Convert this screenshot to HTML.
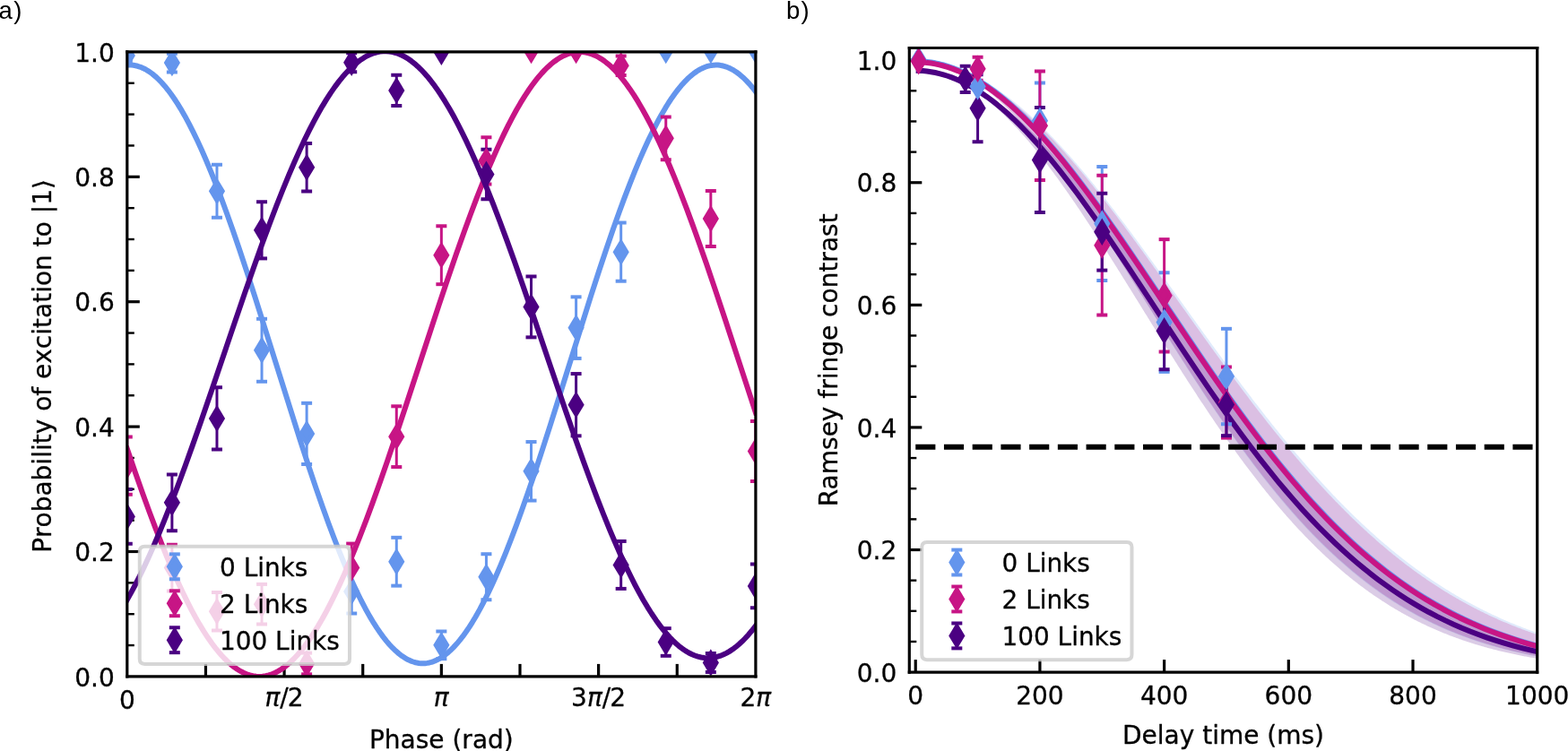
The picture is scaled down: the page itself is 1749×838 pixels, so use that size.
<!DOCTYPE html>
<html><head><meta charset="utf-8">
<style>html,body{margin:0;padding:0;background:#fff;} body{width:1749px;height:838px;overflow:hidden;position:relative;}
svg{display:block;} svg text{stroke:#000;stroke-width:0.3px;}
.lab{position:absolute;font-family:"Liberation Sans",Arial,sans-serif;font-size:27.5px;line-height:1;color:#000;}
</style></head><body>
<svg width="1749" height="838" viewBox="0 0 1749 838" version="1.1">
  <defs>
  <style type="text/css">*{stroke-linejoin: round; stroke-linecap: butt}</style>
 </defs>
 <g id="figure_1">
  <g id="patch_1">
   <path d="M 0 838 L 1749 838 L 1749 0 L 0 0 z
" style="fill: #ffffff"/>
  </g>
  <g id="axes_1">
   <g id="patch_2">
    <path d="M 141.8 754.9 L 842.9 754.9 L 842.9 57.9 L 141.8 57.9 z
" style="fill: #ffffff"/>
   </g>
   <g id="matplotlib.axis_1">
    <g id="xtick_1">
     <g id="text_1">
      <text style="font-size: 28px; font-family: 'DejaVu Sans', sans-serif; text-anchor: middle" x="141.8" y="790.975625" transform="rotate(-0 141.8 790.975625)">0</text>
     </g>
    </g>
    <g id="xtick_2">
     <g id="line2d_1">
            <g>
       <path d="M 0 0 L 0 -14 " transform="translate(229.4375 754.9)" style="stroke: #000000; stroke-width: 3.2"/>
      </g>
     </g>
    </g>
    <g id="xtick_3">
     <g id="line2d_2">
      <g>
       <path d="M 0 0 L 0 -14 " transform="translate(317.075 754.9)" style="stroke: #000000; stroke-width: 3.2"/>
      </g>
     </g>
     <g id="text_2">
      <!-- $\pi/2$ -->
      <g transform="translate(295.515 788.2756)">
       <text style="white-space: pre"><tspan x="0" y="-0.21875" style="font-style: oblique; font-size: 28px; font-family: 'DejaVu Sans', sans-serif; font-kerning: none">π</tspan><tspan x="16.8574" y="-0.21875" style="font-size: 28px; font-family: 'DejaVu Sans', sans-serif; font-kerning: none">/</tspan><tspan x="25.291" y="-0.21875" style="font-size: 28px; font-family: 'DejaVu Sans', sans-serif; font-kerning: none">2</tspan></text>
      </g>
     </g>
    </g>
    <g id="xtick_4">
     <g id="line2d_3">
      <g>
       <path d="M 0 0 L 0 -14 " transform="translate(404.7125 754.9)" style="stroke: #000000; stroke-width: 3.2"/>
      </g>
     </g>
    </g>
    <g id="xtick_5">
     <g id="line2d_4">
      <g>
       <path d="M 0 0 L 0 -14 " transform="translate(492.35 754.9)" style="stroke: #000000; stroke-width: 3.2"/>
      </g>
     </g>
     <g id="text_3">
      <!-- $\pi$ -->
      <g transform="translate(483.81 788.2756)">
       <text style="white-space: pre"><tspan x="0" y="-0.6875" style="font-style: oblique; font-size: 28px; font-family: 'DejaVu Sans', sans-serif; font-kerning: none">π</tspan></text>
      </g>
     </g>
    </g>
    <g id="xtick_6">
     <g id="line2d_5">
      <g>
       <path d="M 0 0 L 0 -14 " transform="translate(579.9875 754.9)" style="stroke: #000000; stroke-width: 3.2"/>
      </g>
     </g>
    </g>
    <g id="xtick_7">
     <g id="line2d_6">
      <g>
       <path d="M 0 0 L 0 -14 " transform="translate(667.625 754.9)" style="stroke: #000000; stroke-width: 3.2"/>
      </g>
     </g>
     <g id="text_4">
      <!-- $3\pi/2$ -->
      <g transform="translate(637.105 788.2756)">
       <text style="white-space: pre"><tspan x="0" y="-0.21875" style="font-size: 28px; font-family: 'DejaVu Sans', sans-serif; font-kerning: none">3</tspan><tspan x="17.8145" y="-0.21875" style="font-style: oblique; font-size: 28px; font-family: 'DejaVu Sans', sans-serif; font-kerning: none">π</tspan><tspan x="34.6719" y="-0.21875" style="font-size: 28px; font-family: 'DejaVu Sans', sans-serif; font-kerning: none">/</tspan><tspan x="43.1055" y="-0.21875" style="font-size: 28px; font-family: 'DejaVu Sans', sans-serif; font-kerning: none">2</tspan></text>
      </g>
     </g>
    </g>
    <g id="xtick_8">
     <g id="line2d_7">
      <g>
       <path d="M 0 0 L 0 -14 " transform="translate(755.2625 754.9)" style="stroke: #000000; stroke-width: 3.2"/>
      </g>
     </g>
    </g>
    <g id="xtick_9">
     <g id="text_5">
      <!-- $2\pi$ -->
      <g transform="translate(825.54 788.2756)">
       <text style="white-space: pre"><tspan x="0" y="-0.21875" style="font-size: 28px; font-family: 'DejaVu Sans', sans-serif; font-kerning: none">2</tspan><tspan x="17.8145" y="-0.21875" style="font-style: oblique; font-size: 28px; font-family: 'DejaVu Sans', sans-serif; font-kerning: none">π</tspan></text>
      </g>
     </g>
    </g>
    <g id="text_6">
     <text style="font-size: 28px; font-family: 'DejaVu Sans', sans-serif; text-anchor: middle" x="492.35" y="834.874375" transform="rotate(-0 492.35 834.874375)">Phase (rad)</text>
    </g>
   </g>
   <g id="matplotlib.axis_2">
    <g id="ytick_1">
     <g id="text_7">
      <text style="font-size: 28px; font-family: 'DejaVu Sans', sans-serif; text-anchor: end" x="127.8" y="765.537812" transform="rotate(-0 127.8 765.537812)">0.0</text>
     </g>
    </g>
    <g id="ytick_2">
     <g id="line2d_8">
            <g>
       <path d="M 0 0 L 14 0 " transform="translate(141.8 615.5)" style="stroke: #000000; stroke-width: 3.2"/>
      </g>
     </g>
     <g id="text_8">
      <text style="font-size: 28px; font-family: 'DejaVu Sans', sans-serif; text-anchor: end" x="127.8" y="626.137812" transform="rotate(-0 127.8 626.137812)">0.2</text>
     </g>
    </g>
    <g id="ytick_3">
     <g id="line2d_9">
      <g>
       <path d="M 0 0 L 14 0 " transform="translate(141.8 476.1)" style="stroke: #000000; stroke-width: 3.2"/>
      </g>
     </g>
     <g id="text_9">
      <text style="font-size: 28px; font-family: 'DejaVu Sans', sans-serif; text-anchor: end" x="127.8" y="486.737813" transform="rotate(-0 127.8 486.737813)">0.4</text>
     </g>
    </g>
    <g id="ytick_4">
     <g id="line2d_10">
      <g>
       <path d="M 0 0 L 14 0 " transform="translate(141.8 336.7)" style="stroke: #000000; stroke-width: 3.2"/>
      </g>
     </g>
     <g id="text_10">
      <text style="font-size: 28px; font-family: 'DejaVu Sans', sans-serif; text-anchor: end" x="127.8" y="347.337813" transform="rotate(-0 127.8 347.337813)">0.6</text>
     </g>
    </g>
    <g id="ytick_5">
     <g id="line2d_11">
      <g>
       <path d="M 0 0 L 14 0 " transform="translate(141.8 197.3)" style="stroke: #000000; stroke-width: 3.2"/>
      </g>
     </g>
     <g id="text_11">
      <text style="font-size: 28px; font-family: 'DejaVu Sans', sans-serif; text-anchor: end" x="127.8" y="207.937812" transform="rotate(-0 127.8 207.937812)">0.8</text>
     </g>
    </g>
    <g id="ytick_6">
     <g id="text_12">
      <text style="font-size: 28px; font-family: 'DejaVu Sans', sans-serif; text-anchor: end" x="127.8" y="68.537812" transform="rotate(-0 127.8 68.537812)">1.0</text>
     </g>
    </g>
    <g id="ytick_7">
     <g id="line2d_12">
            <g>
       <path d="M 0 0 L 8 0 " transform="translate(141.8 720.05)" style="stroke: #000000; stroke-width: 2.4"/>
      </g>
     </g>
    </g>
    <g id="ytick_8">
     <g id="line2d_13">
      <g>
       <path d="M 0 0 L 8 0 " transform="translate(141.8 685.2)" style="stroke: #000000; stroke-width: 2.4"/>
      </g>
     </g>
    </g>
    <g id="ytick_9">
     <g id="line2d_14">
      <g>
       <path d="M 0 0 L 8 0 " transform="translate(141.8 650.35)" style="stroke: #000000; stroke-width: 2.4"/>
      </g>
     </g>
    </g>
    <g id="ytick_10">
     <g id="line2d_15">
      <g>
       <path d="M 0 0 L 8 0 " transform="translate(141.8 580.65)" style="stroke: #000000; stroke-width: 2.4"/>
      </g>
     </g>
    </g>
    <g id="ytick_11">
     <g id="line2d_16">
      <g>
       <path d="M 0 0 L 8 0 " transform="translate(141.8 545.8)" style="stroke: #000000; stroke-width: 2.4"/>
      </g>
     </g>
    </g>
    <g id="ytick_12">
     <g id="line2d_17">
      <g>
       <path d="M 0 0 L 8 0 " transform="translate(141.8 510.95)" style="stroke: #000000; stroke-width: 2.4"/>
      </g>
     </g>
    </g>
    <g id="ytick_13">
     <g id="line2d_18">
      <g>
       <path d="M 0 0 L 8 0 " transform="translate(141.8 441.25)" style="stroke: #000000; stroke-width: 2.4"/>
      </g>
     </g>
    </g>
    <g id="ytick_14">
     <g id="line2d_19">
      <g>
       <path d="M 0 0 L 8 0 " transform="translate(141.8 406.4)" style="stroke: #000000; stroke-width: 2.4"/>
      </g>
     </g>
    </g>
    <g id="ytick_15">
     <g id="line2d_20">
      <g>
       <path d="M 0 0 L 8 0 " transform="translate(141.8 371.55)" style="stroke: #000000; stroke-width: 2.4"/>
      </g>
     </g>
    </g>
    <g id="ytick_16">
     <g id="line2d_21">
      <g>
       <path d="M 0 0 L 8 0 " transform="translate(141.8 301.85)" style="stroke: #000000; stroke-width: 2.4"/>
      </g>
     </g>
    </g>
    <g id="ytick_17">
     <g id="line2d_22">
      <g>
       <path d="M 0 0 L 8 0 " transform="translate(141.8 267)" style="stroke: #000000; stroke-width: 2.4"/>
      </g>
     </g>
    </g>
    <g id="ytick_18">
     <g id="line2d_23">
      <g>
       <path d="M 0 0 L 8 0 " transform="translate(141.8 232.15)" style="stroke: #000000; stroke-width: 2.4"/>
      </g>
     </g>
    </g>
    <g id="ytick_19">
     <g id="line2d_24">
      <g>
       <path d="M 0 0 L 8 0 " transform="translate(141.8 162.45)" style="stroke: #000000; stroke-width: 2.4"/>
      </g>
     </g>
    </g>
    <g id="ytick_20">
     <g id="line2d_25">
      <g>
       <path d="M 0 0 L 8 0 " transform="translate(141.8 127.6)" style="stroke: #000000; stroke-width: 2.4"/>
      </g>
     </g>
    </g>
    <g id="ytick_21">
     <g id="line2d_26">
      <g>
       <path d="M 0 0 L 8 0 " transform="translate(141.8 92.75)" style="stroke: #000000; stroke-width: 2.4"/>
      </g>
     </g>
    </g>
    <g id="ylab1" transform="translate(-3 2)">
     <!-- Probability of excitation to $|1\rangle$ -->
     <g transform="translate(60.55125 614.86) rotate(-90)">
      <text style="white-space: pre"><tspan x="0" y="-0.609375" style="font-size: 28px; font-family: 'DejaVu Sans', sans-serif; font-kerning: none">Probability of excitation to |1⟩</tspan></text>
     </g>
    </g>
   </g>
   <g id="LineCollection_1">
    <path d="M 141.8 69.052 L 141.8 55.112 " clip-path="url(#pd5bb736782)" style="fill: none; stroke: #6495ed; stroke-width: 3"/>
    <path d="M 191.878571 80.4131 L 191.878571 59.7819 " clip-path="url(#pd5bb736782)" style="fill: none; stroke: #6495ed; stroke-width: 3"/>
    <path d="M 241.957143 242.8141 L 241.957143 183.8479 " clip-path="url(#pd5bb736782)" style="fill: none; stroke: #6495ed; stroke-width: 3"/>
    <path d="M 292.035714 425.7766 L 292.035714 355.7978 " clip-path="url(#pd5bb736782)" style="fill: none; stroke: #6495ed; stroke-width: 3"/>
    <path d="M 342.114286 517.9897 L 342.114286 449.8231 " clip-path="url(#pd5bb736782)" style="fill: none; stroke: #6495ed; stroke-width: 3"/>
    <path d="M 392.192857 684.503 L 392.192857 635.713 " clip-path="url(#pd5bb736782)" style="fill: none; stroke: #6495ed; stroke-width: 3"/>
    <path d="M 442.271429 653.6259 L 442.271429 599.8175 " clip-path="url(#pd5bb736782)" style="fill: none; stroke: #6495ed; stroke-width: 3"/>
    <path d="M 492.35 735.1749 L 492.35 704.5069 " clip-path="url(#pd5bb736782)" style="fill: none; stroke: #6495ed; stroke-width: 3"/>
    <path d="M 542.428571 669.2387 L 542.428571 618.2183 " clip-path="url(#pd5bb736782)" style="fill: none; stroke: #6495ed; stroke-width: 3"/>
    <path d="M 592.507143 558.5551 L 592.507143 493.0371 " clip-path="url(#pd5bb736782)" style="fill: none; stroke: #6495ed; stroke-width: 3"/>
    <path d="M 642.585714 399.9179 L 642.585714 331.3331 " clip-path="url(#pd5bb736782)" style="fill: none; stroke: #6495ed; stroke-width: 3"/>
    <path d="M 692.664286 313.699 L 692.664286 248.5992 " clip-path="url(#pd5bb736782)" style="fill: none; stroke: #6495ed; stroke-width: 3"/>
    <path d="M 742.742857 56.1575 L 742.742857 56.1575 " clip-path="url(#pd5bb736782)" style="fill: none; stroke: #6495ed; stroke-width: 3"/>
    <path d="M 792.821429 56.1575 L 792.821429 56.1575 " clip-path="url(#pd5bb736782)" style="fill: none; stroke: #6495ed; stroke-width: 3"/>
    <path d="M 842.9 56.1575 L 842.9 56.1575 " clip-path="url(#pd5bb736782)" style="fill: none; stroke: #6495ed; stroke-width: 3"/>
   </g>
   <g id="line2d_27">
        <g clip-path="url(#pd5bb736782)">
     <path d="M 6 0 L -6 -0 " transform="translate(141.8 69.052)" style="fill: #6495ed; stroke: #6495ed; stroke-width: 4"/>
     <path d="M 6 0 L -6 -0 " transform="translate(191.878571 80.4131)" style="fill: #6495ed; stroke: #6495ed; stroke-width: 4"/>
     <path d="M 6 0 L -6 -0 " transform="translate(241.957143 242.8141)" style="fill: #6495ed; stroke: #6495ed; stroke-width: 4"/>
     <path d="M 6 0 L -6 -0 " transform="translate(292.035714 425.7766)" style="fill: #6495ed; stroke: #6495ed; stroke-width: 4"/>
     <path d="M 6 0 L -6 -0 " transform="translate(342.114286 517.9897)" style="fill: #6495ed; stroke: #6495ed; stroke-width: 4"/>
     <path d="M 6 0 L -6 -0 " transform="translate(392.192857 684.503)" style="fill: #6495ed; stroke: #6495ed; stroke-width: 4"/>
     <path d="M 6 0 L -6 -0 " transform="translate(442.271429 653.6259)" style="fill: #6495ed; stroke: #6495ed; stroke-width: 4"/>
     <path d="M 6 0 L -6 -0 " transform="translate(492.35 735.1749)" style="fill: #6495ed; stroke: #6495ed; stroke-width: 4"/>
     <path d="M 6 0 L -6 -0 " transform="translate(542.428571 669.2387)" style="fill: #6495ed; stroke: #6495ed; stroke-width: 4"/>
     <path d="M 6 0 L -6 -0 " transform="translate(592.507143 558.5551)" style="fill: #6495ed; stroke: #6495ed; stroke-width: 4"/>
     <path d="M 6 0 L -6 -0 " transform="translate(642.585714 399.9179)" style="fill: #6495ed; stroke: #6495ed; stroke-width: 4"/>
     <path d="M 6 0 L -6 -0 " transform="translate(692.664286 313.699)" style="fill: #6495ed; stroke: #6495ed; stroke-width: 4"/>
     <path d="M 6 0 L -6 -0 " transform="translate(742.742857 56.1575)" style="fill: #6495ed; stroke: #6495ed; stroke-width: 4"/>
     <path d="M 6 0 L -6 -0 " transform="translate(792.821429 56.1575)" style="fill: #6495ed; stroke: #6495ed; stroke-width: 4"/>
     <path d="M 6 0 L -6 -0 " transform="translate(842.9 56.1575)" style="fill: #6495ed; stroke: #6495ed; stroke-width: 4"/>
    </g>
   </g>
   <g id="line2d_28">
    <g clip-path="url(#pd5bb736782)">
     <path d="M 6 0 L -6 -0 " transform="translate(141.8 55.112)" style="fill: #6495ed; stroke: #6495ed; stroke-width: 4"/>
     <path d="M 6 0 L -6 -0 " transform="translate(191.878571 59.7819)" style="fill: #6495ed; stroke: #6495ed; stroke-width: 4"/>
     <path d="M 6 0 L -6 -0 " transform="translate(241.957143 183.8479)" style="fill: #6495ed; stroke: #6495ed; stroke-width: 4"/>
     <path d="M 6 0 L -6 -0 " transform="translate(292.035714 355.7978)" style="fill: #6495ed; stroke: #6495ed; stroke-width: 4"/>
     <path d="M 6 0 L -6 -0 " transform="translate(342.114286 449.8231)" style="fill: #6495ed; stroke: #6495ed; stroke-width: 4"/>
     <path d="M 6 0 L -6 -0 " transform="translate(392.192857 635.713)" style="fill: #6495ed; stroke: #6495ed; stroke-width: 4"/>
     <path d="M 6 0 L -6 -0 " transform="translate(442.271429 599.8175)" style="fill: #6495ed; stroke: #6495ed; stroke-width: 4"/>
     <path d="M 6 0 L -6 -0 " transform="translate(492.35 704.5069)" style="fill: #6495ed; stroke: #6495ed; stroke-width: 4"/>
     <path d="M 6 0 L -6 -0 " transform="translate(542.428571 618.2183)" style="fill: #6495ed; stroke: #6495ed; stroke-width: 4"/>
     <path d="M 6 0 L -6 -0 " transform="translate(592.507143 493.0371)" style="fill: #6495ed; stroke: #6495ed; stroke-width: 4"/>
     <path d="M 6 0 L -6 -0 " transform="translate(642.585714 331.3331)" style="fill: #6495ed; stroke: #6495ed; stroke-width: 4"/>
     <path d="M 6 0 L -6 -0 " transform="translate(692.664286 248.5992)" style="fill: #6495ed; stroke: #6495ed; stroke-width: 4"/>
     <path d="M 6 0 L -6 -0 " transform="translate(742.742857 56.1575)" style="fill: #6495ed; stroke: #6495ed; stroke-width: 4"/>
     <path d="M 6 0 L -6 -0 " transform="translate(792.821429 56.1575)" style="fill: #6495ed; stroke: #6495ed; stroke-width: 4"/>
     <path d="M 6 0 L -6 -0 " transform="translate(842.9 56.1575)" style="fill: #6495ed; stroke: #6495ed; stroke-width: 4"/>
    </g>
   </g>
   <g id="line2d_29">
    <path d="M 141.8 72.649365 L 144.140902 72.539001 L 146.481803 72.597393 L 148.822705 72.824513 L 151.163606 73.220244 L 153.504508 73.784387 L 155.845409 74.516657 L 158.186311 75.416684 L 160.527212 76.484012 L 162.868114 77.718103 L 166.379466 79.88053 L 169.890818 82.41429 L 173.40217 85.316501 L 176.913523 88.583862 L 180.424875 92.212658 L 183.936227 96.198762 L 187.447579 100.537641 L 190.958932 105.22436 L 194.470284 110.253589 L 197.981636 115.61961 L 201.492988 121.316318 L 206.174791 129.415083 L 210.856594 138.073807 L 215.538397 147.274983 L 220.2202 157.000012 L 224.902003 167.229232 L 229.583806 177.941965 L 235.43606 191.979737 L 241.288314 206.694752 L 247.140568 222.040531 L 252.992821 237.968607 L 260.015526 257.779973 L 267.03823 278.267217 L 275.231386 302.898785 L 284.594992 331.824448 L 296.299499 368.801255 L 334.924374 491.621196 L 344.28798 520.268148 L 352.481135 544.587017 L 359.50384 564.756621 L 366.526544 584.20607 L 372.378798 599.799904 L 378.231052 614.782888 L 384.083306 629.1077 L 388.765109 640.063186 L 393.446912 650.546294 L 398.128715 660.535832 L 402.810518 670.011603 L 407.492321 678.954452 L 412.174124 687.3463 L 416.855927 695.170182 L 420.367279 700.655806 L 423.878631 705.806789 L 427.389983 710.617274 L 430.901336 715.081789 L 434.412688 719.195257 L 437.92404 722.953001 L 441.435392 726.350747 L 444.946745 729.38463 L 448.458097 732.0512 L 451.969449 734.347426 L 455.480801 736.270695 L 457.821703 737.344579 L 460.162604 738.251181 L 462.503506 738.990042 L 464.844407 739.560789 L 467.185309 739.963134 L 469.52621 740.196874 L 471.867112 740.261889 L 474.208013 740.158148 L 476.548915 739.885702 L 478.889816 739.44469 L 481.230718 738.835334 L 483.571619 738.057943 L 485.912521 737.112909 L 488.253422 736.00071 L 491.764775 734.020229 L 495.276127 731.667165 L 498.787479 728.944192 L 502.298831 725.854407 L 505.810184 722.401324 L 509.321536 718.588871 L 512.832888 714.421383 L 516.34424 709.903599 L 519.855593 705.040657 L 523.366945 699.838087 L 526.878297 694.301807 L 530.389649 688.438112 L 535.071452 680.122118 L 539.753255 671.252763 L 544.435058 661.847976 L 549.116861 651.92677 L 553.798664 641.509203 L 558.480467 630.616335 L 564.332721 616.365493 L 570.184975 601.451479 L 576.037229 585.921398 L 581.889482 569.824303 L 588.912187 549.831032 L 595.934891 529.185482 L 604.128047 504.400001 L 613.491653 475.340175 L 625.19616 438.259809 L 659.139232 330.146386 L 668.502838 301.26245 L 676.695993 276.678257 L 683.718698 256.23946 L 690.741402 236.483546 L 696.593656 220.606852 L 702.44591 205.316982 L 708.298164 190.662229 L 714.150417 176.688879 L 718.83222 166.030544 L 723.514023 155.858145 L 728.195826 146.192245 L 732.877629 137.052387 L 737.559432 128.457047 L 742.241235 120.423602 L 745.752588 114.777076 L 749.26394 109.462195 L 752.775292 104.485006 L 756.286644 99.851168 L 759.797997 95.56595 L 763.309349 91.634228 L 766.820701 88.060471 L 770.332053 84.848743 L 773.843406 82.002699 L 777.354758 79.525573 L 780.86611 77.420184 L 784.377462 75.688925 L 786.718364 74.743592 L 789.059265 73.965902 L 791.400167 73.356246 L 793.741068 72.914934 L 796.08197 72.642188 L 798.422871 72.538146 L 800.763773 72.602861 L 803.104674 72.836299 L 805.445576 73.238344 L 807.786477 73.808792 L 810.127379 74.547354 L 812.46828 75.453657 L 814.809182 76.527243 L 818.320534 78.450067 L 821.831886 80.745851 L 825.343239 83.411984 L 828.854591 86.445433 L 832.365943 89.842748 L 835.877295 93.600067 L 839.388648 97.713115 L 842.9 102.177216 L 842.9 102.177216 " clip-path="url(#pd5bb736782)" style="fill: none; stroke: #6495ed; stroke-width: 6; stroke-linecap: square"/>
   </g>
   <g id="LineCollection_2">
    <path d="M 141.8 551.6548 L 141.8 487.5308 " clip-path="url(#pd5bb736782)" style="fill: none; stroke: #c71585; stroke-width: 3"/>
    <path d="M 191.878571 659.411 L 191.878571 607.833 " clip-path="url(#pd5bb736782)" style="fill: none; stroke: #c71585; stroke-width: 3"/>
    <path d="M 241.957143 703.6008 L 241.957143 660.9444 " clip-path="url(#pd5bb736782)" style="fill: none; stroke: #c71585; stroke-width: 3"/>
    <path d="M 292.035714 696.4914 L 292.035714 651.8834 " clip-path="url(#pd5bb736782)" style="fill: none; stroke: #c71585; stroke-width: 3"/>
    <path d="M 342.114286 752.3211 L 342.114286 728.6231 " clip-path="url(#pd5bb736782)" style="fill: none; stroke: #c71585; stroke-width: 3"/>
    <path d="M 392.192857 660.3868 L 392.192857 606.5784 " clip-path="url(#pd5bb736782)" style="fill: none; stroke: #c71585; stroke-width: 3"/>
    <path d="M 442.271429 521.0565 L 442.271429 453.3081 " clip-path="url(#pd5bb736782)" style="fill: none; stroke: #c71585; stroke-width: 3"/>
    <path d="M 492.35 317.184 L 492.35 252.2236 " clip-path="url(#pd5bb736782)" style="fill: none; stroke: #c71585; stroke-width: 3"/>
    <path d="M 542.428571 205.5943 L 542.428571 153.1799 " clip-path="url(#pd5bb736782)" style="fill: none; stroke: #c71585; stroke-width: 3"/>
    <path d="M 592.507143 56.1575 L 592.507143 56.1575 " clip-path="url(#pd5bb736782)" style="fill: none; stroke: #c71585; stroke-width: 3"/>
    <path d="M 642.585714 56.1575 L 642.585714 56.1575 " clip-path="url(#pd5bb736782)" style="fill: none; stroke: #c71585; stroke-width: 3"/>
    <path d="M 692.664286 84.0375 L 692.664286 62.4305 " clip-path="url(#pd5bb736782)" style="fill: none; stroke: #c71585; stroke-width: 3"/>
    <path d="M 742.742857 178.1325 L 742.742857 130.4577 " clip-path="url(#pd5bb736782)" style="fill: none; stroke: #c71585; stroke-width: 3"/>
    <path d="M 792.821429 275.0852 L 792.821429 213.0522 " clip-path="url(#pd5bb736782)" style="fill: none; stroke: #c71585; stroke-width: 3"/>
    <path d="M 842.9 537.0178 L 842.9 470.1058 " clip-path="url(#pd5bb736782)" style="fill: none; stroke: #c71585; stroke-width: 3"/>
   </g>
   <g id="line2d_30">
        <g clip-path="url(#pd5bb736782)">
     <path d="M 6 0 L -6 -0 " transform="translate(141.8 551.6548)" style="fill: #c71585; stroke: #c71585; stroke-width: 4"/>
     <path d="M 6 0 L -6 -0 " transform="translate(191.878571 659.411)" style="fill: #c71585; stroke: #c71585; stroke-width: 4"/>
     <path d="M 6 0 L -6 -0 " transform="translate(241.957143 703.6008)" style="fill: #c71585; stroke: #c71585; stroke-width: 4"/>
     <path d="M 6 0 L -6 -0 " transform="translate(292.035714 696.4914)" style="fill: #c71585; stroke: #c71585; stroke-width: 4"/>
     <path d="M 6 0 L -6 -0 " transform="translate(342.114286 752.3211)" style="fill: #c71585; stroke: #c71585; stroke-width: 4"/>
     <path d="M 6 0 L -6 -0 " transform="translate(392.192857 660.3868)" style="fill: #c71585; stroke: #c71585; stroke-width: 4"/>
     <path d="M 6 0 L -6 -0 " transform="translate(442.271429 521.0565)" style="fill: #c71585; stroke: #c71585; stroke-width: 4"/>
     <path d="M 6 0 L -6 -0 " transform="translate(492.35 317.184)" style="fill: #c71585; stroke: #c71585; stroke-width: 4"/>
     <path d="M 6 0 L -6 -0 " transform="translate(542.428571 205.5943)" style="fill: #c71585; stroke: #c71585; stroke-width: 4"/>
     <path d="M 6 0 L -6 -0 " transform="translate(592.507143 56.1575)" style="fill: #c71585; stroke: #c71585; stroke-width: 4"/>
     <path d="M 6 0 L -6 -0 " transform="translate(642.585714 56.1575)" style="fill: #c71585; stroke: #c71585; stroke-width: 4"/>
     <path d="M 6 0 L -6 -0 " transform="translate(692.664286 84.0375)" style="fill: #c71585; stroke: #c71585; stroke-width: 4"/>
     <path d="M 6 0 L -6 -0 " transform="translate(742.742857 178.1325)" style="fill: #c71585; stroke: #c71585; stroke-width: 4"/>
     <path d="M 6 0 L -6 -0 " transform="translate(792.821429 275.0852)" style="fill: #c71585; stroke: #c71585; stroke-width: 4"/>
     <path d="M 6 0 L -6 -0 " transform="translate(842.9 537.0178)" style="fill: #c71585; stroke: #c71585; stroke-width: 4"/>
    </g>
   </g>
   <g id="line2d_31">
    <g clip-path="url(#pd5bb736782)">
     <path d="M 6 0 L -6 -0 " transform="translate(141.8 487.5308)" style="fill: #c71585; stroke: #c71585; stroke-width: 4"/>
     <path d="M 6 0 L -6 -0 " transform="translate(191.878571 607.833)" style="fill: #c71585; stroke: #c71585; stroke-width: 4"/>
     <path d="M 6 0 L -6 -0 " transform="translate(241.957143 660.9444)" style="fill: #c71585; stroke: #c71585; stroke-width: 4"/>
     <path d="M 6 0 L -6 -0 " transform="translate(292.035714 651.8834)" style="fill: #c71585; stroke: #c71585; stroke-width: 4"/>
     <path d="M 6 0 L -6 -0 " transform="translate(342.114286 728.6231)" style="fill: #c71585; stroke: #c71585; stroke-width: 4"/>
     <path d="M 6 0 L -6 -0 " transform="translate(392.192857 606.5784)" style="fill: #c71585; stroke: #c71585; stroke-width: 4"/>
     <path d="M 6 0 L -6 -0 " transform="translate(442.271429 453.3081)" style="fill: #c71585; stroke: #c71585; stroke-width: 4"/>
     <path d="M 6 0 L -6 -0 " transform="translate(492.35 252.2236)" style="fill: #c71585; stroke: #c71585; stroke-width: 4"/>
     <path d="M 6 0 L -6 -0 " transform="translate(542.428571 153.1799)" style="fill: #c71585; stroke: #c71585; stroke-width: 4"/>
     <path d="M 6 0 L -6 -0 " transform="translate(592.507143 56.1575)" style="fill: #c71585; stroke: #c71585; stroke-width: 4"/>
     <path d="M 6 0 L -6 -0 " transform="translate(642.585714 56.1575)" style="fill: #c71585; stroke: #c71585; stroke-width: 4"/>
     <path d="M 6 0 L -6 -0 " transform="translate(692.664286 62.4305)" style="fill: #c71585; stroke: #c71585; stroke-width: 4"/>
     <path d="M 6 0 L -6 -0 " transform="translate(742.742857 130.4577)" style="fill: #c71585; stroke: #c71585; stroke-width: 4"/>
     <path d="M 6 0 L -6 -0 " transform="translate(792.821429 213.0522)" style="fill: #c71585; stroke: #c71585; stroke-width: 4"/>
     <path d="M 6 0 L -6 -0 " transform="translate(842.9 470.1058)" style="fill: #c71585; stroke: #c71585; stroke-width: 4"/>
    </g>
   </g>
   <g id="line2d_32">
    <path d="M 141.8 500.740398 L 151.163606 528.01136 L 159.356761 551.203777 L 166.379466 570.489555 L 173.40217 589.149853 L 180.424875 607.113542 L 186.277129 621.501663 L 192.129382 635.320333 L 197.981636 648.53297 L 203.83389 661.104595 L 208.515693 670.677942 L 213.197496 679.803485 L 217.879299 688.465762 L 222.561102 696.650095 L 227.242905 704.342616 L 231.924708 711.53029 L 236.606511 718.200939 L 240.117863 722.857795 L 243.629215 727.213008 L 247.140568 731.262428 L 250.65192 735.002195 L 254.163272 738.428745 L 257.674624 741.53881 L 261.185977 744.329427 L 264.697329 746.797935 L 268.208681 748.941982 L 271.720033 750.759524 L 275.231386 752.248828 L 278.742738 753.408476 L 282.25409 754.237361 L 285.765442 754.734693 L 289.276795 754.899999 L 292.788147 754.733121 L 296.299499 754.234218 L 299.810851 753.403765 L 303.322204 752.242554 L 306.833556 750.751693 L 310.344908 748.932601 L 313.85626 746.787013 L 317.367613 744.316975 L 320.878965 741.524839 L 324.390317 738.413269 L 327.901669 734.985229 L 331.413022 731.243988 L 334.924374 727.193111 L 338.435726 722.83646 L 341.947078 718.178187 L 345.458431 713.222732 L 350.140234 706.161381 L 354.822037 698.592102 L 359.50384 690.527721 L 364.185643 681.981901 L 368.867446 672.969124 L 373.549249 663.504661 L 378.231052 653.604549 L 384.083306 640.642401 L 389.935559 627.060131 L 395.787813 612.893695 L 401.640067 598.180597 L 408.662771 579.858223 L 415.685476 560.874658 L 423.878631 537.988158 L 432.071786 514.419016 L 441.435392 486.803952 L 453.1399 451.541391 L 473.037563 390.701157 L 489.423873 340.875332 L 499.95793 309.497533 L 509.321536 282.295371 L 517.514691 259.177029 L 524.537396 239.964749 L 531.5601 221.38689 L 538.582805 203.514268 L 544.435058 189.208377 L 550.287312 175.477469 L 556.139566 162.357895 L 561.99182 149.884387 L 566.673623 140.392998 L 571.355426 131.352344 L 576.037229 122.777741 L 580.719032 114.68372 L 585.400835 107.083995 L 590.082638 99.991444 L 593.59399 95.012125 L 597.105342 90.329617 L 600.616694 85.94838 L 604.128047 81.872593 L 607.639399 78.10614 L 611.150751 74.652611 L 614.662104 71.515297 L 618.173456 68.69719 L 621.684808 66.200975 L 625.19616 64.029032 L 628.707513 62.18343 L 632.218865 60.66593 L 635.730217 59.477978 L 639.241569 58.620706 L 642.752922 58.094931 L 646.264274 57.901154 L 649.775626 58.03956 L 653.286978 58.510017 L 656.798331 59.312077 L 660.309683 60.444975 L 663.821035 61.907632 L 667.332387 63.698652 L 670.84374 65.81633 L 674.355092 68.258645 L 677.866444 71.023271 L 681.377796 74.107573 L 684.889149 77.50861 L 688.400501 81.22314 L 691.911853 85.247623 L 695.423205 89.578223 L 698.934558 94.210812 L 702.44591 99.140974 L 707.127713 106.169253 L 711.809516 113.706255 L 716.491319 121.73921 L 721.173122 130.254507 L 725.854925 139.237715 L 730.536728 148.673615 L 735.218531 158.546217 L 741.070785 171.475529 L 746.923038 185.02677 L 752.775292 199.164064 L 758.627546 213.849986 L 765.65025 232.142442 L 772.672955 251.099137 L 779.695659 270.647811 L 787.888815 294.103268 L 797.252421 321.61561 L 808.956928 356.791564 L 826.513689 410.42187 L 842.9 460.416156 L 842.9 460.416156 " clip-path="url(#pd5bb736782)" style="fill: none; stroke: #c71585; stroke-width: 6; stroke-linecap: square"/>
   </g>
   <g id="LineCollection_3">
    <path d="M 141.8 606.8572 L 141.8 545.9394 " clip-path="url(#pd5bb736782)" style="fill: none; stroke: #4b0082; stroke-width: 3"/>
    <path d="M 191.878571 592.1505 L 191.878571 529.4205 " clip-path="url(#pd5bb736782)" style="fill: none; stroke: #4b0082; stroke-width: 3"/>
    <path d="M 241.957143 501.4708 L 241.957143 432.3284 " clip-path="url(#pd5bb736782)" style="fill: none; stroke: #4b0082; stroke-width: 3"/>
    <path d="M 292.035714 288.3979 L 292.035714 225.2497 " clip-path="url(#pd5bb736782)" style="fill: none; stroke: #4b0082; stroke-width: 3"/>
    <path d="M 342.114286 213.5401 L 342.114286 160.0105 " clip-path="url(#pd5bb736782)" style="fill: none; stroke: #4b0082; stroke-width: 3"/>
    <path d="M 392.192857 80.204 L 392.192857 59.294 " clip-path="url(#pd5bb736782)" style="fill: none; stroke: #4b0082; stroke-width: 3"/>
    <path d="M 442.271429 118.0511 L 442.271429 83.7587 " clip-path="url(#pd5bb736782)" style="fill: none; stroke: #4b0082; stroke-width: 3"/>
    <path d="M 492.35 57.9 L 492.35 57.9 " clip-path="url(#pd5bb736782)" style="fill: none; stroke: #4b0082; stroke-width: 3"/>
    <path d="M 542.428571 222.3223 L 542.428571 166.8411 " clip-path="url(#pd5bb736782)" style="fill: none; stroke: #4b0082; stroke-width: 3"/>
    <path d="M 592.507143 376.3593 L 592.507143 308.4715 " clip-path="url(#pd5bb736782)" style="fill: none; stroke: #4b0082; stroke-width: 3"/>
    <path d="M 642.585714 486.3459 L 642.585714 417.0641 " clip-path="url(#pd5bb736782)" style="fill: none; stroke: #4b0082; stroke-width: 3"/>
    <path d="M 692.664286 656.9018 L 692.664286 603.9298 " clip-path="url(#pd5bb736782)" style="fill: none; stroke: #4b0082; stroke-width: 3"/>
    <path d="M 742.742857 731.8293 L 742.742857 701.1613 " clip-path="url(#pd5bb736782)" style="fill: none; stroke: #4b0082; stroke-width: 3"/>
    <path d="M 792.821429 750.0907 L 792.821429 729.0413 " clip-path="url(#pd5bb736782)" style="fill: none; stroke: #4b0082; stroke-width: 3"/>
    <path d="M 842.9 678.3694 L 842.9 629.5794 " clip-path="url(#pd5bb736782)" style="fill: none; stroke: #4b0082; stroke-width: 3"/>
   </g>
   <g id="line2d_33">
        <g clip-path="url(#pd5bb736782)">
     <path d="M 6 0 L -6 -0 " transform="translate(141.8 606.8572)" style="fill: #4b0082; stroke: #4b0082; stroke-width: 4"/>
     <path d="M 6 0 L -6 -0 " transform="translate(191.878571 592.1505)" style="fill: #4b0082; stroke: #4b0082; stroke-width: 4"/>
     <path d="M 6 0 L -6 -0 " transform="translate(241.957143 501.4708)" style="fill: #4b0082; stroke: #4b0082; stroke-width: 4"/>
     <path d="M 6 0 L -6 -0 " transform="translate(292.035714 288.3979)" style="fill: #4b0082; stroke: #4b0082; stroke-width: 4"/>
     <path d="M 6 0 L -6 -0 " transform="translate(342.114286 213.5401)" style="fill: #4b0082; stroke: #4b0082; stroke-width: 4"/>
     <path d="M 6 0 L -6 -0 " transform="translate(392.192857 80.204)" style="fill: #4b0082; stroke: #4b0082; stroke-width: 4"/>
     <path d="M 6 0 L -6 -0 " transform="translate(442.271429 118.0511)" style="fill: #4b0082; stroke: #4b0082; stroke-width: 4"/>
     <path d="M 6 0 L -6 -0 " transform="translate(492.35 57.9)" style="fill: #4b0082; stroke: #4b0082; stroke-width: 4"/>
     <path d="M 6 0 L -6 -0 " transform="translate(542.428571 222.3223)" style="fill: #4b0082; stroke: #4b0082; stroke-width: 4"/>
     <path d="M 6 0 L -6 -0 " transform="translate(592.507143 376.3593)" style="fill: #4b0082; stroke: #4b0082; stroke-width: 4"/>
     <path d="M 6 0 L -6 -0 " transform="translate(642.585714 486.3459)" style="fill: #4b0082; stroke: #4b0082; stroke-width: 4"/>
     <path d="M 6 0 L -6 -0 " transform="translate(692.664286 656.9018)" style="fill: #4b0082; stroke: #4b0082; stroke-width: 4"/>
     <path d="M 6 0 L -6 -0 " transform="translate(742.742857 731.8293)" style="fill: #4b0082; stroke: #4b0082; stroke-width: 4"/>
     <path d="M 6 0 L -6 -0 " transform="translate(792.821429 750.0907)" style="fill: #4b0082; stroke: #4b0082; stroke-width: 4"/>
     <path d="M 6 0 L -6 -0 " transform="translate(842.9 678.3694)" style="fill: #4b0082; stroke: #4b0082; stroke-width: 4"/>
    </g>
   </g>
   <g id="line2d_34">
    <g clip-path="url(#pd5bb736782)">
     <path d="M 6 0 L -6 -0 " transform="translate(141.8 545.9394)" style="fill: #4b0082; stroke: #4b0082; stroke-width: 4"/>
     <path d="M 6 0 L -6 -0 " transform="translate(191.878571 529.4205)" style="fill: #4b0082; stroke: #4b0082; stroke-width: 4"/>
     <path d="M 6 0 L -6 -0 " transform="translate(241.957143 432.3284)" style="fill: #4b0082; stroke: #4b0082; stroke-width: 4"/>
     <path d="M 6 0 L -6 -0 " transform="translate(292.035714 225.2497)" style="fill: #4b0082; stroke: #4b0082; stroke-width: 4"/>
     <path d="M 6 0 L -6 -0 " transform="translate(342.114286 160.0105)" style="fill: #4b0082; stroke: #4b0082; stroke-width: 4"/>
     <path d="M 6 0 L -6 -0 " transform="translate(392.192857 59.294)" style="fill: #4b0082; stroke: #4b0082; stroke-width: 4"/>
     <path d="M 6 0 L -6 -0 " transform="translate(442.271429 83.7587)" style="fill: #4b0082; stroke: #4b0082; stroke-width: 4"/>
     <path d="M 6 0 L -6 -0 " transform="translate(492.35 57.9)" style="fill: #4b0082; stroke: #4b0082; stroke-width: 4"/>
     <path d="M 6 0 L -6 -0 " transform="translate(542.428571 166.8411)" style="fill: #4b0082; stroke: #4b0082; stroke-width: 4"/>
     <path d="M 6 0 L -6 -0 " transform="translate(592.507143 308.4715)" style="fill: #4b0082; stroke: #4b0082; stroke-width: 4"/>
     <path d="M 6 0 L -6 -0 " transform="translate(642.585714 417.0641)" style="fill: #4b0082; stroke: #4b0082; stroke-width: 4"/>
     <path d="M 6 0 L -6 -0 " transform="translate(692.664286 603.9298)" style="fill: #4b0082; stroke: #4b0082; stroke-width: 4"/>
     <path d="M 6 0 L -6 -0 " transform="translate(742.742857 701.1613)" style="fill: #4b0082; stroke: #4b0082; stroke-width: 4"/>
     <path d="M 6 0 L -6 -0 " transform="translate(792.821429 729.0413)" style="fill: #4b0082; stroke: #4b0082; stroke-width: 4"/>
     <path d="M 6 0 L -6 -0 " transform="translate(842.9 629.5794)" style="fill: #4b0082; stroke: #4b0082; stroke-width: 4"/>
    </g>
   </g>
   <g id="line2d_35">
    <path d="M 141.8 669.218302 L 146.481803 660.841178 L 151.163606 652.021679 L 155.845409 642.774523 L 160.527212 633.11514 L 166.379466 620.485836 L 172.23172 607.270587 L 178.083973 593.503846 L 183.936227 579.221504 L 190.958932 561.454618 L 197.981636 543.065646 L 206.174791 520.91781 L 214.367947 498.130439 L 223.731553 471.454091 L 235.43606 437.419436 L 257.674624 371.853658 L 272.890484 327.360495 L 283.424541 297.216228 L 292.788147 271.11185 L 300.981302 248.946771 L 308.004007 230.540817 L 315.026711 212.754984 L 322.049416 195.656035 L 327.901669 181.978007 L 333.753923 168.857266 L 339.606177 156.32802 L 345.458431 144.422934 L 350.140234 135.369175 L 354.822037 126.749883 L 359.50384 118.57944 L 364.185643 110.871482 L 368.867446 103.638869 L 373.549249 96.89367 L 378.231052 90.647142 L 381.742404 86.295801 L 385.253756 82.234926 L 388.765109 78.46833 L 392.276461 74.999549 L 395.787813 71.831839 L 399.299165 68.968173 L 402.810518 66.411239 L 406.32187 64.163438 L 409.833222 62.226879 L 413.344574 60.603381 L 416.855927 59.294466 L 420.367279 58.301365 L 423.878631 57.625009 L 427.389983 57.266032 L 430.901336 57.224773 L 434.412688 57.501269 L 437.92404 58.095261 L 441.435392 59.006192 L 444.946745 60.233207 L 448.458097 61.775153 L 451.969449 63.630583 L 455.480801 65.797756 L 458.992154 68.274638 L 462.503506 71.058902 L 466.014858 74.147937 L 469.52621 77.538841 L 473.037563 81.228433 L 476.548915 85.213248 L 480.060267 89.489547 L 483.571619 94.053315 L 487.082972 98.900268 L 491.764775 105.795481 L 496.446578 113.17451 L 501.128381 121.025042 L 505.810184 129.333977 L 510.491987 138.087449 L 515.17379 147.270853 L 519.855593 156.868863 L 525.707846 169.424955 L 531.5601 182.571061 L 537.412354 196.272909 L 543.264608 210.494777 L 550.287312 228.195149 L 557.310017 246.524446 L 565.503172 268.611605 L 573.696327 291.348221 L 583.059933 317.979045 L 594.764441 351.975949 L 614.662104 410.625125 L 631.048414 458.666143 L 641.582471 488.932205 L 650.946077 515.182615 L 659.139232 537.503848 L 666.161937 556.064099 L 673.184641 574.022499 L 680.207346 591.311636 L 686.059599 605.161103 L 691.911853 618.464578 L 697.764107 631.187377 L 703.616361 643.296331 L 708.298164 652.520256 L 712.979967 661.315691 L 717.66177 669.66796 L 722.343573 677.563126 L 727.025376 684.988014 L 731.707179 691.930234 L 736.388982 698.378203 L 739.900334 702.883323 L 743.411686 707.100128 L 746.923038 711.02466 L 750.434391 714.653235 L 753.945743 717.982446 L 757.457095 721.009169 L 760.968447 723.730563 L 764.4798 726.144072 L 767.991152 728.247432 L 771.502504 730.038668 L 775.013856 731.516099 L 778.525209 732.678338 L 782.036561 733.524293 L 785.547913 734.053171 L 789.059265 734.264476 L 792.570618 734.158008 L 796.08197 733.733868 L 799.593322 732.992455 L 803.104674 731.934463 L 806.616027 730.560886 L 810.127379 728.873014 L 813.638731 726.872431 L 817.150083 724.561014 L 820.661436 721.940934 L 824.172788 719.01465 L 827.68414 715.784908 L 831.195492 712.254741 L 834.706845 708.427462 L 838.218197 704.306664 L 841.729549 699.896215 L 842.9 698.362406 L 842.9 698.362406 " clip-path="url(#pd5bb736782)" style="fill: none; stroke: #4b0082; stroke-width: 6; stroke-linecap: square"/>
   </g>
   <g id="line2d_36">
        <g clip-path="url(#pd5bb736782)">
     <path d="M -0 11.313708 L 6.788225 0 L 0 -11.313708 L -6.788225 -0 z
" transform="translate(141.8 62.082)" style="fill: #6495ed; stroke: #6495ed; stroke-width: 4; stroke-linejoin: miter"/>
     <path d="M -0 11.313708 L 6.788225 0 L 0 -11.313708 L -6.788225 -0 z
" transform="translate(191.878571 70.0975)" style="fill: #6495ed; stroke: #6495ed; stroke-width: 4; stroke-linejoin: miter"/>
     <path d="M -0 11.313708 L 6.788225 0 L 0 -11.313708 L -6.788225 -0 z
" transform="translate(241.957143 213.331)" style="fill: #6495ed; stroke: #6495ed; stroke-width: 4; stroke-linejoin: miter"/>
     <path d="M -0 11.313708 L 6.788225 0 L 0 -11.313708 L -6.788225 -0 z
" transform="translate(292.035714 390.7872)" style="fill: #6495ed; stroke: #6495ed; stroke-width: 4; stroke-linejoin: miter"/>
     <path d="M -0 11.313708 L 6.788225 0 L 0 -11.313708 L -6.788225 -0 z
" transform="translate(342.114286 483.9064)" style="fill: #6495ed; stroke: #6495ed; stroke-width: 4; stroke-linejoin: miter"/>
     <path d="M -0 11.313708 L 6.788225 0 L 0 -11.313708 L -6.788225 -0 z
" transform="translate(392.192857 660.108)" style="fill: #6495ed; stroke: #6495ed; stroke-width: 4; stroke-linejoin: miter"/>
     <path d="M -0 11.313708 L 6.788225 0 L 0 -11.313708 L -6.788225 -0 z
" transform="translate(442.271429 626.7217)" style="fill: #6495ed; stroke: #6495ed; stroke-width: 4; stroke-linejoin: miter"/>
     <path d="M -0 11.313708 L 6.788225 0 L 0 -11.313708 L -6.788225 -0 z
" transform="translate(492.35 719.8409)" style="fill: #6495ed; stroke: #6495ed; stroke-width: 4; stroke-linejoin: miter"/>
     <path d="M -0 11.313708 L 6.788225 0 L 0 -11.313708 L -6.788225 -0 z
" transform="translate(542.428571 643.7285)" style="fill: #6495ed; stroke: #6495ed; stroke-width: 4; stroke-linejoin: miter"/>
     <path d="M -0 11.313708 L 6.788225 0 L 0 -11.313708 L -6.788225 -0 z
" transform="translate(592.507143 525.7961)" style="fill: #6495ed; stroke: #6495ed; stroke-width: 4; stroke-linejoin: miter"/>
     <path d="M -0 11.313708 L 6.788225 0 L 0 -11.313708 L -6.788225 -0 z
" transform="translate(642.585714 365.6255)" style="fill: #6495ed; stroke: #6495ed; stroke-width: 4; stroke-linejoin: miter"/>
     <path d="M -0 11.313708 L 6.788225 0 L 0 -11.313708 L -6.788225 -0 z
" transform="translate(692.664286 281.1491)" style="fill: #6495ed; stroke: #6495ed; stroke-width: 4; stroke-linejoin: miter"/>
     <path d="M -0 11.313708 L 6.788225 0 L 0 -11.313708 L -6.788225 -0 z
" transform="translate(742.742857 56.1575)" style="fill: #6495ed; stroke: #6495ed; stroke-width: 4; stroke-linejoin: miter"/>
     <path d="M -0 11.313708 L 6.788225 0 L 0 -11.313708 L -6.788225 -0 z
" transform="translate(792.821429 56.1575)" style="fill: #6495ed; stroke: #6495ed; stroke-width: 4; stroke-linejoin: miter"/>
     <path d="M -0 11.313708 L 6.788225 0 L 0 -11.313708 L -6.788225 -0 z
" transform="translate(842.9 56.1575)" style="fill: #6495ed; stroke: #6495ed; stroke-width: 4; stroke-linejoin: miter"/>
    </g>
   </g>
   <g id="line2d_37">
        <g clip-path="url(#pd5bb736782)">
     <path d="M -0 11.313708 L 6.788225 0 L 0 -11.313708 L -6.788225 -0 z
" transform="translate(141.8 519.5928)" style="fill: #c71585; stroke: #c71585; stroke-width: 4; stroke-linejoin: miter"/>
     <path d="M -0 11.313708 L 6.788225 0 L 0 -11.313708 L -6.788225 -0 z
" transform="translate(191.878571 633.622)" style="fill: #c71585; stroke: #c71585; stroke-width: 4; stroke-linejoin: miter"/>
     <path d="M -0 11.313708 L 6.788225 0 L 0 -11.313708 L -6.788225 -0 z
" transform="translate(241.957143 682.2726)" style="fill: #c71585; stroke: #c71585; stroke-width: 4; stroke-linejoin: miter"/>
     <path d="M -0 11.313708 L 6.788225 0 L 0 -11.313708 L -6.788225 -0 z
" transform="translate(292.035714 674.1874)" style="fill: #c71585; stroke: #c71585; stroke-width: 4; stroke-linejoin: miter"/>
     <path d="M -0 11.313708 L 6.788225 0 L 0 -11.313708 L -6.788225 -0 z
" transform="translate(342.114286 740.4721)" style="fill: #c71585; stroke: #c71585; stroke-width: 4; stroke-linejoin: miter"/>
     <path d="M -0 11.313708 L 6.788225 0 L 0 -11.313708 L -6.788225 -0 z
" transform="translate(392.192857 633.4826)" style="fill: #c71585; stroke: #c71585; stroke-width: 4; stroke-linejoin: miter"/>
     <path d="M -0 11.313708 L 6.788225 0 L 0 -11.313708 L -6.788225 -0 z
" transform="translate(442.271429 487.1823)" style="fill: #c71585; stroke: #c71585; stroke-width: 4; stroke-linejoin: miter"/>
     <path d="M -0 11.313708 L 6.788225 0 L 0 -11.313708 L -6.788225 -0 z
" transform="translate(492.35 284.7038)" style="fill: #c71585; stroke: #c71585; stroke-width: 4; stroke-linejoin: miter"/>
     <path d="M -0 11.313708 L 6.788225 0 L 0 -11.313708 L -6.788225 -0 z
" transform="translate(542.428571 179.3871)" style="fill: #c71585; stroke: #c71585; stroke-width: 4; stroke-linejoin: miter"/>
     <path d="M -0 11.313708 L 6.788225 0 L 0 -11.313708 L -6.788225 -0 z
" transform="translate(592.507143 56.1575)" style="fill: #c71585; stroke: #c71585; stroke-width: 4; stroke-linejoin: miter"/>
     <path d="M -0 11.313708 L 6.788225 0 L 0 -11.313708 L -6.788225 -0 z
" transform="translate(642.585714 56.1575)" style="fill: #c71585; stroke: #c71585; stroke-width: 4; stroke-linejoin: miter"/>
     <path d="M -0 11.313708 L 6.788225 0 L 0 -11.313708 L -6.788225 -0 z
" transform="translate(692.664286 73.234)" style="fill: #c71585; stroke: #c71585; stroke-width: 4; stroke-linejoin: miter"/>
     <path d="M -0 11.313708 L 6.788225 0 L 0 -11.313708 L -6.788225 -0 z
" transform="translate(742.742857 154.2951)" style="fill: #c71585; stroke: #c71585; stroke-width: 4; stroke-linejoin: miter"/>
     <path d="M -0 11.313708 L 6.788225 0 L 0 -11.313708 L -6.788225 -0 z
" transform="translate(792.821429 244.0687)" style="fill: #c71585; stroke: #c71585; stroke-width: 4; stroke-linejoin: miter"/>
     <path d="M -0 11.313708 L 6.788225 0 L 0 -11.313708 L -6.788225 -0 z
" transform="translate(842.9 503.5618)" style="fill: #c71585; stroke: #c71585; stroke-width: 4; stroke-linejoin: miter"/>
    </g>
   </g>
   <g id="line2d_38">
        <g clip-path="url(#pd5bb736782)">
     <path d="M -0 11.313708 L 6.788225 0 L 0 -11.313708 L -6.788225 -0 z
" transform="translate(141.8 576.3983)" style="fill: #4b0082; stroke: #4b0082; stroke-width: 4; stroke-linejoin: miter"/>
     <path d="M -0 11.313708 L 6.788225 0 L 0 -11.313708 L -6.788225 -0 z
" transform="translate(191.878571 560.7855)" style="fill: #4b0082; stroke: #4b0082; stroke-width: 4; stroke-linejoin: miter"/>
     <path d="M -0 11.313708 L 6.788225 0 L 0 -11.313708 L -6.788225 -0 z
" transform="translate(241.957143 466.8996)" style="fill: #4b0082; stroke: #4b0082; stroke-width: 4; stroke-linejoin: miter"/>
     <path d="M -0 11.313708 L 6.788225 0 L 0 -11.313708 L -6.788225 -0 z
" transform="translate(292.035714 256.8238)" style="fill: #4b0082; stroke: #4b0082; stroke-width: 4; stroke-linejoin: miter"/>
     <path d="M -0 11.313708 L 6.788225 0 L 0 -11.313708 L -6.788225 -0 z
" transform="translate(342.114286 186.7753)" style="fill: #4b0082; stroke: #4b0082; stroke-width: 4; stroke-linejoin: miter"/>
     <path d="M -0 11.313708 L 6.788225 0 L 0 -11.313708 L -6.788225 -0 z
" transform="translate(392.192857 69.749)" style="fill: #4b0082; stroke: #4b0082; stroke-width: 4; stroke-linejoin: miter"/>
     <path d="M -0 11.313708 L 6.788225 0 L 0 -11.313708 L -6.788225 -0 z
" transform="translate(442.271429 100.9049)" style="fill: #4b0082; stroke: #4b0082; stroke-width: 4; stroke-linejoin: miter"/>
     <path d="M -0 11.313708 L 6.788225 0 L 0 -11.313708 L -6.788225 -0 z
" transform="translate(492.35 57.9)" style="fill: #4b0082; stroke: #4b0082; stroke-width: 4; stroke-linejoin: miter"/>
     <path d="M -0 11.313708 L 6.788225 0 L 0 -11.313708 L -6.788225 -0 z
" transform="translate(542.428571 194.5817)" style="fill: #4b0082; stroke: #4b0082; stroke-width: 4; stroke-linejoin: miter"/>
     <path d="M -0 11.313708 L 6.788225 0 L 0 -11.313708 L -6.788225 -0 z
" transform="translate(592.507143 342.4154)" style="fill: #4b0082; stroke: #4b0082; stroke-width: 4; stroke-linejoin: miter"/>
     <path d="M -0 11.313708 L 6.788225 0 L 0 -11.313708 L -6.788225 -0 z
" transform="translate(642.585714 451.705)" style="fill: #4b0082; stroke: #4b0082; stroke-width: 4; stroke-linejoin: miter"/>
     <path d="M -0 11.313708 L 6.788225 0 L 0 -11.313708 L -6.788225 -0 z
" transform="translate(692.664286 630.4158)" style="fill: #4b0082; stroke: #4b0082; stroke-width: 4; stroke-linejoin: miter"/>
     <path d="M -0 11.313708 L 6.788225 0 L 0 -11.313708 L -6.788225 -0 z
" transform="translate(742.742857 716.4953)" style="fill: #4b0082; stroke: #4b0082; stroke-width: 4; stroke-linejoin: miter"/>
     <path d="M -0 11.313708 L 6.788225 0 L 0 -11.313708 L -6.788225 -0 z
" transform="translate(792.821429 739.566)" style="fill: #4b0082; stroke: #4b0082; stroke-width: 4; stroke-linejoin: miter"/>
     <path d="M -0 11.313708 L 6.788225 0 L 0 -11.313708 L -6.788225 -0 z
" transform="translate(842.9 653.9744)" style="fill: #4b0082; stroke: #4b0082; stroke-width: 4; stroke-linejoin: miter"/>
    </g>
   </g>
   <g id="patch_3">
    <path d="M 141.8 754.9 L 141.8 57.9 " style="fill: none; stroke: #000000; stroke-width: 3.2; stroke-linejoin: miter; stroke-linecap: square"/>
   </g>
   <g id="patch_4">
    <path d="M 842.9 754.9 L 842.9 57.9 " style="fill: none; stroke: #000000; stroke-width: 3.2; stroke-linejoin: miter; stroke-linecap: square"/>
   </g>
   <g id="patch_5">
    <path d="M 141.8 754.9 L 842.9 754.9 " style="fill: none; stroke: #000000; stroke-width: 3.2; stroke-linejoin: miter; stroke-linecap: square"/>
   </g>
   <g id="patch_6">
    <path d="M 141.8 57.9 L 842.9 57.9 " style="fill: none; stroke: #000000; stroke-width: 3.2; stroke-linejoin: miter; stroke-linecap: square"/>
   </g>
   <g id="legend_1">
    <g id="patch_7">
     <path d="M 161.33 740.95 L 384.399219 740.95 Q 389.979219 740.95 389.979219 735.37 L 389.979219 615.304094 Q 389.979219 609.724094 384.399219 609.724094 L 161.33 609.724094 Q 155.75 609.724094 155.75 615.304094 L 155.75 735.37 Q 155.75 740.95 161.33 740.95 z
" style="fill: #ffffff; fill-opacity: 0.8; stroke-opacity: 0.8; stroke: #cccccc; stroke-width: 4; stroke-linejoin: miter"/>
    </g>
    <g id="LineCollection_4">
     <path d="M 194.81 646.268734 L 194.81 618.368734 " style="fill: none; stroke: #6495ed; stroke-width: 3"/>
    </g>
    <g id="line2d_39">
     <g>
      <path d="M 6 0 L -6 -0 " transform="translate(194.81 646.268734)" style="fill: #6495ed; stroke: #6495ed; stroke-width: 4"/>
     </g>
    </g>
    <g id="line2d_40">
     <g>
      <path d="M 6 0 L -6 -0 " transform="translate(194.81 618.368734)" style="fill: #6495ed; stroke: #6495ed; stroke-width: 4"/>
     </g>
    </g>
    <g id="line2d_41"/>
    <g id="line2d_42">
     <g>
      <path d="M -0 11.313708 L 6.788225 0 L 0 -11.313708 L -6.788225 -0 z
" transform="translate(194.81 632.318734)" style="fill: #6495ed; stroke: #6495ed; stroke-width: 4; stroke-linejoin: miter"/>
     </g>
    </g>
    <g id="text_13">
     <text style="font-size: 27.9px; font-family: 'DejaVu Sans', sans-serif; text-anchor: start" x="245.03" y="642.7837">0 Links</text>
    </g>
    <g id="LineCollection_5">
     <path d="M 194.81 687.220703 L 194.81 659.320703 " style="fill: none; stroke: #c71585; stroke-width: 3"/>
    </g>
    <g id="line2d_43">
     <g>
      <path d="M 6 0 L -6 -0 " transform="translate(194.81 687.220703)" style="fill: #c71585; stroke: #c71585; stroke-width: 4"/>
     </g>
    </g>
    <g id="line2d_44">
     <g>
      <path d="M 6 0 L -6 -0 " transform="translate(194.81 659.320703)" style="fill: #c71585; stroke: #c71585; stroke-width: 4"/>
     </g>
    </g>
    <g id="line2d_45"/>
    <g id="line2d_46">
     <g>
      <path d="M -0 11.313708 L 6.788225 0 L 0 -11.313708 L -6.788225 -0 z
" transform="translate(194.81 673.270703)" style="fill: #c71585; stroke: #c71585; stroke-width: 4; stroke-linejoin: miter"/>
     </g>
    </g>
    <g id="text_14">
     <text style="font-size: 27.9px; font-family: 'DejaVu Sans', sans-serif; text-anchor: start" x="245.03" y="683.7357">2 Links</text>
    </g>
    <g id="LineCollection_6">
     <path d="M 194.81 728.172672 L 194.81 700.272672 " style="fill: none; stroke: #4b0082; stroke-width: 3"/>
    </g>
    <g id="line2d_47">
     <g>
      <path d="M 6 0 L -6 -0 " transform="translate(194.81 728.172672)" style="fill: #4b0082; stroke: #4b0082; stroke-width: 4"/>
     </g>
    </g>
    <g id="line2d_48">
     <g>
      <path d="M 6 0 L -6 -0 " transform="translate(194.81 700.272672)" style="fill: #4b0082; stroke: #4b0082; stroke-width: 4"/>
     </g>
    </g>
    <g id="line2d_49"/>
    <g id="line2d_50">
     <g>
      <path d="M -0 11.313708 L 6.788225 0 L 0 -11.313708 L -6.788225 -0 z
" transform="translate(194.81 714.222672)" style="fill: #4b0082; stroke: #4b0082; stroke-width: 4; stroke-linejoin: miter"/>
     </g>
    </g>
    <g id="text_15">
     <text style="font-size: 27.9px; font-family: 'DejaVu Sans', sans-serif; text-anchor: start" x="245.03" y="724.6877">100 Links</text>
    </g>
   </g>
  </g>
  <g id="axes_2">
   <g id="patch_8">
    <path d="M 1014.3 750.1 L 1714.7 750.1 L 1714.7 53.5 L 1014.3 53.5 z
" style="fill: #ffffff"/>
   </g>
   <g id="FillBetweenPolyCollection_1">
        <g clip-path="url(#p5ecd4a34b8)">
     <path d="M 1024.70198 -769.770036 L 1024.70198 -769.754442 L 1025.853897 -769.706157 L 1027.005813 -769.644121 L 1028.15773 -769.568338 L 1029.309646 -769.478813 L 1030.461563 -769.37555 L 1031.61348 -769.258555 L 1032.765396 -769.127837 L 1033.917313 -768.983403 L 1035.069229 -768.825261 L 1036.221146 -768.653422 L 1037.373062 -768.467895 L 1038.524979 -768.268692 L 1039.676895 -768.055825 L 1040.828812 -767.829306 L 1041.980729 -767.58915 L 1043.132645 -767.335371 L 1044.284562 -767.067984 L 1045.436478 -766.787006 L 1046.588395 -766.492452 L 1047.740311 -766.184342 L 1048.892228 -765.862694 L 1050.044145 -765.527526 L 1051.196061 -765.17886 L 1052.347978 -764.816716 L 1053.499894 -764.441117 L 1054.651811 -764.052084 L 1055.803727 -763.649641 L 1056.955644 -763.233812 L 1058.10756 -762.804623 L 1059.259477 -762.362099 L 1060.411394 -761.906267 L 1061.56331 -761.437154 L 1062.715227 -760.954788 L 1063.867143 -760.459199 L 1065.01906 -759.950416 L 1066.170976 -759.428469 L 1067.322893 -758.893389 L 1068.47481 -758.34521 L 1069.626726 -757.783963 L 1070.778643 -757.209683 L 1071.930559 -756.622403 L 1073.082476 -756.022158 L 1074.234392 -755.408985 L 1075.386309 -754.782921 L 1076.538225 -754.144001 L 1077.690142 -753.492265 L 1078.842059 -752.827752 L 1079.993975 -752.1505 L 1081.145892 -751.46055 L 1082.297808 -750.757944 L 1083.449725 -750.042722 L 1084.601641 -749.314928 L 1085.753558 -748.574605 L 1086.905474 -747.821796 L 1088.057391 -747.056545 L 1089.209308 -746.278899 L 1090.361224 -745.488904 L 1091.513141 -744.686605 L 1092.665057 -743.872051 L 1093.816974 -743.045289 L 1094.96889 -742.206368 L 1096.120807 -741.355338 L 1097.272724 -740.492248 L 1098.42464 -739.617149 L 1099.576557 -738.730093 L 1100.728473 -737.831132 L 1101.88039 -736.920318 L 1103.032306 -735.997705 L 1104.184223 -735.063347 L 1105.336139 -734.117298 L 1106.488056 -733.159614 L 1107.639973 -732.19035 L 1108.791889 -731.209563 L 1109.943806 -730.217309 L 1111.095722 -729.213648 L 1112.247639 -728.198636 L 1113.399555 -727.172334 L 1114.551472 -726.134799 L 1115.703388 -725.086093 L 1116.855305 -724.026277 L 1118.007222 -722.95541 L 1119.159138 -721.873555 L 1120.311055 -720.780775 L 1121.462971 -719.677132 L 1122.614888 -718.562689 L 1123.766804 -717.437512 L 1124.918721 -716.301663 L 1126.070638 -715.155208 L 1127.222554 -713.998214 L 1128.374471 -712.830745 L 1129.526387 -711.652869 L 1130.678304 -710.464652 L 1131.83022 -709.266162 L 1132.982137 -708.057468 L 1134.134053 -706.838637 L 1135.28597 -705.609739 L 1136.437887 -704.370844 L 1137.589803 -703.122021 L 1138.74172 -701.86334 L 1139.893636 -700.594874 L 1141.045553 -699.316692 L 1142.197469 -698.028868 L 1143.349386 -696.731472 L 1144.501303 -695.424579 L 1145.653219 -694.10826 L 1146.805136 -692.782589 L 1147.957052 -691.44764 L 1149.108969 -690.103488 L 1150.260885 -688.750207 L 1151.412802 -687.387873 L 1152.564718 -686.016559 L 1153.716635 -684.636344 L 1154.868552 -683.247301 L 1156.020468 -681.849509 L 1157.172385 -680.443044 L 1158.324301 -679.027983 L 1159.476218 -677.604404 L 1160.628134 -676.172385 L 1161.780051 -674.732003 L 1162.931967 -673.283338 L 1164.083884 -671.826468 L 1165.235801 -670.361472 L 1166.387717 -668.88843 L 1167.539634 -667.407422 L 1168.69155 -665.918527 L 1169.843467 -664.421826 L 1170.995383 -662.917399 L 1172.1473 -661.405327 L 1173.299217 -659.885691 L 1174.451133 -658.358573 L 1175.60305 -656.824053 L 1176.754966 -655.282214 L 1177.906883 -653.733138 L 1179.058799 -652.176906 L 1180.210716 -650.613602 L 1181.362632 -649.043307 L 1182.514549 -647.466105 L 1183.666466 -645.882078 L 1184.818382 -644.29131 L 1185.970299 -642.693884 L 1187.122215 -641.089883 L 1188.274132 -639.479392 L 1189.426048 -637.862493 L 1190.577965 -636.239271 L 1191.729881 -634.60981 L 1192.881798 -632.974194 L 1194.033715 -631.332507 L 1195.185631 -629.684834 L 1196.337548 -628.031259 L 1197.489464 -626.371867 L 1198.641381 -624.706743 L 1199.793297 -623.035972 L 1200.945214 -621.359637 L 1202.097131 -619.677825 L 1203.249047 -617.990621 L 1204.400964 -616.298108 L 1205.55288 -614.600374 L 1206.704797 -612.897502 L 1207.856713 -611.189578 L 1209.00863 -609.476687 L 1210.160546 -607.758915 L 1211.312463 -606.036346 L 1212.46438 -604.309066 L 1213.616296 -602.577161 L 1214.768213 -600.840715 L 1215.920129 -599.099814 L 1217.072046 -597.354543 L 1218.223962 -595.604987 L 1219.375879 -593.851232 L 1220.527796 -592.093363 L 1221.679712 -590.331464 L 1222.831629 -588.565621 L 1223.983545 -586.795918 L 1225.135462 -585.022442 L 1226.287378 -583.245276 L 1227.439295 -581.464505 L 1228.591211 -579.680214 L 1229.743128 -577.892488 L 1230.895045 -576.101411 L 1232.046961 -574.307067 L 1233.198878 -572.509541 L 1234.350794 -570.708917 L 1235.502711 -568.905279 L 1236.654627 -567.098711 L 1237.806544 -565.289297 L 1238.95846 -563.477119 L 1240.110377 -561.662262 L 1241.262294 -559.84481 L 1242.41421 -558.024844 L 1243.566127 -556.202448 L 1244.718043 -554.377706 L 1245.86996 -552.550699 L 1247.021876 -550.72151 L 1248.173793 -548.890221 L 1249.32571 -547.056915 L 1250.477626 -545.221673 L 1251.629543 -543.384576 L 1252.781459 -541.545707 L 1253.933376 -539.705147 L 1255.085292 -537.862975 L 1256.237209 -536.019274 L 1257.389125 -534.174124 L 1258.541042 -532.327605 L 1259.692959 -530.479796 L 1260.844875 -528.630778 L 1261.996792 -526.780631 L 1263.148708 -524.929433 L 1264.300625 -523.077263 L 1265.452541 -521.224201 L 1266.604458 -519.370324 L 1267.756374 -517.515711 L 1268.908291 -515.660439 L 1270.060208 -513.804587 L 1271.212124 -511.948231 L 1272.364041 -510.091448 L 1273.515957 -508.234314 L 1274.667874 -506.376907 L 1275.81979 -504.519303 L 1276.971707 -502.661576 L 1278.123624 -500.803802 L 1279.27554 -498.946056 L 1280.427457 -497.088414 L 1281.579373 -495.230948 L 1282.73129 -493.373734 L 1283.883206 -491.516844 L 1285.035123 -489.660352 L 1286.187039 -487.804331 L 1287.338956 -485.948854 L 1288.490873 -484.093993 L 1289.642789 -482.239818 L 1290.794706 -480.386403 L 1291.946622 -478.533818 L 1293.098539 -476.682133 L 1294.250455 -474.831419 L 1295.402372 -472.981746 L 1296.554289 -471.133183 L 1297.706205 -469.285799 L 1298.858122 -467.439663 L 1300.010038 -465.594844 L 1301.161955 -463.751408 L 1302.313871 -461.909425 L 1303.465788 -460.068959 L 1304.617704 -458.230079 L 1305.769621 -456.39285 L 1306.921538 -454.557339 L 1308.073454 -452.723609 L 1309.225371 -450.891728 L 1310.377287 -449.061757 L 1311.529204 -447.233763 L 1312.68112 -445.407808 L 1313.833037 -443.583956 L 1314.984953 -441.762269 L 1316.13687 -439.942809 L 1317.288787 -438.125638 L 1318.440703 -436.310818 L 1319.59262 -434.498409 L 1320.744536 -432.688472 L 1321.896453 -430.881067 L 1323.048369 -429.076253 L 1324.200286 -427.274089 L 1325.352203 -425.474633 L 1326.504119 -423.677945 L 1327.656036 -421.88408 L 1328.807952 -420.093098 L 1329.959869 -418.305053 L 1331.111785 -416.520002 L 1332.263702 -414.738001 L 1333.415618 -412.959105 L 1334.567535 -411.183369 L 1335.719452 -409.410847 L 1336.871368 -407.641592 L 1338.023285 -405.875658 L 1339.175201 -404.113098 L 1340.327118 -402.353963 L 1341.479034 -400.598306 L 1342.630951 -398.846178 L 1343.782867 -397.097629 L 1344.934784 -395.352709 L 1346.086701 -393.611469 L 1347.238617 -391.873958 L 1348.390534 -390.140223 L 1349.54245 -388.410315 L 1350.694367 -386.684279 L 1351.846283 -384.962164 L 1352.9982 -383.244017 L 1354.150117 -381.529882 L 1355.302033 -379.819806 L 1356.45395 -378.113835 L 1357.605866 -376.412012 L 1358.757783 -374.714383 L 1359.909699 -373.020989 L 1361.061616 -371.331876 L 1362.213532 -369.647085 L 1363.365449 -367.966658 L 1364.517366 -366.290637 L 1365.669282 -364.619063 L 1366.821199 -362.951976 L 1367.973115 -361.289418 L 1369.125032 -359.631426 L 1370.276948 -357.97804 L 1371.428865 -356.329299 L 1372.580782 -354.68524 L 1373.732698 -353.045902 L 1374.884615 -351.41132 L 1376.036531 -349.781531 L 1377.188448 -348.156572 L 1378.340364 -346.536478 L 1379.492281 -344.921283 L 1380.644197 -343.311022 L 1381.796114 -341.705729 L 1382.948031 -340.105437 L 1384.099947 -338.510178 L 1385.251864 -336.919987 L 1386.40378 -335.334893 L 1387.555697 -333.754929 L 1388.707613 -332.180124 L 1389.85953 -330.610511 L 1391.011446 -329.046117 L 1392.163363 -327.486974 L 1393.31528 -325.933108 L 1394.467196 -324.384549 L 1395.619113 -322.841324 L 1396.771029 -321.303461 L 1397.922946 -319.770987 L 1399.074862 -318.243926 L 1400.226779 -316.722307 L 1401.378696 -315.206152 L 1402.530612 -313.695489 L 1403.682529 -312.190339 L 1404.834445 -310.690728 L 1405.986362 -309.196679 L 1407.138278 -307.708215 L 1408.290195 -306.225357 L 1409.442111 -304.748127 L 1410.594028 -303.276548 L 1411.745945 -301.810639 L 1412.897861 -300.350421 L 1414.049778 -298.895915 L 1415.201694 -297.447138 L 1416.353611 -296.004111 L 1417.505527 -294.566851 L 1418.657444 -293.135378 L 1419.80936 -291.709707 L 1420.961277 -290.289856 L 1422.113194 -288.875842 L 1423.26511 -287.467681 L 1424.417027 -286.065388 L 1425.568943 -284.668979 L 1426.72086 -283.278468 L 1427.872776 -281.893869 L 1429.024693 -280.515197 L 1430.17661 -279.142464 L 1431.328526 -277.775683 L 1432.480443 -276.414868 L 1433.632359 -275.060029 L 1434.784276 -273.711178 L 1435.936192 -272.368326 L 1437.088109 -271.031485 L 1438.240025 -269.700664 L 1439.391942 -268.375873 L 1440.543859 -267.057121 L 1441.695775 -265.744417 L 1442.847692 -264.437769 L 1443.999608 -263.137187 L 1445.151525 -261.842676 L 1446.303441 -260.554245 L 1447.455358 -259.2719 L 1448.607275 -257.995648 L 1449.759191 -256.725494 L 1450.911108 -255.461444 L 1452.063024 -254.203503 L 1453.214941 -252.951676 L 1454.366857 -251.705968 L 1455.518774 -250.466381 L 1456.67069 -249.232919 L 1457.822607 -248.005586 L 1458.974524 -246.784385 L 1460.12644 -245.569317 L 1461.278357 -244.360385 L 1462.430273 -243.15759 L 1463.58219 -241.960933 L 1464.734106 -240.770415 L 1465.886023 -239.586037 L 1467.037939 -238.407798 L 1468.189856 -237.235698 L 1469.341773 -236.069737 L 1470.493689 -234.909913 L 1471.645606 -233.756225 L 1472.797522 -232.608672 L 1473.949439 -231.467251 L 1475.101355 -230.331959 L 1476.253272 -229.202794 L 1477.405189 -228.079752 L 1478.557105 -226.96283 L 1479.709022 -225.852025 L 1480.860938 -224.747332 L 1482.012855 -223.648746 L 1483.164771 -222.556262 L 1484.316688 -221.469876 L 1485.468604 -220.389581 L 1486.620521 -219.315372 L 1487.772438 -218.247244 L 1488.924354 -217.185188 L 1490.076271 -216.129199 L 1491.228187 -215.079269 L 1492.380104 -214.035391 L 1493.53202 -212.997557 L 1494.683937 -211.965759 L 1495.835853 -210.939989 L 1496.98777 -209.920239 L 1498.139687 -208.906498 L 1499.291603 -207.898759 L 1500.44352 -206.897011 L 1501.595436 -205.901245 L 1502.747353 -204.911451 L 1503.899269 -203.927619 L 1505.051186 -202.949737 L 1506.203103 -201.977796 L 1507.355019 -201.011783 L 1508.506936 -200.051688 L 1509.658852 -199.097498 L 1510.810769 -198.149203 L 1511.962685 -197.206789 L 1513.114602 -196.270245 L 1514.266518 -195.339557 L 1515.418435 -194.414713 L 1516.570352 -193.4957 L 1517.722268 -192.582504 L 1518.874185 -191.675112 L 1520.026101 -190.773509 L 1521.178018 -189.877683 L 1522.329934 -188.987617 L 1523.481851 -188.103299 L 1524.633768 -187.224712 L 1525.785684 -186.351843 L 1526.937601 -185.484676 L 1528.089517 -184.623195 L 1529.241434 -183.767386 L 1530.39335 -182.917231 L 1531.545267 -182.072716 L 1532.697183 -181.233824 L 1533.8491 -180.400539 L 1535.001017 -179.572843 L 1536.152933 -178.750721 L 1537.30485 -177.934155 L 1538.456766 -177.123128 L 1539.608683 -176.317623 L 1540.760599 -175.517623 L 1541.912516 -174.723109 L 1543.064432 -173.934064 L 1544.216349 -173.15047 L 1545.368266 -172.372309 L 1546.520182 -171.599561 L 1547.672099 -170.83221 L 1548.824015 -170.070236 L 1549.975932 -169.31362 L 1551.127848 -168.562344 L 1552.279765 -167.816388 L 1553.431682 -167.075733 L 1554.583598 -166.34036 L 1555.735515 -165.610249 L 1556.887431 -164.885381 L 1558.039348 -164.165736 L 1559.191264 -163.451293 L 1560.343181 -162.742033 L 1561.495097 -162.037936 L 1562.647014 -161.338981 L 1563.798931 -160.645147 L 1564.950847 -159.956416 L 1566.102764 -159.272765 L 1567.25468 -158.594174 L 1568.406597 -157.920622 L 1569.558513 -157.252088 L 1570.71043 -156.588552 L 1571.862346 -155.929991 L 1573.014263 -155.276386 L 1574.16618 -154.627713 L 1575.318096 -153.983952 L 1576.470013 -153.345082 L 1577.621929 -152.71108 L 1578.773846 -152.081926 L 1579.925762 -151.457596 L 1581.077679 -150.83807 L 1582.229596 -150.223326 L 1583.381512 -149.613341 L 1584.533429 -149.008093 L 1585.685345 -148.40756 L 1586.837262 -147.81172 L 1587.989178 -147.220551 L 1589.141095 -146.63403 L 1590.293011 -146.052135 L 1591.444928 -145.474843 L 1592.596845 -144.902133 L 1593.748761 -144.33398 L 1594.900678 -143.770363 L 1596.052594 -143.21126 L 1597.204511 -142.656646 L 1598.356427 -142.1065 L 1599.508344 -141.560799 L 1600.660261 -141.01952 L 1601.812177 -140.48264 L 1602.964094 -139.950136 L 1604.11601 -139.421985 L 1605.267927 -138.898164 L 1606.419843 -138.37865 L 1607.57176 -137.863421 L 1608.723676 -137.352453 L 1609.875593 -136.845723 L 1611.02751 -136.343208 L 1612.179426 -135.844885 L 1613.331343 -135.350731 L 1614.483259 -134.860722 L 1615.635176 -134.374836 L 1616.787092 -133.893049 L 1617.939009 -133.415338 L 1619.090925 -132.941681 L 1620.242842 -132.472053 L 1621.394759 -132.006432 L 1622.546675 -131.544795 L 1623.698592 -131.087118 L 1624.850508 -130.633378 L 1626.002425 -130.183552 L 1627.154341 -129.737617 L 1628.306258 -129.29555 L 1629.458175 -128.857328 L 1630.610091 -128.422927 L 1631.762008 -127.992324 L 1632.913924 -127.565497 L 1634.065841 -127.142423 L 1635.217757 -126.723077 L 1636.369674 -126.307438 L 1637.52159 -125.895482 L 1638.673507 -125.487187 L 1639.825424 -125.082528 L 1640.97734 -124.681484 L 1642.129257 -124.284032 L 1643.281173 -123.890148 L 1644.43309 -123.49981 L 1645.585006 -123.112995 L 1646.736923 -122.729681 L 1647.888839 -122.349844 L 1649.040756 -121.973462 L 1650.192673 -121.600512 L 1651.344589 -121.230972 L 1652.496506 -120.864819 L 1653.648422 -120.50203 L 1654.800339 -120.142583 L 1655.952255 -119.786457 L 1657.104172 -119.433627 L 1658.256089 -119.084073 L 1659.408005 -118.737771 L 1660.559922 -118.394699 L 1661.711838 -118.054836 L 1662.863755 -117.718159 L 1664.015671 -117.384647 L 1665.167588 -117.054276 L 1666.319504 -116.727025 L 1667.471421 -116.402873 L 1668.623338 -116.081797 L 1669.775254 -115.763776 L 1670.927171 -115.448788 L 1672.079087 -115.136811 L 1673.231004 -114.827823 L 1674.38292 -114.521804 L 1675.534837 -114.218732 L 1676.686754 -113.918585 L 1677.83867 -113.621342 L 1678.990587 -113.326982 L 1680.142503 -113.035483 L 1681.29442 -112.746825 L 1682.446336 -112.460987 L 1683.598253 -112.177946 L 1684.750169 -111.897684 L 1685.902086 -111.620178 L 1687.054003 -111.345408 L 1688.205919 -111.073354 L 1689.357836 -110.803994 L 1690.509752 -110.537309 L 1691.661669 -110.273277 L 1692.813585 -110.011879 L 1693.965502 -109.753094 L 1695.117418 -109.496901 L 1696.269335 -109.243282 L 1697.421252 -108.992216 L 1698.573168 -108.743682 L 1699.725085 -108.497661 L 1700.877001 -108.254134 L 1702.028918 -108.013079 L 1703.180834 -107.774479 L 1704.332751 -107.538313 L 1705.484668 -107.304562 L 1706.636584 -107.073206 L 1707.788501 -106.844227 L 1708.940417 -106.617604 L 1710.092334 -106.393319 L 1711.24425 -106.171354 L 1712.396167 -105.951688 L 1713.548083 -105.734303 L 1714.7 -105.519181 L 1714.7 -131.882849 L 1714.7 -131.882849 L 1713.548083 -132.284873 L 1712.396167 -132.689894 L 1711.24425 -133.097928 L 1710.092334 -133.508989 L 1708.940417 -133.923092 L 1707.788501 -134.340252 L 1706.636584 -134.760485 L 1705.484668 -135.183805 L 1704.332751 -135.610227 L 1703.180834 -136.039767 L 1702.028918 -136.47244 L 1700.877001 -136.90826 L 1699.725085 -137.347242 L 1698.573168 -137.789402 L 1697.421252 -138.234754 L 1696.269335 -138.683313 L 1695.117418 -139.135095 L 1693.965502 -139.590114 L 1692.813585 -140.048385 L 1691.661669 -140.509923 L 1690.509752 -140.974744 L 1689.357836 -141.442861 L 1688.205919 -141.91429 L 1687.054003 -142.389045 L 1685.902086 -142.867142 L 1684.750169 -143.348594 L 1683.598253 -143.833418 L 1682.446336 -144.321627 L 1681.29442 -144.813237 L 1680.142503 -145.308262 L 1678.990587 -145.806717 L 1677.83867 -146.308615 L 1676.686754 -146.813973 L 1675.534837 -147.322805 L 1674.38292 -147.835124 L 1673.231004 -148.350946 L 1672.079087 -148.870285 L 1670.927171 -149.393155 L 1669.775254 -149.919572 L 1668.623338 -150.449548 L 1667.471421 -150.9831 L 1666.319504 -151.52024 L 1665.167588 -152.060983 L 1664.015671 -152.605343 L 1662.863755 -153.153335 L 1661.711838 -153.704972 L 1660.559922 -154.260269 L 1659.408005 -154.81924 L 1658.256089 -155.381898 L 1657.104172 -155.948257 L 1655.952255 -156.518332 L 1654.800339 -157.092136 L 1653.648422 -157.669683 L 1652.496506 -158.250986 L 1651.344589 -158.83606 L 1650.192673 -159.424918 L 1649.040756 -160.017573 L 1647.888839 -160.614038 L 1646.736923 -161.214328 L 1645.585006 -161.818456 L 1644.43309 -162.426434 L 1643.281173 -163.038276 L 1642.129257 -163.653995 L 1640.97734 -164.273605 L 1639.825424 -164.897117 L 1638.673507 -165.524546 L 1637.52159 -166.155904 L 1636.369674 -166.791203 L 1635.217757 -167.430457 L 1634.065841 -168.073679 L 1632.913924 -168.720879 L 1631.762008 -169.372072 L 1630.610091 -170.027269 L 1629.458175 -170.686483 L 1628.306258 -171.349726 L 1627.154341 -172.017011 L 1626.002425 -172.688348 L 1624.850508 -173.36375 L 1623.698592 -174.04323 L 1622.546675 -174.726798 L 1621.394759 -175.414467 L 1620.242842 -176.106248 L 1619.090925 -176.802152 L 1617.939009 -177.502191 L 1616.787092 -178.206377 L 1615.635176 -178.914719 L 1614.483259 -179.627231 L 1613.331343 -180.343922 L 1612.179426 -181.064803 L 1611.02751 -181.789886 L 1609.875593 -182.51918 L 1608.723676 -183.252697 L 1607.57176 -183.990447 L 1606.419843 -184.73244 L 1605.267927 -185.478686 L 1604.11601 -186.229196 L 1602.964094 -186.98398 L 1601.812177 -187.743047 L 1600.660261 -188.506407 L 1599.508344 -189.27407 L 1598.356427 -190.046046 L 1597.204511 -190.822343 L 1596.052594 -191.602971 L 1594.900678 -192.38794 L 1593.748761 -193.177258 L 1592.596845 -193.970934 L 1591.444928 -194.768976 L 1590.293011 -195.571395 L 1589.141095 -196.378197 L 1587.989178 -197.189391 L 1586.837262 -198.004986 L 1585.685345 -198.82499 L 1584.533429 -199.64941 L 1583.381512 -200.478254 L 1582.229596 -201.31153 L 1581.077679 -202.149246 L 1579.925762 -202.991409 L 1578.773846 -203.838025 L 1577.621929 -204.689103 L 1576.470013 -205.544649 L 1575.318096 -206.404669 L 1574.16618 -207.269171 L 1573.014263 -208.138161 L 1571.862346 -209.011644 L 1570.71043 -209.889628 L 1569.558513 -210.772118 L 1568.406597 -211.65912 L 1567.25468 -212.550639 L 1566.102764 -213.446682 L 1564.950847 -214.347253 L 1563.798931 -215.252357 L 1562.647014 -216.162 L 1561.495097 -217.076187 L 1560.343181 -217.994921 L 1559.191264 -218.918207 L 1558.039348 -219.84605 L 1556.887431 -220.778454 L 1555.735515 -221.715423 L 1554.583598 -222.65696 L 1553.431682 -223.603069 L 1552.279765 -224.553753 L 1551.127848 -225.509016 L 1549.975932 -226.46886 L 1548.824015 -227.433289 L 1547.672099 -228.402304 L 1546.520182 -229.375909 L 1545.368266 -230.354106 L 1544.216349 -231.336896 L 1543.064432 -232.324282 L 1541.912516 -233.316266 L 1540.760599 -234.312847 L 1539.608683 -235.314029 L 1538.456766 -236.319812 L 1537.30485 -237.330197 L 1536.152933 -238.345184 L 1535.001017 -239.364774 L 1533.8491 -240.388968 L 1532.697183 -241.417764 L 1531.545267 -242.451164 L 1530.39335 -243.489167 L 1529.241434 -244.531771 L 1528.089517 -245.578977 L 1526.937601 -246.630783 L 1525.785684 -247.687189 L 1524.633768 -248.748192 L 1523.481851 -249.81379 L 1522.329934 -250.883983 L 1521.178018 -251.958767 L 1520.026101 -253.038142 L 1518.874185 -254.122103 L 1517.722268 -255.210648 L 1516.570352 -256.303774 L 1515.418435 -257.401479 L 1514.266518 -258.503758 L 1513.114602 -259.610607 L 1511.962685 -260.722023 L 1510.810769 -261.838002 L 1509.658852 -262.958539 L 1508.506936 -264.08363 L 1507.355019 -265.213269 L 1506.203103 -266.347452 L 1505.051186 -267.486173 L 1503.899269 -268.629427 L 1502.747353 -269.777208 L 1501.595436 -270.929509 L 1500.44352 -272.086324 L 1499.291603 -273.247647 L 1498.139687 -274.413472 L 1496.98777 -275.58379 L 1495.835853 -276.758594 L 1494.683937 -277.937878 L 1493.53202 -279.121633 L 1492.380104 -280.30985 L 1491.228187 -281.502523 L 1490.076271 -282.699642 L 1488.924354 -283.901198 L 1487.772438 -285.107182 L 1486.620521 -286.317585 L 1485.468604 -287.532398 L 1484.316688 -288.75161 L 1483.164771 -289.975211 L 1482.012855 -291.203191 L 1480.860938 -292.435539 L 1479.709022 -293.672245 L 1478.557105 -294.913297 L 1477.405189 -296.158683 L 1476.253272 -297.408393 L 1475.101355 -298.662414 L 1473.949439 -299.920733 L 1472.797522 -301.183338 L 1471.645606 -302.450217 L 1470.493689 -303.721357 L 1469.341773 -304.996743 L 1468.189856 -306.276363 L 1467.037939 -307.560203 L 1465.886023 -308.848247 L 1464.734106 -310.140483 L 1463.58219 -311.436896 L 1462.430273 -312.737469 L 1461.278357 -314.042189 L 1460.12644 -315.351039 L 1458.974524 -316.664004 L 1457.822607 -317.981068 L 1456.67069 -319.302214 L 1455.518774 -320.627426 L 1454.366857 -321.956687 L 1453.214941 -323.289979 L 1452.063024 -324.627285 L 1450.911108 -325.968587 L 1449.759191 -327.313868 L 1448.607275 -328.663108 L 1447.455358 -330.01629 L 1446.303441 -331.373395 L 1445.151525 -332.734402 L 1443.999608 -334.099293 L 1442.847692 -335.468048 L 1441.695775 -336.840648 L 1440.543859 -338.21707 L 1439.391942 -339.597296 L 1438.240025 -340.981304 L 1437.088109 -342.369073 L 1435.936192 -343.760581 L 1434.784276 -345.155806 L 1433.632359 -346.554728 L 1432.480443 -347.957322 L 1431.328526 -349.363568 L 1430.17661 -350.773441 L 1429.024693 -352.186918 L 1427.872776 -353.603977 L 1426.72086 -355.024592 L 1425.568943 -356.448741 L 1424.417027 -357.876399 L 1423.26511 -359.307541 L 1422.113194 -360.742142 L 1420.961277 -362.180177 L 1419.80936 -363.62162 L 1418.657444 -365.066446 L 1417.505527 -366.514629 L 1416.353611 -367.966141 L 1415.201694 -369.420957 L 1414.049778 -370.87905 L 1412.897861 -372.340392 L 1411.745945 -373.804955 L 1410.594028 -375.272713 L 1409.442111 -376.743636 L 1408.290195 -378.217696 L 1407.138278 -379.694866 L 1405.986362 -381.175114 L 1404.834445 -382.658413 L 1403.682529 -384.144733 L 1402.530612 -385.634044 L 1401.378696 -387.126316 L 1400.226779 -388.621518 L 1399.074862 -390.11962 L 1397.922946 -391.62059 L 1396.771029 -393.124398 L 1395.619113 -394.631012 L 1394.467196 -396.1404 L 1393.31528 -397.65253 L 1392.163363 -399.167369 L 1391.011446 -400.684885 L 1389.85953 -402.205045 L 1388.707613 -403.727815 L 1387.555697 -405.253163 L 1386.40378 -406.781053 L 1385.251864 -408.311453 L 1384.099947 -409.844328 L 1382.948031 -411.379643 L 1381.796114 -412.917363 L 1380.644197 -414.457453 L 1379.492281 -415.999877 L 1378.340364 -417.544601 L 1377.188448 -419.091587 L 1376.036531 -420.6408 L 1374.884615 -422.192202 L 1373.732698 -423.745758 L 1372.580782 -425.301429 L 1371.428865 -426.859179 L 1370.276948 -428.418971 L 1369.125032 -429.980765 L 1367.973115 -431.544524 L 1366.821199 -433.110209 L 1365.669282 -434.677783 L 1364.517366 -436.247205 L 1363.365449 -437.818436 L 1362.213532 -439.391438 L 1361.061616 -440.96617 L 1359.909699 -442.542593 L 1358.757783 -444.120665 L 1357.605866 -445.700347 L 1356.45395 -447.281598 L 1355.302033 -448.864377 L 1354.150117 -450.448643 L 1352.9982 -452.034353 L 1351.846283 -453.621467 L 1350.694367 -455.209942 L 1349.54245 -456.799736 L 1348.390534 -458.390807 L 1347.238617 -459.983111 L 1346.086701 -461.576607 L 1344.934784 -463.17125 L 1343.782867 -464.766997 L 1342.630951 -466.363805 L 1341.479034 -467.961629 L 1340.327118 -469.560426 L 1339.175201 -471.16015 L 1338.023285 -472.760759 L 1336.871368 -474.362205 L 1335.719452 -475.964446 L 1334.567535 -477.567434 L 1333.415618 -479.171126 L 1332.263702 -480.775474 L 1331.111785 -482.380434 L 1329.959869 -483.985958 L 1328.807952 -485.592001 L 1327.656036 -487.198516 L 1326.504119 -488.805457 L 1325.352203 -490.412775 L 1324.200286 -492.020425 L 1323.048369 -493.628357 L 1321.896453 -495.236526 L 1320.744536 -496.844883 L 1319.59262 -498.453381 L 1318.440703 -500.06197 L 1317.288787 -501.670602 L 1316.13687 -503.27923 L 1314.984953 -504.887804 L 1313.833037 -506.496274 L 1312.68112 -508.104593 L 1311.529204 -509.712711 L 1310.377287 -511.320578 L 1309.225371 -512.928144 L 1308.073454 -514.53536 L 1306.921538 -516.142175 L 1305.769621 -517.74854 L 1304.617704 -519.354404 L 1303.465788 -520.959716 L 1302.313871 -522.564426 L 1301.161955 -524.168483 L 1300.010038 -525.771835 L 1298.858122 -527.374432 L 1297.706205 -528.976223 L 1296.554289 -530.577155 L 1295.402372 -532.177178 L 1294.250455 -533.776239 L 1293.098539 -535.374286 L 1291.946622 -536.971268 L 1290.794706 -538.567132 L 1289.642789 -540.161826 L 1288.490873 -541.755298 L 1287.338956 -543.347494 L 1286.187039 -544.938362 L 1285.035123 -546.527849 L 1283.883206 -548.115903 L 1282.73129 -549.70247 L 1281.579373 -551.287497 L 1280.427457 -552.87093 L 1279.27554 -554.452717 L 1278.123624 -556.032803 L 1276.971707 -557.611135 L 1275.81979 -559.18766 L 1274.667874 -560.762323 L 1273.515957 -562.33507 L 1272.364041 -563.905848 L 1271.212124 -565.474602 L 1270.060208 -567.041279 L 1268.908291 -568.605823 L 1267.756374 -570.168181 L 1266.604458 -571.728297 L 1265.452541 -573.286119 L 1264.300625 -574.84159 L 1263.148708 -576.394656 L 1261.996792 -577.945263 L 1260.844875 -579.493355 L 1259.692959 -581.038879 L 1258.541042 -582.581778 L 1257.389125 -584.121998 L 1256.237209 -585.659484 L 1255.085292 -587.194182 L 1253.933376 -588.726035 L 1252.781459 -590.254988 L 1251.629543 -591.780987 L 1250.477626 -593.303977 L 1249.32571 -594.823901 L 1248.173793 -596.340706 L 1247.021876 -597.854334 L 1245.86996 -599.364732 L 1244.718043 -600.871844 L 1243.566127 -602.375614 L 1242.41421 -603.875987 L 1241.262294 -605.372909 L 1240.110377 -606.866322 L 1238.95846 -608.356173 L 1237.806544 -609.842405 L 1236.654627 -611.324963 L 1235.502711 -612.803793 L 1234.350794 -614.278838 L 1233.198878 -615.750043 L 1232.046961 -617.217354 L 1230.895045 -618.680714 L 1229.743128 -620.140068 L 1228.591211 -621.595362 L 1227.439295 -623.046539 L 1226.287378 -624.493546 L 1225.135462 -625.936327 L 1223.983545 -627.374826 L 1222.831629 -628.808988 L 1221.679712 -630.23876 L 1220.527796 -631.664085 L 1219.375879 -633.084909 L 1218.223962 -634.501178 L 1217.072046 -635.912835 L 1215.920129 -637.319828 L 1214.768213 -638.7221 L 1213.616296 -640.119598 L 1212.46438 -641.512267 L 1211.312463 -642.900053 L 1210.160546 -644.282902 L 1209.00863 -645.660758 L 1207.856713 -647.033569 L 1206.704797 -648.40128 L 1205.55288 -649.763838 L 1204.400964 -651.121188 L 1203.249047 -652.473276 L 1202.097131 -653.82005 L 1200.945214 -655.161456 L 1199.793297 -656.49744 L 1198.641381 -657.827949 L 1197.489464 -659.152931 L 1196.337548 -660.472331 L 1195.185631 -661.786098 L 1194.033715 -663.094178 L 1192.881798 -664.396519 L 1191.729881 -665.693068 L 1190.577965 -666.983774 L 1189.426048 -668.268583 L 1188.274132 -669.547445 L 1187.122215 -670.820307 L 1185.970299 -672.087117 L 1184.818382 -673.347825 L 1183.666466 -674.602378 L 1182.514549 -675.850725 L 1181.362632 -677.092816 L 1180.210716 -678.3286 L 1179.058799 -679.558025 L 1177.906883 -680.781042 L 1176.754966 -681.997601 L 1175.60305 -683.20765 L 1174.451133 -684.41114 L 1173.299217 -685.608022 L 1172.1473 -686.798246 L 1170.995383 -687.981763 L 1169.843467 -689.158523 L 1168.69155 -690.328478 L 1167.539634 -691.49158 L 1166.387717 -692.647778 L 1165.235801 -693.797026 L 1164.083884 -694.939276 L 1162.931967 -696.074478 L 1161.780051 -697.202587 L 1160.628134 -698.323555 L 1159.476218 -699.437334 L 1158.324301 -700.543878 L 1157.172385 -701.64314 L 1156.020468 -702.735074 L 1154.868552 -703.819634 L 1153.716635 -704.896773 L 1152.564718 -705.966447 L 1151.412802 -707.028609 L 1150.260885 -708.083216 L 1149.108969 -709.130221 L 1147.957052 -710.169582 L 1146.805136 -711.201252 L 1145.653219 -712.225189 L 1144.501303 -713.241348 L 1143.349386 -714.249686 L 1142.197469 -715.25016 L 1141.045553 -716.242728 L 1139.893636 -717.227346 L 1138.74172 -718.203972 L 1137.589803 -719.172565 L 1136.437887 -720.133082 L 1135.28597 -721.085483 L 1134.134053 -722.029726 L 1132.982137 -722.96577 L 1131.83022 -723.893576 L 1130.678304 -724.813102 L 1129.526387 -725.72431 L 1128.374471 -726.627159 L 1127.222554 -727.521611 L 1126.070638 -728.407626 L 1124.918721 -729.285166 L 1123.766804 -730.154193 L 1122.614888 -731.01467 L 1121.462971 -731.866558 L 1120.311055 -732.70982 L 1119.159138 -733.54442 L 1118.007222 -734.370321 L 1116.855305 -735.187487 L 1115.703388 -735.995882 L 1114.551472 -736.795471 L 1113.399555 -737.586219 L 1112.247639 -738.368091 L 1111.095722 -739.141052 L 1109.943806 -739.905069 L 1108.791889 -740.660108 L 1107.639973 -741.406136 L 1106.488056 -742.14312 L 1105.336139 -742.871027 L 1104.184223 -743.589826 L 1103.032306 -744.299484 L 1101.88039 -744.99997 L 1100.728473 -745.691253 L 1099.576557 -746.373303 L 1098.42464 -747.046089 L 1097.272724 -747.709581 L 1096.120807 -748.363751 L 1094.96889 -749.008569 L 1093.816974 -749.644006 L 1092.665057 -750.270034 L 1091.513141 -750.886625 L 1090.361224 -751.493752 L 1089.209308 -752.091388 L 1088.057391 -752.679506 L 1086.905474 -753.258081 L 1085.753558 -753.827085 L 1084.601641 -754.386493 L 1083.449725 -754.936282 L 1082.297808 -755.476425 L 1081.145892 -756.0069 L 1079.993975 -756.527682 L 1078.842059 -757.038747 L 1077.690142 -757.540074 L 1076.538225 -758.031639 L 1075.386309 -758.513421 L 1074.234392 -758.985398 L 1073.082476 -759.447548 L 1071.930559 -759.899851 L 1070.778643 -760.342287 L 1069.626726 -760.774836 L 1068.47481 -761.197478 L 1067.322893 -761.610194 L 1066.170976 -762.012966 L 1065.01906 -762.405775 L 1063.867143 -762.788604 L 1062.715227 -763.161436 L 1061.56331 -763.524254 L 1060.411394 -763.877041 L 1059.259477 -764.219782 L 1058.10756 -764.552461 L 1056.955644 -764.875063 L 1055.803727 -765.187573 L 1054.651811 -765.489978 L 1053.499894 -765.782263 L 1052.347978 -766.064416 L 1051.196061 -766.336424 L 1050.044145 -766.598274 L 1048.892228 -766.849955 L 1047.740311 -767.091455 L 1046.588395 -767.322763 L 1045.436478 -767.54387 L 1044.284562 -767.754763 L 1043.132645 -767.955436 L 1041.980729 -768.145877 L 1040.828812 -768.326079 L 1039.676895 -768.496033 L 1038.524979 -768.655732 L 1037.373062 -768.805169 L 1036.221146 -768.944336 L 1035.069229 -769.073227 L 1033.917313 -769.191837 L 1032.765396 -769.30016 L 1031.61348 -769.398192 L 1030.461563 -769.485927 L 1029.309646 -769.563362 L 1028.15773 -769.630493 L 1027.005813 -769.687317 L 1025.853897 -769.733832 L 1024.70198 -769.770036 z
" transform="translate(0 838)" style="fill: #6495ed; fill-opacity: 0.2"/>
    </g>
   </g>
   <g id="FillBetweenPolyCollection_2">
        <g clip-path="url(#p5ecd4a34b8)">
     <path d="M 1024.70198 -768.744912 L 1024.70198 -768.730479 L 1025.853897 -768.682542 L 1027.005813 -768.620953 L 1028.15773 -768.545716 L 1029.309646 -768.456835 L 1030.461563 -768.354316 L 1031.61348 -768.238164 L 1032.765396 -768.108387 L 1033.917313 -767.964993 L 1035.069229 -767.807989 L 1036.221146 -767.637387 L 1037.373062 -767.453195 L 1038.524979 -767.255424 L 1039.676895 -767.044088 L 1040.828812 -766.819198 L 1041.980729 -766.580768 L 1043.132645 -766.328813 L 1044.284562 -766.063346 L 1045.436478 -765.784386 L 1046.588395 -765.491947 L 1047.740311 -765.186048 L 1048.892228 -764.866707 L 1050.044145 -764.533943 L 1051.196061 -764.187776 L 1052.347978 -763.828227 L 1053.499894 -763.455317 L 1054.651811 -763.069069 L 1055.803727 -762.669506 L 1056.955644 -762.256651 L 1058.10756 -761.83053 L 1059.259477 -761.391168 L 1060.411394 -760.938591 L 1061.56331 -760.472826 L 1062.715227 -759.993901 L 1063.867143 -759.501845 L 1065.01906 -758.996686 L 1066.170976 -758.478456 L 1067.322893 -757.947184 L 1068.47481 -757.402903 L 1069.626726 -756.845645 L 1070.778643 -756.275443 L 1071.930559 -755.692331 L 1073.082476 -755.096343 L 1074.234392 -754.487516 L 1075.386309 -753.865884 L 1076.538225 -753.231486 L 1077.690142 -752.584358 L 1078.842059 -751.924539 L 1079.993975 -751.252068 L 1081.145892 -750.566985 L 1082.297808 -749.869331 L 1083.449725 -749.159145 L 1084.601641 -748.436471 L 1085.753558 -747.701352 L 1086.905474 -746.953829 L 1088.057391 -746.193948 L 1089.209308 -745.421753 L 1090.361224 -744.637289 L 1091.513141 -743.840603 L 1092.665057 -743.031742 L 1093.816974 -742.210752 L 1094.96889 -741.377682 L 1096.120807 -740.532581 L 1097.272724 -739.675498 L 1098.42464 -738.806483 L 1099.576557 -737.925587 L 1100.728473 -737.032862 L 1101.88039 -736.128359 L 1103.032306 -735.212131 L 1104.184223 -734.284232 L 1105.336139 -733.344715 L 1106.488056 -732.393635 L 1107.639973 -731.431047 L 1108.791889 -730.457006 L 1109.943806 -729.47157 L 1111.095722 -728.474795 L 1112.247639 -727.466739 L 1113.399555 -726.44746 L 1114.551472 -725.417017 L 1115.703388 -724.375468 L 1116.855305 -723.322875 L 1118.007222 -722.259297 L 1119.159138 -721.184795 L 1120.311055 -720.099431 L 1121.462971 -719.003267 L 1122.614888 -717.896367 L 1123.766804 -716.778792 L 1124.918721 -715.650606 L 1126.070638 -714.511875 L 1127.222554 -713.362662 L 1128.374471 -712.203034 L 1129.526387 -711.033055 L 1130.678304 -709.852792 L 1131.83022 -708.662312 L 1132.982137 -707.461683 L 1134.134053 -706.250971 L 1135.28597 -705.030245 L 1136.437887 -703.799574 L 1137.589803 -702.559027 L 1138.74172 -701.308674 L 1139.893636 -700.048585 L 1141.045553 -698.778829 L 1142.197469 -697.499479 L 1143.349386 -696.210605 L 1144.501303 -694.912279 L 1145.653219 -693.604574 L 1146.805136 -692.287562 L 1147.957052 -690.961316 L 1149.108969 -689.625909 L 1150.260885 -688.281416 L 1151.412802 -686.927911 L 1152.564718 -685.565467 L 1153.716635 -684.19416 L 1154.868552 -682.814066 L 1156.020468 -681.425259 L 1157.172385 -680.027817 L 1158.324301 -678.621814 L 1159.476218 -677.207329 L 1160.628134 -675.784437 L 1161.780051 -674.353217 L 1162.931967 -672.913746 L 1164.083884 -671.466101 L 1165.235801 -670.010361 L 1166.387717 -668.546605 L 1167.539634 -667.074911 L 1168.69155 -665.595358 L 1169.843467 -664.108027 L 1170.995383 -662.612995 L 1172.1473 -661.110344 L 1173.299217 -659.600154 L 1174.451133 -658.082504 L 1175.60305 -656.557476 L 1176.754966 -655.025149 L 1177.906883 -653.485607 L 1179.058799 -651.938928 L 1180.210716 -650.385196 L 1181.362632 -648.824491 L 1182.514549 -647.256896 L 1183.666466 -645.682493 L 1184.818382 -644.101364 L 1185.970299 -642.51359 L 1187.122215 -640.919256 L 1188.274132 -639.318444 L 1189.426048 -637.711235 L 1190.577965 -636.097715 L 1191.729881 -634.477965 L 1192.881798 -632.852069 L 1194.033715 -631.22011 L 1195.185631 -629.582173 L 1196.337548 -627.93834 L 1197.489464 -626.288695 L 1198.641381 -624.633323 L 1199.793297 -622.972306 L 1200.945214 -621.30573 L 1202.097131 -619.633677 L 1203.249047 -617.956233 L 1204.400964 -616.273482 L 1205.55288 -614.585507 L 1206.704797 -612.892393 L 1207.856713 -611.194225 L 1209.00863 -609.491086 L 1210.160546 -607.783062 L 1211.312463 -606.070236 L 1212.46438 -604.352693 L 1213.616296 -602.630517 L 1214.768213 -600.903794 L 1215.920129 -599.172606 L 1217.072046 -597.437039 L 1218.223962 -595.697178 L 1219.375879 -593.953105 L 1220.527796 -592.204907 L 1221.679712 -590.452666 L 1222.831629 -588.696467 L 1223.983545 -586.936395 L 1225.135462 -585.172533 L 1226.287378 -583.404966 L 1227.439295 -581.633777 L 1228.591211 -579.859051 L 1229.743128 -578.080871 L 1230.895045 -576.29932 L 1232.046961 -574.514483 L 1233.198878 -572.726443 L 1234.350794 -570.935283 L 1235.502711 -569.141086 L 1236.654627 -567.343936 L 1237.806544 -565.543916 L 1238.95846 -563.741108 L 1240.110377 -561.935596 L 1241.262294 -560.127461 L 1242.41421 -558.316787 L 1243.566127 -556.503655 L 1244.718043 -554.688147 L 1245.86996 -552.870346 L 1247.021876 -551.050333 L 1248.173793 -549.228189 L 1249.32571 -547.403997 L 1250.477626 -545.577837 L 1251.629543 -543.749789 L 1252.781459 -541.919936 L 1253.933376 -540.088357 L 1255.085292 -538.255132 L 1256.237209 -536.420342 L 1257.389125 -534.584067 L 1258.541042 -532.746386 L 1259.692959 -530.907378 L 1260.844875 -529.067123 L 1261.996792 -527.2257 L 1263.148708 -525.383186 L 1264.300625 -523.539661 L 1265.452541 -521.695202 L 1266.604458 -519.849888 L 1267.756374 -518.003795 L 1268.908291 -516.157001 L 1270.060208 -514.309584 L 1271.212124 -512.461618 L 1272.364041 -510.613182 L 1273.515957 -508.764351 L 1274.667874 -506.915201 L 1275.81979 -505.065806 L 1276.971707 -503.216243 L 1278.123624 -501.366586 L 1279.27554 -499.51691 L 1280.427457 -497.667288 L 1281.579373 -495.817795 L 1282.73129 -493.968503 L 1283.883206 -492.119487 L 1285.035123 -490.270818 L 1286.187039 -488.42257 L 1287.338956 -486.574814 L 1288.490873 -484.727621 L 1289.642789 -482.881064 L 1290.794706 -481.035213 L 1291.946622 -479.190139 L 1293.098539 -477.345912 L 1294.250455 -475.502602 L 1295.402372 -473.660278 L 1296.554289 -471.819009 L 1297.706205 -469.978864 L 1298.858122 -468.139912 L 1300.010038 -466.302219 L 1301.161955 -464.465854 L 1302.313871 -462.630884 L 1303.465788 -460.797375 L 1304.617704 -458.965393 L 1305.769621 -457.135004 L 1306.921538 -455.306275 L 1308.073454 -453.479269 L 1309.225371 -451.654051 L 1310.377287 -449.830685 L 1311.529204 -448.009235 L 1312.68112 -446.189765 L 1313.833037 -444.372337 L 1314.984953 -442.557013 L 1316.13687 -440.743855 L 1317.288787 -438.932926 L 1318.440703 -437.124285 L 1319.59262 -435.317993 L 1320.744536 -433.514111 L 1321.896453 -431.712699 L 1323.048369 -429.913815 L 1324.200286 -428.117518 L 1325.352203 -426.323866 L 1326.504119 -424.532918 L 1327.656036 -422.744731 L 1328.807952 -420.959361 L 1329.959869 -419.176865 L 1331.111785 -417.397299 L 1332.263702 -415.620719 L 1333.415618 -413.847179 L 1334.567535 -412.076733 L 1335.719452 -410.309437 L 1336.871368 -408.545343 L 1338.023285 -406.784505 L 1339.175201 -405.026974 L 1340.327118 -403.272804 L 1341.479034 -401.522046 L 1342.630951 -399.77475 L 1343.782867 -398.030968 L 1344.934784 -396.29075 L 1346.086701 -394.554145 L 1347.238617 -392.821202 L 1348.390534 -391.09197 L 1349.54245 -389.366497 L 1350.694367 -387.644831 L 1351.846283 -385.927019 L 1352.9982 -384.213107 L 1354.150117 -382.503143 L 1355.302033 -380.79717 L 1356.45395 -379.095235 L 1357.605866 -377.397382 L 1358.757783 -375.703655 L 1359.909699 -374.014097 L 1361.061616 -372.328753 L 1362.213532 -370.647664 L 1363.365449 -368.970873 L 1364.517366 -367.29842 L 1365.669282 -365.630349 L 1366.821199 -363.966697 L 1367.973115 -362.307507 L 1369.125032 -360.652817 L 1370.276948 -359.002667 L 1371.428865 -357.357095 L 1372.580782 -355.716138 L 1373.732698 -354.079836 L 1374.884615 -352.448223 L 1376.036531 -350.821338 L 1377.188448 -349.199216 L 1378.340364 -347.581893 L 1379.492281 -345.969403 L 1380.644197 -344.361781 L 1381.796114 -342.759062 L 1382.948031 -341.161277 L 1384.099947 -339.568461 L 1385.251864 -337.980646 L 1386.40378 -336.397864 L 1387.555697 -334.820147 L 1388.707613 -333.247524 L 1389.85953 -331.680027 L 1391.011446 -330.117686 L 1392.163363 -328.56053 L 1393.31528 -327.008587 L 1394.467196 -325.461887 L 1395.619113 -323.920458 L 1396.771029 -322.384326 L 1397.922946 -320.853519 L 1399.074862 -319.328064 L 1400.226779 -317.807985 L 1401.378696 -316.293309 L 1402.530612 -314.784061 L 1403.682529 -313.280265 L 1404.834445 -311.781945 L 1405.986362 -310.289125 L 1407.138278 -308.801827 L 1408.290195 -307.320074 L 1409.442111 -305.843889 L 1410.594028 -304.373292 L 1411.745945 -302.908305 L 1412.897861 -301.448949 L 1414.049778 -299.995243 L 1415.201694 -298.547208 L 1416.353611 -297.104862 L 1417.505527 -295.668224 L 1418.657444 -294.237313 L 1419.80936 -292.812146 L 1420.961277 -291.39274 L 1422.113194 -289.979112 L 1423.26511 -288.57128 L 1424.417027 -287.169258 L 1425.568943 -285.773062 L 1426.72086 -284.382707 L 1427.872776 -282.998208 L 1429.024693 -281.619578 L 1430.17661 -280.246832 L 1431.328526 -278.879982 L 1432.480443 -277.519041 L 1433.632359 -276.164023 L 1434.784276 -274.814937 L 1435.936192 -273.471796 L 1437.088109 -272.134612 L 1438.240025 -270.803393 L 1439.391942 -269.478151 L 1440.543859 -268.158895 L 1441.695775 -266.845634 L 1442.847692 -265.538378 L 1443.999608 -264.237134 L 1445.151525 -262.941911 L 1446.303441 -261.652716 L 1447.455358 -260.369556 L 1448.607275 -259.092438 L 1449.759191 -257.821368 L 1450.911108 -256.556352 L 1452.063024 -255.297396 L 1453.214941 -254.044505 L 1454.366857 -252.797683 L 1455.518774 -251.556935 L 1456.67069 -250.322265 L 1457.822607 -249.093675 L 1458.974524 -247.87117 L 1460.12644 -246.654752 L 1461.278357 -245.444423 L 1462.430273 -244.240185 L 1463.58219 -243.04204 L 1464.734106 -241.849989 L 1465.886023 -240.664033 L 1467.037939 -239.484171 L 1468.189856 -238.310406 L 1469.341773 -237.142735 L 1470.493689 -235.981158 L 1471.645606 -234.825675 L 1472.797522 -233.676284 L 1473.949439 -232.532983 L 1475.101355 -231.39577 L 1476.253272 -230.264644 L 1477.405189 -229.1396 L 1478.557105 -228.020635 L 1479.709022 -226.907748 L 1480.860938 -225.800933 L 1482.012855 -224.700186 L 1483.164771 -223.605504 L 1484.316688 -222.51688 L 1485.468604 -221.434311 L 1486.620521 -220.357791 L 1487.772438 -219.287313 L 1488.924354 -218.222873 L 1490.076271 -217.164463 L 1491.228187 -216.112077 L 1492.380104 -215.065708 L 1493.53202 -214.025348 L 1494.683937 -212.99099 L 1495.835853 -211.962627 L 1496.98777 -210.940249 L 1498.139687 -209.923849 L 1499.291603 -208.913417 L 1500.44352 -207.908945 L 1501.595436 -206.910423 L 1502.747353 -205.917842 L 1503.899269 -204.931191 L 1505.051186 -203.950461 L 1506.203103 -202.975641 L 1507.355019 -202.006721 L 1508.506936 -201.043689 L 1509.658852 -200.086535 L 1510.810769 -199.135246 L 1511.962685 -198.189811 L 1513.114602 -197.250218 L 1514.266518 -196.316455 L 1515.418435 -195.38851 L 1516.570352 -194.466369 L 1517.722268 -193.55002 L 1518.874185 -192.639449 L 1520.026101 -191.734643 L 1521.178018 -190.835589 L 1522.329934 -189.942272 L 1523.481851 -189.054678 L 1524.633768 -188.172794 L 1525.785684 -187.296604 L 1526.937601 -186.426093 L 1528.089517 -185.561248 L 1529.241434 -184.702052 L 1530.39335 -183.84849 L 1531.545267 -183.000547 L 1532.697183 -182.158207 L 1533.8491 -181.321454 L 1535.001017 -180.490271 L 1536.152933 -179.664643 L 1537.30485 -178.844552 L 1538.456766 -178.029983 L 1539.608683 -177.220917 L 1540.760599 -176.417339 L 1541.912516 -175.61923 L 1543.064432 -174.826574 L 1544.216349 -174.039352 L 1545.368266 -173.257548 L 1546.520182 -172.481142 L 1547.672099 -171.710117 L 1548.824015 -170.944455 L 1549.975932 -170.184137 L 1551.127848 -169.429144 L 1552.279765 -168.679459 L 1553.431682 -167.935061 L 1554.583598 -167.195933 L 1555.735515 -166.462055 L 1556.887431 -165.733407 L 1558.039348 -165.00997 L 1559.191264 -164.291725 L 1560.343181 -163.578653 L 1561.495097 -162.870732 L 1562.647014 -162.167943 L 1563.798931 -161.470267 L 1564.950847 -160.777683 L 1566.102764 -160.090171 L 1567.25468 -159.40771 L 1568.406597 -158.73028 L 1569.558513 -158.05786 L 1570.71043 -157.390429 L 1571.862346 -156.727968 L 1573.014263 -156.070454 L 1574.16618 -155.417867 L 1575.318096 -154.770186 L 1576.470013 -154.127389 L 1577.621929 -153.489456 L 1578.773846 -152.856364 L 1579.925762 -152.228093 L 1581.077679 -151.60462 L 1582.229596 -150.985925 L 1583.381512 -150.371985 L 1584.533429 -149.762779 L 1585.685345 -149.158285 L 1586.837262 -148.558481 L 1587.989178 -147.963345 L 1589.141095 -147.372855 L 1590.293011 -146.786989 L 1591.444928 -146.205725 L 1592.596845 -145.62904 L 1593.748761 -145.056912 L 1594.900678 -144.48932 L 1596.052594 -143.92624 L 1597.204511 -143.36765 L 1598.356427 -142.813527 L 1599.508344 -142.26385 L 1600.660261 -141.718595 L 1601.812177 -141.177741 L 1602.964094 -140.641263 L 1604.11601 -140.109141 L 1605.267927 -139.58135 L 1606.419843 -139.057869 L 1607.57176 -138.538674 L 1608.723676 -138.023743 L 1609.875593 -137.513053 L 1611.02751 -137.006581 L 1612.179426 -136.504304 L 1613.331343 -136.0062 L 1614.483259 -135.512245 L 1615.635176 -135.022417 L 1616.787092 -134.536692 L 1617.939009 -134.055049 L 1619.090925 -133.577463 L 1620.242842 -133.103913 L 1621.394759 -132.634374 L 1622.546675 -132.168825 L 1623.698592 -131.707241 L 1624.850508 -131.249601 L 1626.002425 -130.795881 L 1627.154341 -130.346059 L 1628.306258 -129.900111 L 1629.458175 -129.458015 L 1630.610091 -129.019747 L 1631.762008 -128.585285 L 1632.913924 -128.154606 L 1634.065841 -127.727687 L 1635.217757 -127.304506 L 1636.369674 -126.885038 L 1637.52159 -126.469263 L 1638.673507 -126.057156 L 1639.825424 -125.648695 L 1640.97734 -125.243857 L 1642.129257 -124.84262 L 1643.281173 -124.444961 L 1644.43309 -124.050858 L 1645.585006 -123.660287 L 1646.736923 -123.273226 L 1647.888839 -122.889652 L 1649.040756 -122.509544 L 1650.192673 -122.132878 L 1651.344589 -121.759633 L 1652.496506 -121.389785 L 1653.648422 -121.023313 L 1654.800339 -120.660193 L 1655.952255 -120.300404 L 1657.104172 -119.943924 L 1658.256089 -119.590731 L 1659.408005 -119.240801 L 1660.559922 -118.894114 L 1661.711838 -118.550647 L 1662.863755 -118.210378 L 1664.015671 -117.873285 L 1665.167588 -117.539347 L 1666.319504 -117.208541 L 1667.471421 -116.880846 L 1668.623338 -116.55624 L 1669.775254 -116.234702 L 1670.927171 -115.916209 L 1672.079087 -115.600741 L 1673.231004 -115.288275 L 1674.38292 -114.978791 L 1675.534837 -114.672267 L 1676.686754 -114.368681 L 1677.83867 -114.068014 L 1678.990587 -113.770242 L 1680.142503 -113.475346 L 1681.29442 -113.183305 L 1682.446336 -112.894097 L 1683.598253 -112.607701 L 1684.750169 -112.324097 L 1685.902086 -112.043264 L 1687.054003 -111.765181 L 1688.205919 -111.489829 L 1689.357836 -111.217185 L 1690.509752 -110.94723 L 1691.661669 -110.679944 L 1692.813585 -110.415305 L 1693.965502 -110.153295 L 1695.117418 -109.893892 L 1696.269335 -109.637078 L 1697.421252 -109.382831 L 1698.573168 -109.131132 L 1699.725085 -108.881961 L 1700.877001 -108.635298 L 1702.028918 -108.391124 L 1703.180834 -108.149419 L 1704.332751 -107.910164 L 1705.484668 -107.673339 L 1706.636584 -107.438925 L 1707.788501 -107.206902 L 1708.940417 -106.977253 L 1710.092334 -106.749956 L 1711.24425 -106.524994 L 1712.396167 -106.302348 L 1713.548083 -106.081999 L 1714.7 -105.863928 L 1714.7 -129.84436 L 1714.7 -129.84436 L 1713.548083 -130.234209 L 1712.396167 -130.627023 L 1711.24425 -131.02282 L 1710.092334 -131.421613 L 1708.940417 -131.823419 L 1707.788501 -132.228252 L 1706.636584 -132.636129 L 1705.484668 -133.047065 L 1704.332751 -133.461074 L 1703.180834 -133.878173 L 1702.028918 -134.298376 L 1700.877001 -134.7217 L 1699.725085 -135.148159 L 1698.573168 -135.57777 L 1697.421252 -136.010546 L 1696.269335 -136.446505 L 1695.117418 -136.88566 L 1693.965502 -137.328028 L 1692.813585 -137.773623 L 1691.661669 -138.222462 L 1690.509752 -138.674559 L 1689.357836 -139.129929 L 1688.205919 -139.588589 L 1687.054003 -140.050553 L 1685.902086 -140.515836 L 1684.750169 -140.984454 L 1683.598253 -141.456422 L 1682.446336 -141.931756 L 1681.29442 -142.410469 L 1680.142503 -142.892578 L 1678.990587 -143.378098 L 1677.83867 -143.867044 L 1676.686754 -144.35943 L 1675.534837 -144.855273 L 1674.38292 -145.354586 L 1673.231004 -145.857385 L 1672.079087 -146.363685 L 1670.927171 -146.873501 L 1669.775254 -147.386848 L 1668.623338 -147.90374 L 1667.471421 -148.424193 L 1666.319504 -148.948221 L 1665.167588 -149.47584 L 1664.015671 -150.007063 L 1662.863755 -150.541905 L 1661.711838 -151.080382 L 1660.559922 -151.622507 L 1659.408005 -152.168295 L 1658.256089 -152.717762 L 1657.104172 -153.27092 L 1655.952255 -153.827786 L 1654.800339 -154.388372 L 1653.648422 -154.952694 L 1652.496506 -155.520765 L 1651.344589 -156.0926 L 1650.192673 -156.668214 L 1649.040756 -157.247619 L 1647.888839 -157.830831 L 1646.736923 -158.417862 L 1645.585006 -159.008728 L 1644.43309 -159.603442 L 1643.281173 -160.202018 L 1642.129257 -160.804469 L 1640.97734 -161.41081 L 1639.825424 -162.021053 L 1638.673507 -162.635213 L 1637.52159 -163.253303 L 1636.369674 -163.875336 L 1635.217757 -164.501325 L 1634.065841 -165.131285 L 1632.913924 -165.765228 L 1631.762008 -166.403166 L 1630.610091 -167.045115 L 1629.458175 -167.691085 L 1628.306258 -168.34109 L 1627.154341 -168.995144 L 1626.002425 -169.653257 L 1624.850508 -170.315444 L 1623.698592 -170.981717 L 1622.546675 -171.652088 L 1621.394759 -172.32657 L 1620.242842 -173.005174 L 1619.090925 -173.687914 L 1617.939009 -174.3748 L 1616.787092 -175.065846 L 1615.635176 -175.761063 L 1614.483259 -176.460462 L 1613.331343 -177.164056 L 1612.179426 -177.871856 L 1611.02751 -178.583874 L 1609.875593 -179.300121 L 1608.723676 -180.020607 L 1607.57176 -180.745346 L 1606.419843 -181.474346 L 1605.267927 -182.207621 L 1604.11601 -182.945179 L 1602.964094 -183.687033 L 1601.812177 -184.433192 L 1600.660261 -185.183667 L 1599.508344 -185.938469 L 1598.356427 -186.697607 L 1597.204511 -187.461093 L 1596.052594 -188.228935 L 1594.900678 -189.001145 L 1593.748761 -189.77773 L 1592.596845 -190.558702 L 1591.444928 -191.34407 L 1590.293011 -192.133843 L 1589.141095 -192.92803 L 1587.989178 -193.726641 L 1586.837262 -194.529684 L 1585.685345 -195.337169 L 1584.533429 -196.149103 L 1583.381512 -196.965496 L 1582.229596 -197.786356 L 1581.077679 -198.611691 L 1579.925762 -199.441509 L 1578.773846 -200.275819 L 1577.621929 -201.114628 L 1576.470013 -201.957944 L 1575.318096 -202.805774 L 1574.16618 -203.658126 L 1573.014263 -204.515007 L 1571.862346 -205.376424 L 1570.71043 -206.242385 L 1569.558513 -207.112894 L 1568.406597 -207.987961 L 1567.25468 -208.867589 L 1566.102764 -209.751787 L 1564.950847 -210.64056 L 1563.798931 -211.533915 L 1562.647014 -212.431855 L 1561.495097 -213.334389 L 1560.343181 -214.24152 L 1559.191264 -215.153254 L 1558.039348 -216.069596 L 1556.887431 -216.990552 L 1555.735515 -217.916125 L 1554.583598 -218.84632 L 1553.431682 -219.781142 L 1552.279765 -220.720595 L 1551.127848 -221.664683 L 1549.975932 -222.613409 L 1548.824015 -223.566778 L 1547.672099 -224.524792 L 1546.520182 -225.487455 L 1545.368266 -226.45477 L 1544.216349 -227.42674 L 1543.064432 -228.403367 L 1541.912516 -229.384653 L 1540.760599 -230.370602 L 1539.608683 -231.361216 L 1538.456766 -232.356495 L 1537.30485 -233.356442 L 1536.152933 -234.361058 L 1535.001017 -235.370344 L 1533.8491 -236.384302 L 1532.697183 -237.402932 L 1531.545267 -238.426234 L 1530.39335 -239.45421 L 1529.241434 -240.48686 L 1528.089517 -241.524182 L 1526.937601 -242.566178 L 1525.785684 -243.612847 L 1524.633768 -244.664187 L 1523.481851 -245.720199 L 1522.329934 -246.78088 L 1521.178018 -247.84623 L 1520.026101 -248.916247 L 1518.874185 -249.990929 L 1517.722268 -251.070275 L 1516.570352 -252.154281 L 1515.418435 -253.242946 L 1514.266518 -254.336266 L 1513.114602 -255.43424 L 1511.962685 -256.536862 L 1510.810769 -257.644131 L 1509.658852 -258.756043 L 1508.506936 -259.872593 L 1507.355019 -260.993777 L 1506.203103 -262.119591 L 1505.051186 -263.250031 L 1503.899269 -264.385091 L 1502.747353 -265.524767 L 1501.595436 -266.669053 L 1500.44352 -267.817943 L 1499.291603 -268.971432 L 1498.139687 -270.129513 L 1496.98777 -271.29218 L 1495.835853 -272.459427 L 1494.683937 -273.631246 L 1493.53202 -274.807631 L 1492.380104 -275.988574 L 1491.228187 -277.174067 L 1490.076271 -278.364103 L 1488.924354 -279.558673 L 1487.772438 -280.757769 L 1486.620521 -281.961382 L 1485.468604 -283.169504 L 1484.316688 -284.382125 L 1483.164771 -285.599235 L 1482.012855 -286.820826 L 1480.860938 -288.046886 L 1479.709022 -289.277406 L 1478.557105 -290.512375 L 1477.405189 -291.751782 L 1476.253272 -292.995616 L 1475.101355 -294.243866 L 1473.949439 -295.49652 L 1472.797522 -296.753566 L 1471.645606 -298.014993 L 1470.493689 -299.280787 L 1469.341773 -300.550935 L 1468.189856 -301.825426 L 1467.037939 -303.104245 L 1465.886023 -304.387379 L 1464.734106 -305.674814 L 1463.58219 -306.966536 L 1462.430273 -308.262531 L 1461.278357 -309.562783 L 1460.12644 -310.867278 L 1458.974524 -312.176 L 1457.822607 -313.488935 L 1456.67069 -314.806066 L 1455.518774 -316.127376 L 1454.366857 -317.45285 L 1453.214941 -318.782471 L 1452.063024 -320.116222 L 1450.911108 -321.454085 L 1449.759191 -322.796044 L 1448.607275 -324.142079 L 1447.455358 -325.492174 L 1446.303441 -326.846309 L 1445.151525 -328.204465 L 1443.999608 -329.566625 L 1442.847692 -330.932767 L 1441.695775 -332.302874 L 1440.543859 -333.676924 L 1439.391942 -335.054898 L 1438.240025 -336.436775 L 1437.088109 -337.822535 L 1435.936192 -339.212155 L 1434.784276 -340.605616 L 1433.632359 -342.002895 L 1432.480443 -343.403969 L 1431.328526 -344.808818 L 1430.17661 -346.217418 L 1429.024693 -347.629746 L 1427.872776 -349.045779 L 1426.72086 -350.465495 L 1425.568943 -351.888868 L 1424.417027 -353.315875 L 1423.26511 -354.746491 L 1422.113194 -356.180693 L 1420.961277 -357.618454 L 1419.80936 -359.05975 L 1418.657444 -360.504555 L 1417.505527 -361.952843 L 1416.353611 -363.404588 L 1415.201694 -364.859764 L 1414.049778 -366.318344 L 1412.897861 -367.7803 L 1411.745945 -369.245606 L 1410.594028 -370.714233 L 1409.442111 -372.186154 L 1408.290195 -373.661341 L 1407.138278 -375.139765 L 1405.986362 -376.621396 L 1404.834445 -378.106207 L 1403.682529 -379.594167 L 1402.530612 -381.085248 L 1401.378696 -382.579417 L 1400.226779 -384.076647 L 1399.074862 -385.576905 L 1397.922946 -387.080161 L 1396.771029 -388.586383 L 1395.619113 -390.095541 L 1394.467196 -391.607602 L 1393.31528 -393.122534 L 1392.163363 -394.640305 L 1391.011446 -396.160883 L 1389.85953 -397.684233 L 1388.707613 -399.210323 L 1387.555697 -400.73912 L 1386.40378 -402.270589 L 1385.251864 -403.804697 L 1384.099947 -405.341408 L 1382.948031 -406.880689 L 1381.796114 -408.422504 L 1380.644197 -409.966817 L 1379.492281 -411.513594 L 1378.340364 -413.062799 L 1377.188448 -414.614395 L 1376.036531 -416.168345 L 1374.884615 -417.724614 L 1373.732698 -419.283164 L 1372.580782 -420.843958 L 1371.428865 -422.406958 L 1370.276948 -423.972127 L 1369.125032 -425.539426 L 1367.973115 -427.108817 L 1366.821199 -428.680262 L 1365.669282 -430.253721 L 1364.517366 -431.829155 L 1363.365449 -433.406524 L 1362.213532 -434.98579 L 1361.061616 -436.566912 L 1359.909699 -438.149849 L 1358.757783 -439.734561 L 1357.605866 -441.321008 L 1356.45395 -442.909148 L 1355.302033 -444.498939 L 1354.150117 -446.090341 L 1352.9982 -447.683311 L 1351.846283 -449.277807 L 1350.694367 -450.873787 L 1349.54245 -452.471209 L 1348.390534 -454.070028 L 1347.238617 -455.670202 L 1346.086701 -457.271689 L 1344.934784 -458.874443 L 1343.782867 -460.478421 L 1342.630951 -462.083579 L 1341.479034 -463.689873 L 1340.327118 -465.297258 L 1339.175201 -466.905688 L 1338.023285 -468.51512 L 1336.871368 -470.125507 L 1335.719452 -471.736804 L 1334.567535 -473.348965 L 1333.415618 -474.961944 L 1332.263702 -476.575695 L 1331.111785 -478.190172 L 1329.959869 -479.805326 L 1328.807952 -481.421112 L 1327.656036 -483.037483 L 1326.504119 -484.65439 L 1325.352203 -486.271787 L 1324.200286 -487.889624 L 1323.048369 -489.507856 L 1321.896453 -491.126432 L 1320.744536 -492.745304 L 1319.59262 -494.364425 L 1318.440703 -495.983744 L 1317.288787 -497.603213 L 1316.13687 -499.222783 L 1314.984953 -500.842403 L 1313.833037 -502.462025 L 1312.68112 -504.081598 L 1311.529204 -505.701072 L 1310.377287 -507.320397 L 1309.225371 -508.939523 L 1308.073454 -510.558398 L 1306.921538 -512.176972 L 1305.769621 -513.795194 L 1304.617704 -515.413012 L 1303.465788 -517.030376 L 1302.313871 -518.647233 L 1301.161955 -520.263533 L 1300.010038 -521.879222 L 1298.858122 -523.494249 L 1297.706205 -525.108562 L 1296.554289 -526.722109 L 1295.402372 -528.334836 L 1294.250455 -529.946691 L 1293.098539 -531.557621 L 1291.946622 -533.167574 L 1290.794706 -534.776495 L 1289.642789 -536.384332 L 1288.490873 -537.991032 L 1287.338956 -539.59654 L 1286.187039 -541.200803 L 1285.035123 -542.803767 L 1283.883206 -544.405378 L 1282.73129 -546.005583 L 1281.579373 -547.604326 L 1280.427457 -549.201553 L 1279.27554 -550.79721 L 1278.123624 -552.391243 L 1276.971707 -553.983596 L 1275.81979 -555.574215 L 1274.667874 -557.163044 L 1273.515957 -558.75003 L 1272.364041 -560.335116 L 1271.212124 -561.918248 L 1270.060208 -563.499369 L 1268.908291 -565.078426 L 1267.756374 -566.655361 L 1266.604458 -568.23012 L 1265.452541 -569.802647 L 1264.300625 -571.372886 L 1263.148708 -572.940782 L 1261.996792 -574.506278 L 1260.844875 -576.069318 L 1259.692959 -577.629846 L 1258.541042 -579.187807 L 1257.389125 -580.743144 L 1256.237209 -582.295801 L 1255.085292 -583.845721 L 1253.933376 -585.392848 L 1252.781459 -586.937127 L 1251.629543 -588.4785 L 1250.477626 -590.016911 L 1249.32571 -591.552303 L 1248.173793 -593.08462 L 1247.021876 -594.613806 L 1245.86996 -596.139803 L 1244.718043 -597.662556 L 1243.566127 -599.182007 L 1242.41421 -600.698101 L 1241.262294 -602.210779 L 1240.110377 -603.719986 L 1238.95846 -605.225665 L 1237.806544 -606.727759 L 1236.654627 -608.226212 L 1235.502711 -609.720966 L 1234.350794 -611.211966 L 1233.198878 -612.699154 L 1232.046961 -614.182474 L 1230.895045 -615.66187 L 1229.743128 -617.137284 L 1228.591211 -618.60866 L 1227.439295 -620.075941 L 1226.287378 -621.539072 L 1225.135462 -622.997995 L 1223.983545 -624.452654 L 1222.831629 -625.902993 L 1221.679712 -627.348956 L 1220.527796 -628.790485 L 1219.375879 -630.227525 L 1218.223962 -631.66002 L 1217.072046 -633.087913 L 1215.920129 -634.511148 L 1214.768213 -635.92967 L 1213.616296 -637.343423 L 1212.46438 -638.75235 L 1211.312463 -640.156396 L 1210.160546 -641.555505 L 1209.00863 -642.949622 L 1207.856713 -644.338691 L 1206.704797 -645.722656 L 1205.55288 -647.101463 L 1204.400964 -648.475056 L 1203.249047 -649.84338 L 1202.097131 -651.20638 L 1200.945214 -652.564001 L 1199.793297 -653.916189 L 1198.641381 -655.262888 L 1197.489464 -656.604044 L 1196.337548 -657.939603 L 1195.185631 -659.269511 L 1194.033715 -660.593713 L 1192.881798 -661.912155 L 1191.729881 -663.224784 L 1190.577965 -664.531545 L 1189.426048 -665.832386 L 1188.274132 -667.127252 L 1187.122215 -668.416091 L 1185.970299 -669.698849 L 1184.818382 -670.975474 L 1183.666466 -672.245913 L 1182.514549 -673.510112 L 1181.362632 -674.76802 L 1180.210716 -676.019585 L 1179.058799 -677.264754 L 1177.906883 -678.503475 L 1176.754966 -679.735698 L 1175.60305 -680.961369 L 1174.451133 -682.180439 L 1173.299217 -683.392855 L 1172.1473 -684.598567 L 1170.995383 -685.797524 L 1169.843467 -686.989677 L 1168.69155 -688.174973 L 1167.539634 -689.353364 L 1166.387717 -690.5248 L 1165.235801 -691.689231 L 1164.083884 -692.846607 L 1162.931967 -693.99688 L 1161.780051 -695.14 L 1160.628134 -696.275919 L 1159.476218 -697.404588 L 1158.324301 -698.525959 L 1157.172385 -699.639985 L 1156.020468 -700.746617 L 1154.868552 -701.845808 L 1153.716635 -702.937511 L 1152.564718 -704.021679 L 1151.412802 -705.098265 L 1150.260885 -706.167224 L 1149.108969 -707.228507 L 1147.957052 -708.282071 L 1146.805136 -709.327869 L 1145.653219 -710.365857 L 1144.501303 -711.395988 L 1143.349386 -712.418219 L 1142.197469 -713.432504 L 1141.045553 -714.438801 L 1139.893636 -715.437064 L 1138.74172 -716.427251 L 1137.589803 -717.409318 L 1136.437887 -718.383222 L 1135.28597 -719.348921 L 1134.134053 -720.306372 L 1132.982137 -721.255534 L 1131.83022 -722.196364 L 1130.678304 -723.128822 L 1129.526387 -724.052866 L 1128.374471 -724.968456 L 1127.222554 -725.875551 L 1126.070638 -726.774112 L 1124.918721 -727.664098 L 1123.766804 -728.54547 L 1122.614888 -729.41819 L 1121.462971 -730.282219 L 1120.311055 -731.137518 L 1119.159138 -731.984049 L 1118.007222 -732.821775 L 1116.855305 -733.650659 L 1115.703388 -734.470663 L 1114.551472 -735.281752 L 1113.399555 -736.083888 L 1112.247639 -736.877037 L 1111.095722 -737.661163 L 1109.943806 -738.43623 L 1108.791889 -739.202205 L 1107.639973 -739.959053 L 1106.488056 -740.706739 L 1105.336139 -741.445231 L 1104.184223 -742.174495 L 1103.032306 -742.894499 L 1101.88039 -743.60521 L 1100.728473 -744.306596 L 1099.576557 -744.998626 L 1098.42464 -745.681269 L 1097.272724 -746.354493 L 1096.120807 -747.018269 L 1094.96889 -747.672566 L 1093.816974 -748.317355 L 1092.665057 -748.952607 L 1091.513141 -749.578293 L 1090.361224 -750.194385 L 1089.209308 -750.800855 L 1088.057391 -751.397674 L 1086.905474 -751.984818 L 1085.753558 -752.562258 L 1084.601641 -753.129968 L 1083.449725 -753.687923 L 1082.297808 -754.236098 L 1081.145892 -754.774467 L 1079.993975 -755.303006 L 1078.842059 -755.821691 L 1077.690142 -756.330498 L 1076.538225 -756.829404 L 1075.386309 -757.318386 L 1074.234392 -757.797423 L 1073.082476 -758.266492 L 1071.930559 -758.725571 L 1070.778643 -759.174641 L 1069.626726 -759.613679 L 1068.47481 -760.042667 L 1067.322893 -760.461584 L 1066.170976 -760.870412 L 1065.01906 -761.269132 L 1063.867143 -761.657725 L 1062.715227 -762.036174 L 1061.56331 -762.404461 L 1060.411394 -762.762569 L 1059.259477 -763.110482 L 1058.10756 -763.448185 L 1056.955644 -763.775661 L 1055.803727 -764.092896 L 1054.651811 -764.399874 L 1053.499894 -764.696582 L 1052.347978 -764.983007 L 1051.196061 -765.259135 L 1050.044145 -765.524953 L 1048.892228 -765.780449 L 1047.740311 -766.025611 L 1046.588395 -766.260429 L 1045.436478 -766.484891 L 1044.284562 -766.698987 L 1043.132645 -766.902707 L 1041.980729 -767.096041 L 1040.828812 -767.278982 L 1039.676895 -767.45152 L 1038.524979 -767.613647 L 1037.373062 -767.765356 L 1036.221146 -767.906641 L 1035.069229 -768.037493 L 1033.917313 -768.157909 L 1032.765396 -768.267881 L 1031.61348 -768.367405 L 1030.461563 -768.456476 L 1029.309646 -768.53509 L 1028.15773 -768.603243 L 1027.005813 -768.660934 L 1025.853897 -768.708157 L 1024.70198 -768.744912 z
" transform="translate(0 838)" style="fill: #c71585; fill-opacity: 0.2"/>
    </g>
   </g>
   <g id="FillBetweenPolyCollection_3">
        <g clip-path="url(#p5ecd4a34b8)">
     <path d="M 1024.70198 -759.179702 L 1024.70198 -759.167654 L 1025.853897 -759.11844 L 1027.005813 -759.05521 L 1028.15773 -758.977968 L 1029.309646 -758.88672 L 1030.461563 -758.781471 L 1031.61348 -758.662227 L 1032.765396 -758.528997 L 1033.917313 -758.381787 L 1035.069229 -758.220608 L 1036.221146 -758.04547 L 1037.373062 -757.856383 L 1038.524979 -757.65336 L 1039.676895 -757.436413 L 1040.828812 -757.205555 L 1041.980729 -756.960802 L 1043.132645 -756.702168 L 1044.284562 -756.42967 L 1045.436478 -756.143324 L 1046.588395 -755.843149 L 1047.740311 -755.529163 L 1048.892228 -755.201386 L 1050.044145 -754.859838 L 1051.196061 -754.504541 L 1052.347978 -754.135517 L 1053.499894 -753.752788 L 1054.651811 -753.35638 L 1055.803727 -752.946315 L 1056.955644 -752.522621 L 1058.10756 -752.085323 L 1059.259477 -751.634448 L 1060.411394 -751.170025 L 1061.56331 -750.692083 L 1062.715227 -750.20065 L 1063.867143 -749.695759 L 1065.01906 -749.177439 L 1066.170976 -748.645723 L 1067.322893 -748.100645 L 1068.47481 -747.542237 L 1069.626726 -746.970535 L 1070.778643 -746.385574 L 1071.930559 -745.78739 L 1073.082476 -745.17602 L 1074.234392 -744.551502 L 1075.386309 -743.913875 L 1076.538225 -743.263177 L 1077.690142 -742.599449 L 1078.842059 -741.922732 L 1079.993975 -741.233068 L 1081.145892 -740.530498 L 1082.297808 -739.815067 L 1083.449725 -739.086818 L 1084.601641 -738.345796 L 1085.753558 -737.592046 L 1086.905474 -736.825614 L 1088.057391 -736.046549 L 1089.209308 -735.254896 L 1090.361224 -734.450705 L 1091.513141 -733.634025 L 1092.665057 -732.804906 L 1093.816974 -731.963398 L 1094.96889 -731.109552 L 1096.120807 -730.243421 L 1097.272724 -729.365058 L 1098.42464 -728.474514 L 1099.576557 -727.571846 L 1100.728473 -726.657107 L 1101.88039 -725.730354 L 1103.032306 -724.791641 L 1104.184223 -723.841026 L 1105.336139 -722.878567 L 1106.488056 -721.90432 L 1107.639973 -720.918346 L 1108.791889 -719.920704 L 1109.943806 -718.911453 L 1111.095722 -717.890655 L 1112.247639 -716.85837 L 1113.399555 -715.814661 L 1114.551472 -714.759589 L 1115.703388 -713.693219 L 1116.855305 -712.615613 L 1118.007222 -711.526837 L 1119.159138 -710.426955 L 1120.311055 -709.316032 L 1121.462971 -708.194135 L 1122.614888 -707.061331 L 1123.766804 -705.917685 L 1124.918721 -704.763268 L 1126.070638 -703.598145 L 1127.222554 -702.422387 L 1128.374471 -701.236063 L 1129.526387 -700.039243 L 1130.678304 -698.831997 L 1131.83022 -697.614395 L 1132.982137 -696.386511 L 1134.134053 -695.148414 L 1135.28597 -693.900179 L 1136.437887 -692.641878 L 1137.589803 -691.373583 L 1138.74172 -690.09537 L 1139.893636 -688.807313 L 1141.045553 -687.509486 L 1142.197469 -686.201964 L 1143.349386 -684.884824 L 1144.501303 -683.558141 L 1145.653219 -682.221992 L 1146.805136 -680.876454 L 1147.957052 -679.521604 L 1149.108969 -678.157521 L 1150.260885 -676.784282 L 1151.412802 -675.401966 L 1152.564718 -674.010652 L 1153.716635 -672.610419 L 1154.868552 -671.201348 L 1156.020468 -669.783517 L 1157.172385 -668.357008 L 1158.324301 -666.921902 L 1159.476218 -665.478279 L 1160.628134 -664.026221 L 1161.780051 -662.56581 L 1162.931967 -661.097128 L 1164.083884 -659.620258 L 1165.235801 -658.135281 L 1166.387717 -656.642281 L 1167.539634 -655.141342 L 1168.69155 -653.632547 L 1169.843467 -652.115979 L 1170.995383 -650.591723 L 1172.1473 -649.059864 L 1173.299217 -647.520485 L 1174.451133 -645.973672 L 1175.60305 -644.41951 L 1176.754966 -642.858084 L 1177.906883 -641.289479 L 1179.058799 -639.713782 L 1180.210716 -638.131078 L 1181.362632 -636.541454 L 1182.514549 -634.944995 L 1183.666466 -633.341788 L 1184.818382 -631.73192 L 1185.970299 -630.115477 L 1187.122215 -628.492548 L 1188.274132 -626.863218 L 1189.426048 -625.227574 L 1190.577965 -623.585706 L 1191.729881 -621.937699 L 1192.881798 -620.283641 L 1194.033715 -618.623621 L 1195.185631 -616.957726 L 1196.337548 -615.286043 L 1197.489464 -613.608662 L 1198.641381 -611.92567 L 1199.793297 -610.237155 L 1200.945214 -608.543205 L 1202.097131 -606.843909 L 1203.249047 -605.139355 L 1204.400964 -603.429632 L 1205.55288 -601.714827 L 1206.704797 -599.99503 L 1207.856713 -598.270328 L 1209.00863 -596.54081 L 1210.160546 -594.806565 L 1211.312463 -593.067681 L 1212.46438 -591.324246 L 1213.616296 -589.576349 L 1214.768213 -587.824078 L 1215.920129 -586.067522 L 1217.072046 -584.306769 L 1218.223962 -582.541907 L 1219.375879 -580.773024 L 1220.527796 -579.000208 L 1221.679712 -577.223549 L 1222.831629 -575.443133 L 1223.983545 -573.659048 L 1225.135462 -571.871382 L 1226.287378 -570.080224 L 1227.439295 -568.28566 L 1228.591211 -566.487778 L 1229.743128 -564.686666 L 1230.895045 -562.882411 L 1232.046961 -561.075099 L 1233.198878 -559.264818 L 1234.350794 -557.451655 L 1235.502711 -555.635697 L 1236.654627 -553.817029 L 1237.806544 -551.995739 L 1238.95846 -550.171912 L 1240.110377 -548.345635 L 1241.262294 -546.516993 L 1242.41421 -544.686071 L 1243.566127 -542.852957 L 1244.718043 -541.017734 L 1245.86996 -539.180487 L 1247.021876 -537.341302 L 1248.173793 -535.500263 L 1249.32571 -533.657454 L 1250.477626 -531.81296 L 1251.629543 -529.966864 L 1252.781459 -528.11925 L 1253.933376 -526.270202 L 1255.085292 -524.419801 L 1256.237209 -522.568132 L 1257.389125 -520.715277 L 1258.541042 -518.861318 L 1259.692959 -517.006338 L 1260.844875 -515.150417 L 1261.996792 -513.293637 L 1263.148708 -511.43608 L 1264.300625 -509.577826 L 1265.452541 -507.718956 L 1266.604458 -505.85955 L 1267.756374 -503.999688 L 1268.908291 -502.139449 L 1270.060208 -500.278913 L 1271.212124 -498.418158 L 1272.364041 -496.557263 L 1273.515957 -494.696307 L 1274.667874 -492.835367 L 1275.81979 -490.97452 L 1276.971707 -489.113844 L 1278.123624 -487.253416 L 1279.27554 -485.393312 L 1280.427457 -483.533607 L 1281.579373 -481.674378 L 1282.73129 -479.8157 L 1283.883206 -477.957647 L 1285.035123 -476.100295 L 1286.187039 -474.243716 L 1287.338956 -472.387986 L 1288.490873 -470.533177 L 1289.642789 -468.679362 L 1290.794706 -466.826613 L 1291.946622 -464.975003 L 1293.098539 -463.124602 L 1294.250455 -461.275483 L 1295.402372 -459.427716 L 1296.554289 -457.581371 L 1297.706205 -455.736519 L 1298.858122 -453.893228 L 1300.010038 -452.051567 L 1301.161955 -450.211606 L 1302.313871 -448.373412 L 1303.465788 -446.537053 L 1304.617704 -444.702595 L 1305.769621 -442.870107 L 1306.921538 -441.039653 L 1308.073454 -439.2113 L 1309.225371 -437.385113 L 1310.377287 -435.561157 L 1311.529204 -433.739497 L 1312.68112 -431.920195 L 1313.833037 -430.103316 L 1314.984953 -428.288922 L 1316.13687 -426.477076 L 1317.288787 -424.66784 L 1318.440703 -422.861275 L 1319.59262 -421.057442 L 1320.744536 -419.256402 L 1321.896453 -417.458214 L 1323.048369 -415.662938 L 1324.200286 -413.870633 L 1325.352203 -412.081358 L 1326.504119 -410.295169 L 1327.656036 -408.512125 L 1328.807952 -406.732283 L 1329.959869 -404.955698 L 1331.111785 -403.182428 L 1332.263702 -401.412526 L 1333.415618 -399.646048 L 1334.567535 -397.883049 L 1335.719452 -396.123581 L 1336.871368 -394.367698 L 1338.023285 -392.615454 L 1339.175201 -390.866899 L 1340.327118 -389.122087 L 1341.479034 -387.381067 L 1342.630951 -385.643891 L 1343.782867 -383.910608 L 1344.934784 -382.181269 L 1346.086701 -380.455921 L 1347.238617 -378.734614 L 1348.390534 -377.017396 L 1349.54245 -375.304314 L 1350.694367 -373.595414 L 1351.846283 -371.890743 L 1352.9982 -370.190347 L 1354.150117 -368.494271 L 1355.302033 -366.80256 L 1356.45395 -365.115258 L 1357.605866 -363.432408 L 1358.757783 -361.754053 L 1359.909699 -360.080237 L 1361.061616 -358.411 L 1362.213532 -356.746386 L 1363.365449 -355.086433 L 1364.517366 -353.431183 L 1365.669282 -351.780676 L 1366.821199 -350.13495 L 1367.973115 -348.494044 L 1369.125032 -346.857998 L 1370.276948 -345.226847 L 1371.428865 -343.60063 L 1372.580782 -341.979383 L 1373.732698 -340.363142 L 1374.884615 -338.751942 L 1376.036531 -337.145818 L 1377.188448 -335.544805 L 1378.340364 -333.948936 L 1379.492281 -332.358245 L 1380.644197 -330.772765 L 1381.796114 -329.192527 L 1382.948031 -327.617564 L 1384.099947 -326.047907 L 1385.251864 -324.483585 L 1386.40378 -322.924631 L 1387.555697 -321.371071 L 1388.707613 -319.822937 L 1389.85953 -318.280256 L 1391.011446 -316.743057 L 1392.163363 -315.211366 L 1393.31528 -313.685211 L 1394.467196 -312.164618 L 1395.619113 -310.649613 L 1396.771029 -309.140221 L 1397.922946 -307.636467 L 1399.074862 -306.138375 L 1400.226779 -304.64597 L 1401.378696 -303.159273 L 1402.530612 -301.678309 L 1403.682529 -300.203099 L 1404.834445 -298.733665 L 1405.986362 -297.270029 L 1407.138278 -295.81221 L 1408.290195 -294.360229 L 1409.442111 -292.914106 L 1410.594028 -291.473859 L 1411.745945 -290.039509 L 1412.897861 -288.611072 L 1414.049778 -287.188566 L 1415.201694 -285.772009 L 1416.353611 -284.361417 L 1417.505527 -282.956807 L 1418.657444 -281.558194 L 1419.80936 -280.165593 L 1420.961277 -278.779019 L 1422.113194 -277.398487 L 1423.26511 -276.02401 L 1424.417027 -274.655601 L 1425.568943 -273.293274 L 1426.72086 -271.93704 L 1427.872776 -270.586911 L 1429.024693 -269.2429 L 1430.17661 -267.905016 L 1431.328526 -266.57327 L 1432.480443 -265.247673 L 1433.632359 -263.928234 L 1434.784276 -262.614961 L 1435.936192 -261.307864 L 1437.088109 -260.006951 L 1438.240025 -258.71223 L 1439.391942 -257.423707 L 1440.543859 -256.14139 L 1441.695775 -254.865285 L 1442.847692 -253.595399 L 1443.999608 -252.331736 L 1445.151525 -251.074302 L 1446.303441 -249.823101 L 1447.455358 -248.578138 L 1448.607275 -247.339417 L 1449.759191 -246.10694 L 1450.911108 -244.880712 L 1452.063024 -243.660735 L 1453.214941 -242.44701 L 1454.366857 -241.23954 L 1455.518774 -240.038326 L 1456.67069 -238.843369 L 1457.822607 -237.65467 L 1458.974524 -236.472228 L 1460.12644 -235.296044 L 1461.278357 -234.126117 L 1462.430273 -232.962446 L 1463.58219 -231.80503 L 1464.734106 -230.653866 L 1465.886023 -229.508953 L 1467.037939 -228.370289 L 1468.189856 -227.237869 L 1469.341773 -226.111692 L 1470.493689 -224.991754 L 1471.645606 -223.87805 L 1472.797522 -222.770576 L 1473.949439 -221.669328 L 1475.101355 -220.5743 L 1476.253272 -219.485488 L 1477.405189 -218.402886 L 1478.557105 -217.326486 L 1479.709022 -216.256284 L 1480.860938 -215.192273 L 1482.012855 -214.134444 L 1483.164771 -213.082792 L 1484.316688 -212.037308 L 1485.468604 -210.997984 L 1486.620521 -209.964812 L 1487.772438 -208.937783 L 1488.924354 -207.916889 L 1490.076271 -206.902119 L 1491.228187 -205.893465 L 1492.380104 -204.890917 L 1493.53202 -203.894464 L 1494.683937 -202.904095 L 1495.835853 -201.919801 L 1496.98777 -200.94157 L 1498.139687 -199.969391 L 1499.291603 -199.003252 L 1500.44352 -198.043142 L 1501.595436 -197.089047 L 1502.747353 -196.140956 L 1503.899269 -195.198857 L 1505.051186 -194.262735 L 1506.203103 -193.332578 L 1507.355019 -192.408372 L 1508.506936 -191.490105 L 1509.658852 -190.57776 L 1510.810769 -189.671325 L 1511.962685 -188.770786 L 1513.114602 -187.876126 L 1514.266518 -186.987332 L 1515.418435 -186.104388 L 1516.570352 -185.227278 L 1517.722268 -184.355988 L 1518.874185 -183.490501 L 1520.026101 -182.630801 L 1521.178018 -181.776871 L 1522.329934 -180.928697 L 1523.481851 -180.086259 L 1524.633768 -179.249543 L 1525.785684 -178.41853 L 1526.937601 -177.593203 L 1528.089517 -176.773546 L 1529.241434 -175.959539 L 1530.39335 -175.151165 L 1531.545267 -174.348406 L 1532.697183 -173.551244 L 1533.8491 -172.75966 L 1535.001017 -171.973636 L 1536.152933 -171.193153 L 1537.30485 -170.418191 L 1538.456766 -169.648732 L 1539.608683 -168.884757 L 1540.760599 -168.126245 L 1541.912516 -167.373178 L 1543.064432 -166.625535 L 1544.216349 -165.883296 L 1545.368266 -165.146442 L 1546.520182 -164.414953 L 1547.672099 -163.688807 L 1548.824015 -162.967984 L 1549.975932 -162.252464 L 1551.127848 -161.542225 L 1552.279765 -160.837248 L 1553.431682 -160.137511 L 1554.583598 -159.442992 L 1555.735515 -158.75367 L 1556.887431 -158.069524 L 1558.039348 -157.390533 L 1559.191264 -156.716675 L 1560.343181 -156.047927 L 1561.495097 -155.384269 L 1562.647014 -154.725678 L 1563.798931 -154.072132 L 1564.950847 -153.423609 L 1566.102764 -152.780086 L 1567.25468 -152.141542 L 1568.406597 -151.507954 L 1569.558513 -150.879299 L 1570.71043 -150.255555 L 1571.862346 -149.636698 L 1573.014263 -149.022707 L 1574.16618 -148.413558 L 1575.318096 -147.809229 L 1576.470013 -147.209696 L 1577.621929 -146.614936 L 1578.773846 -146.024926 L 1579.925762 -145.439643 L 1581.077679 -144.859064 L 1582.229596 -144.283166 L 1583.381512 -143.711924 L 1584.533429 -143.145316 L 1585.685345 -142.583317 L 1586.837262 -142.025906 L 1587.989178 -141.473057 L 1589.141095 -140.924747 L 1590.293011 -140.380953 L 1591.444928 -139.841651 L 1592.596845 -139.306817 L 1593.748761 -138.776428 L 1594.900678 -138.250459 L 1596.052594 -137.728887 L 1597.204511 -137.211687 L 1598.356427 -136.698837 L 1599.508344 -136.190312 L 1600.660261 -135.686087 L 1601.812177 -135.18614 L 1602.964094 -134.690446 L 1604.11601 -134.198981 L 1605.267927 -133.711722 L 1606.419843 -133.228643 L 1607.57176 -132.749722 L 1608.723676 -132.274934 L 1609.875593 -131.804255 L 1611.02751 -131.337661 L 1612.179426 -130.875128 L 1613.331343 -130.416633 L 1614.483259 -129.96215 L 1615.635176 -129.511656 L 1616.787092 -129.065127 L 1617.939009 -128.62254 L 1619.090925 -128.183869 L 1620.242842 -127.749092 L 1621.394759 -127.318183 L 1622.546675 -126.89112 L 1623.698592 -126.467878 L 1624.850508 -126.048433 L 1626.002425 -125.632762 L 1627.154341 -125.22084 L 1628.306258 -124.812645 L 1629.458175 -124.408151 L 1630.610091 -124.007336 L 1631.762008 -123.610175 L 1632.913924 -123.216645 L 1634.065841 -122.826722 L 1635.217757 -122.440383 L 1636.369674 -122.057604 L 1637.52159 -121.678361 L 1638.673507 -121.302631 L 1639.825424 -120.93039 L 1640.97734 -120.561616 L 1642.129257 -120.196284 L 1643.281173 -119.834372 L 1644.43309 -119.475855 L 1645.585006 -119.120711 L 1646.736923 -118.768917 L 1647.888839 -118.42045 L 1649.040756 -118.075286 L 1650.192673 -117.733402 L 1651.344589 -117.394776 L 1652.496506 -117.059384 L 1653.648422 -116.727204 L 1654.800339 -116.398212 L 1655.952255 -116.072387 L 1657.104172 -115.749706 L 1658.256089 -115.430145 L 1659.408005 -115.113682 L 1660.559922 -114.800296 L 1661.711838 -114.489963 L 1662.863755 -114.182661 L 1664.015671 -113.878368 L 1665.167588 -113.577062 L 1666.319504 -113.27872 L 1667.471421 -112.98332 L 1668.623338 -112.690842 L 1669.775254 -112.401261 L 1670.927171 -112.114558 L 1672.079087 -111.830709 L 1673.231004 -111.549694 L 1674.38292 -111.271491 L 1675.534837 -110.996078 L 1676.686754 -110.723433 L 1677.83867 -110.453536 L 1678.990587 -110.186366 L 1680.142503 -109.9219 L 1681.29442 -109.660117 L 1682.446336 -109.400998 L 1683.598253 -109.144521 L 1684.750169 -108.890664 L 1685.902086 -108.639408 L 1687.054003 -108.390731 L 1688.205919 -108.144613 L 1689.357836 -107.901033 L 1690.509752 -107.659972 L 1691.661669 -107.421408 L 1692.813585 -107.185321 L 1693.965502 -106.951692 L 1695.117418 -106.720499 L 1696.269335 -106.491724 L 1697.421252 -106.265347 L 1698.573168 -106.041346 L 1699.725085 -105.819704 L 1700.877001 -105.600399 L 1702.028918 -105.383414 L 1703.180834 -105.168727 L 1704.332751 -104.956321 L 1705.484668 -104.746175 L 1706.636584 -104.538271 L 1707.788501 -104.33259 L 1708.940417 -104.129112 L 1710.092334 -103.927819 L 1711.24425 -103.728692 L 1712.396167 -103.531712 L 1713.548083 -103.336861 L 1714.7 -103.144121 L 1714.7 -119.154509 L 1714.7 -119.154509 L 1713.548083 -119.474338 L 1712.396167 -119.796901 L 1711.24425 -120.122213 L 1710.092334 -120.450292 L 1708.940417 -120.781155 L 1707.788501 -121.11482 L 1706.636584 -121.451302 L 1705.484668 -121.790619 L 1704.332751 -122.132788 L 1703.180834 -122.477827 L 1702.028918 -122.825752 L 1700.877001 -123.176581 L 1699.725085 -123.530331 L 1698.573168 -123.887019 L 1697.421252 -124.246663 L 1696.269335 -124.60928 L 1695.117418 -124.974887 L 1693.965502 -125.343501 L 1692.813585 -125.71514 L 1691.661669 -126.089821 L 1690.509752 -126.467563 L 1689.357836 -126.848381 L 1688.205919 -127.232293 L 1687.054003 -127.619318 L 1685.902086 -128.009472 L 1684.750169 -128.402772 L 1683.598253 -128.799237 L 1682.446336 -129.198884 L 1681.29442 -129.60173 L 1680.142503 -130.007793 L 1678.990587 -130.417091 L 1677.83867 -130.82964 L 1676.686754 -131.245458 L 1675.534837 -131.664564 L 1674.38292 -132.086973 L 1673.231004 -132.512705 L 1672.079087 -132.941776 L 1670.927171 -133.374204 L 1669.775254 -133.810007 L 1668.623338 -134.249202 L 1667.471421 -134.691806 L 1666.319504 -135.137837 L 1665.167588 -135.587313 L 1664.015671 -136.04025 L 1662.863755 -136.496668 L 1661.711838 -136.956582 L 1660.559922 -137.42001 L 1659.408005 -137.886971 L 1658.256089 -138.357481 L 1657.104172 -138.831557 L 1655.952255 -139.309217 L 1654.800339 -139.790479 L 1653.648422 -140.27536 L 1652.496506 -140.763877 L 1651.344589 -141.256047 L 1650.192673 -141.751888 L 1649.040756 -142.251416 L 1647.888839 -142.75465 L 1646.736923 -143.261607 L 1645.585006 -143.772302 L 1644.43309 -144.286755 L 1643.281173 -144.804981 L 1642.129257 -145.326998 L 1640.97734 -145.852822 L 1639.825424 -146.382472 L 1638.673507 -146.915963 L 1637.52159 -147.453313 L 1636.369674 -147.994538 L 1635.217757 -148.539656 L 1634.065841 -149.088683 L 1632.913924 -149.641635 L 1631.762008 -150.19853 L 1630.610091 -150.759384 L 1629.458175 -151.324214 L 1628.306258 -151.893036 L 1627.154341 -152.465867 L 1626.002425 -153.042722 L 1624.850508 -153.623619 L 1623.698592 -154.208574 L 1622.546675 -154.797603 L 1621.394759 -155.390722 L 1620.242842 -155.987947 L 1619.090925 -156.589294 L 1617.939009 -157.194779 L 1616.787092 -157.804419 L 1615.635176 -158.418228 L 1614.483259 -159.036223 L 1613.331343 -159.658419 L 1612.179426 -160.284832 L 1611.02751 -160.915478 L 1609.875593 -161.550371 L 1608.723676 -162.189528 L 1607.57176 -162.832963 L 1606.419843 -163.480691 L 1605.267927 -164.132729 L 1604.11601 -164.78909 L 1602.964094 -165.449789 L 1601.812177 -166.114842 L 1600.660261 -166.784264 L 1599.508344 -167.458068 L 1598.356427 -168.136269 L 1597.204511 -168.818882 L 1596.052594 -169.505922 L 1594.900678 -170.197401 L 1593.748761 -170.893335 L 1592.596845 -171.593738 L 1591.444928 -172.298623 L 1590.293011 -173.008004 L 1589.141095 -173.721895 L 1587.989178 -174.440309 L 1586.837262 -175.16326 L 1585.685345 -175.890761 L 1584.533429 -176.622826 L 1583.381512 -177.359467 L 1582.229596 -178.100697 L 1581.077679 -178.84653 L 1579.925762 -179.596977 L 1578.773846 -180.352052 L 1577.621929 -181.111767 L 1576.470013 -181.876134 L 1575.318096 -182.645166 L 1574.16618 -183.418874 L 1573.014263 -184.19727 L 1571.862346 -184.980367 L 1570.71043 -185.768175 L 1569.558513 -186.560706 L 1568.406597 -187.357972 L 1567.25468 -188.159983 L 1566.102764 -188.966751 L 1564.950847 -189.778286 L 1563.798931 -190.5946 L 1562.647014 -191.415702 L 1561.495097 -192.241604 L 1560.343181 -193.072314 L 1559.191264 -193.907844 L 1558.039348 -194.748204 L 1556.887431 -195.593402 L 1555.735515 -196.443449 L 1554.583598 -197.298354 L 1553.431682 -198.158126 L 1552.279765 -199.022774 L 1551.127848 -199.892307 L 1549.975932 -200.766734 L 1548.824015 -201.646063 L 1547.672099 -202.530302 L 1546.520182 -203.419461 L 1545.368266 -204.313545 L 1544.216349 -205.212564 L 1543.064432 -206.116525 L 1541.912516 -207.025435 L 1540.760599 -207.939302 L 1539.608683 -208.858132 L 1538.456766 -209.781932 L 1537.30485 -210.710708 L 1536.152933 -211.644468 L 1535.001017 -212.583217 L 1533.8491 -213.526961 L 1532.697183 -214.475706 L 1531.545267 -215.429458 L 1530.39335 -216.388221 L 1529.241434 -217.352001 L 1528.089517 -218.320803 L 1526.937601 -219.294631 L 1525.785684 -220.27349 L 1524.633768 -221.257384 L 1523.481851 -222.246317 L 1522.329934 -223.240293 L 1521.178018 -224.239316 L 1520.026101 -225.243388 L 1518.874185 -226.252512 L 1517.722268 -227.266693 L 1516.570352 -228.285931 L 1515.418435 -229.310231 L 1514.266518 -230.339592 L 1513.114602 -231.374019 L 1511.962685 -232.413511 L 1510.810769 -233.458071 L 1509.658852 -234.5077 L 1508.506936 -235.562398 L 1507.355019 -236.622167 L 1506.203103 -237.687006 L 1505.051186 -238.756916 L 1503.899269 -239.831897 L 1502.747353 -240.911948 L 1501.595436 -241.997069 L 1500.44352 -243.087258 L 1499.291603 -244.182515 L 1498.139687 -245.282838 L 1496.98777 -246.388225 L 1495.835853 -247.498674 L 1494.683937 -248.614184 L 1493.53202 -249.734752 L 1492.380104 -250.860374 L 1491.228187 -251.991048 L 1490.076271 -253.12677 L 1488.924354 -254.267537 L 1487.772438 -255.413345 L 1486.620521 -256.564189 L 1485.468604 -257.720065 L 1484.316688 -258.880969 L 1483.164771 -260.046895 L 1482.012855 -261.217838 L 1480.860938 -262.393793 L 1479.709022 -263.574752 L 1478.557105 -264.760711 L 1477.405189 -265.951663 L 1476.253272 -267.1476 L 1475.101355 -268.348515 L 1473.949439 -269.554402 L 1472.797522 -270.765252 L 1471.645606 -271.981058 L 1470.493689 -273.201811 L 1469.341773 -274.427502 L 1468.189856 -275.658122 L 1467.037939 -276.893663 L 1465.886023 -278.134114 L 1464.734106 -279.379466 L 1463.58219 -280.629708 L 1462.430273 -281.88483 L 1461.278357 -283.144822 L 1460.12644 -284.409671 L 1458.974524 -285.679367 L 1457.822607 -286.953897 L 1456.67069 -288.23325 L 1455.518774 -289.517412 L 1454.366857 -290.806373 L 1453.214941 -292.100117 L 1452.063024 -293.398632 L 1450.911108 -294.701904 L 1449.759191 -296.009919 L 1448.607275 -297.322662 L 1447.455358 -298.640119 L 1446.303441 -299.962274 L 1445.151525 -301.289113 L 1443.999608 -302.62062 L 1442.847692 -303.956777 L 1441.695775 -305.29757 L 1440.543859 -306.642981 L 1439.391942 -307.992992 L 1438.240025 -309.347588 L 1437.088109 -310.706749 L 1435.936192 -312.070458 L 1434.784276 -313.438696 L 1433.632359 -314.811445 L 1432.480443 -316.188685 L 1431.328526 -317.570397 L 1430.17661 -318.95656 L 1429.024693 -320.347156 L 1427.872776 -321.742162 L 1426.72086 -323.141559 L 1425.568943 -324.545325 L 1424.417027 -325.953438 L 1423.26511 -327.365877 L 1422.113194 -328.782619 L 1420.961277 -330.203642 L 1419.80936 -331.628922 L 1418.657444 -333.058436 L 1417.505527 -334.492161 L 1416.353611 -335.930073 L 1415.201694 -337.372146 L 1414.049778 -338.818357 L 1412.897861 -340.26868 L 1411.745945 -341.72309 L 1410.594028 -343.181561 L 1409.442111 -344.644067 L 1408.290195 -346.110581 L 1407.138278 -347.581076 L 1405.986362 -349.055525 L 1404.834445 -350.5339 L 1403.682529 -352.016175 L 1402.530612 -353.502319 L 1401.378696 -354.992305 L 1400.226779 -356.486103 L 1399.074862 -357.983685 L 1397.922946 -359.48502 L 1396.771029 -360.990078 L 1395.619113 -362.498829 L 1394.467196 -364.011241 L 1393.31528 -365.527285 L 1392.163363 -367.046928 L 1391.011446 -368.570139 L 1389.85953 -370.096884 L 1388.707613 -371.627133 L 1387.555697 -373.160851 L 1386.40378 -374.698005 L 1385.251864 -376.238562 L 1384.099947 -377.782487 L 1382.948031 -379.329747 L 1381.796114 -380.880307 L 1380.644197 -382.434131 L 1379.492281 -383.991184 L 1378.340364 -385.55143 L 1377.188448 -387.114834 L 1376.036531 -388.681358 L 1374.884615 -390.250966 L 1373.732698 -391.823621 L 1372.580782 -393.399285 L 1371.428865 -394.97792 L 1370.276948 -396.559488 L 1369.125032 -398.143951 L 1367.973115 -399.73127 L 1366.821199 -401.321404 L 1365.669282 -402.914316 L 1364.517366 -404.509964 L 1363.365449 -406.108309 L 1362.213532 -407.709309 L 1361.061616 -409.312925 L 1359.909699 -410.919114 L 1358.757783 -412.527835 L 1357.605866 -414.139045 L 1356.45395 -415.752704 L 1355.302033 -417.368767 L 1354.150117 -418.987193 L 1352.9982 -420.607937 L 1351.846283 -422.230956 L 1350.694367 -423.856206 L 1349.54245 -425.483643 L 1348.390534 -427.113222 L 1347.238617 -428.744898 L 1346.086701 -430.378626 L 1344.934784 -432.01436 L 1343.782867 -433.652055 L 1342.630951 -435.291663 L 1341.479034 -436.93314 L 1340.327118 -438.576437 L 1339.175201 -440.221507 L 1338.023285 -441.868303 L 1336.871368 -443.516778 L 1335.719452 -445.166883 L 1334.567535 -446.818569 L 1333.415618 -448.471788 L 1332.263702 -450.126491 L 1331.111785 -451.782628 L 1329.959869 -453.440151 L 1328.807952 -455.099008 L 1327.656036 -456.759151 L 1326.504119 -458.420527 L 1325.352203 -460.083087 L 1324.200286 -461.746779 L 1323.048369 -463.411552 L 1321.896453 -465.077355 L 1320.744536 -466.744134 L 1319.59262 -468.411839 L 1318.440703 -470.080417 L 1317.288787 -471.749814 L 1316.13687 -473.419978 L 1314.984953 -475.090856 L 1313.833037 -476.762393 L 1312.68112 -478.434536 L 1311.529204 -480.107231 L 1310.377287 -481.780424 L 1309.225371 -483.45406 L 1308.073454 -485.128083 L 1306.921538 -486.80244 L 1305.769621 -488.477073 L 1304.617704 -490.151929 L 1303.465788 -491.82695 L 1302.313871 -493.502081 L 1301.161955 -495.177266 L 1300.010038 -496.852447 L 1298.858122 -498.527569 L 1297.706205 -500.202573 L 1296.554289 -501.877403 L 1295.402372 -503.552001 L 1294.250455 -505.226309 L 1293.098539 -506.900269 L 1291.946622 -508.573824 L 1290.794706 -510.246915 L 1289.642789 -511.919482 L 1288.490873 -513.591469 L 1287.338956 -515.262814 L 1286.187039 -516.93346 L 1285.035123 -518.603347 L 1283.883206 -520.272414 L 1282.73129 -521.940604 L 1281.579373 -523.607854 L 1280.427457 -525.274106 L 1279.27554 -526.939299 L 1278.123624 -528.603373 L 1276.971707 -530.266266 L 1275.81979 -531.927918 L 1274.667874 -533.588268 L 1273.515957 -535.247255 L 1272.364041 -536.904818 L 1271.212124 -538.560894 L 1270.060208 -540.215422 L 1268.908291 -541.868341 L 1267.756374 -543.519588 L 1266.604458 -545.169102 L 1265.452541 -546.816821 L 1264.300625 -548.462681 L 1263.148708 -550.10662 L 1261.996792 -551.748576 L 1260.844875 -553.388487 L 1259.692959 -555.026288 L 1258.541042 -556.661918 L 1257.389125 -558.295313 L 1256.237209 -559.92641 L 1255.085292 -561.555146 L 1253.933376 -563.181457 L 1252.781459 -564.80528 L 1251.629543 -566.426552 L 1250.477626 -568.045208 L 1249.32571 -569.661185 L 1248.173793 -571.274419 L 1247.021876 -572.884847 L 1245.86996 -574.492403 L 1244.718043 -576.097026 L 1243.566127 -577.698649 L 1242.41421 -579.297209 L 1241.262294 -580.892642 L 1240.110377 -582.484884 L 1238.95846 -584.07387 L 1237.806544 -585.659536 L 1236.654627 -587.241818 L 1235.502711 -588.820651 L 1234.350794 -590.39597 L 1233.198878 -591.967712 L 1232.046961 -593.535812 L 1230.895045 -595.100205 L 1229.743128 -596.660827 L 1228.591211 -598.217613 L 1227.439295 -599.770499 L 1226.287378 -601.31942 L 1225.135462 -602.864312 L 1223.983545 -604.40511 L 1222.831629 -605.94175 L 1221.679712 -607.474168 L 1220.527796 -609.002298 L 1219.375879 -610.526077 L 1218.223962 -612.045439 L 1217.072046 -613.560322 L 1215.920129 -615.07066 L 1214.768213 -616.576389 L 1213.616296 -618.077445 L 1212.46438 -619.573763 L 1211.312463 -621.065281 L 1210.160546 -622.551933 L 1209.00863 -624.033656 L 1207.856713 -625.510386 L 1206.704797 -626.982058 L 1205.55288 -628.448611 L 1204.400964 -629.909978 L 1203.249047 -631.366098 L 1202.097131 -632.816906 L 1200.945214 -634.26234 L 1199.793297 -635.702336 L 1198.641381 -637.13683 L 1197.489464 -638.565761 L 1196.337548 -639.989064 L 1195.185631 -641.406678 L 1194.033715 -642.818539 L 1192.881798 -644.224585 L 1191.729881 -645.624754 L 1190.577965 -647.018983 L 1189.426048 -648.40721 L 1188.274132 -649.789373 L 1187.122215 -651.165411 L 1185.970299 -652.535262 L 1184.818382 -653.898864 L 1183.666466 -655.256156 L 1182.514549 -656.607077 L 1181.362632 -657.951566 L 1180.210716 -659.289563 L 1179.058799 -660.621006 L 1177.906883 -661.945835 L 1176.754966 -663.26399 L 1175.60305 -664.575411 L 1174.451133 -665.880038 L 1173.299217 -667.177812 L 1172.1473 -668.468674 L 1170.995383 -669.752563 L 1169.843467 -671.029422 L 1168.69155 -672.299191 L 1167.539634 -673.561812 L 1166.387717 -674.817227 L 1165.235801 -676.065378 L 1164.083884 -677.306206 L 1162.931967 -678.539656 L 1161.780051 -679.765668 L 1160.628134 -680.984187 L 1159.476218 -682.195156 L 1158.324301 -683.398518 L 1157.172385 -684.594217 L 1156.020468 -685.782197 L 1154.868552 -686.962402 L 1153.716635 -688.134778 L 1152.564718 -689.299268 L 1151.412802 -690.455819 L 1150.260885 -691.604376 L 1149.108969 -692.744885 L 1147.957052 -693.877291 L 1146.805136 -695.001542 L 1145.653219 -696.117584 L 1144.501303 -697.225364 L 1143.349386 -698.324829 L 1142.197469 -699.415928 L 1141.045553 -700.498609 L 1139.893636 -701.572819 L 1138.74172 -702.638508 L 1137.589803 -703.695625 L 1136.437887 -704.744118 L 1135.28597 -705.783939 L 1134.134053 -706.815037 L 1132.982137 -707.837362 L 1131.83022 -708.850866 L 1130.678304 -709.8555 L 1129.526387 -710.851215 L 1128.374471 -711.837963 L 1127.222554 -712.815697 L 1126.070638 -713.784369 L 1124.918721 -714.743933 L 1123.766804 -715.694342 L 1122.614888 -716.63555 L 1121.462971 -717.567511 L 1120.311055 -718.490181 L 1119.159138 -719.403514 L 1118.007222 -720.307465 L 1116.855305 -721.201991 L 1115.703388 -722.087048 L 1114.551472 -722.962593 L 1113.399555 -723.828583 L 1112.247639 -724.684976 L 1111.095722 -725.531729 L 1109.943806 -726.368802 L 1108.791889 -727.196153 L 1107.639973 -728.013741 L 1106.488056 -728.821527 L 1105.336139 -729.61947 L 1104.184223 -730.407532 L 1103.032306 -731.185673 L 1101.88039 -731.953855 L 1100.728473 -732.712041 L 1099.576557 -733.460193 L 1098.42464 -734.198273 L 1097.272724 -734.926246 L 1096.120807 -735.644074 L 1094.96889 -736.351724 L 1093.816974 -737.049159 L 1092.665057 -737.736345 L 1091.513141 -738.413248 L 1090.361224 -739.079835 L 1089.209308 -739.736071 L 1088.057391 -740.381925 L 1086.905474 -741.017364 L 1085.753558 -741.642357 L 1084.601641 -742.256872 L 1083.449725 -742.860879 L 1082.297808 -743.454347 L 1081.145892 -744.037248 L 1079.993975 -744.609551 L 1078.842059 -745.171229 L 1077.690142 -745.722252 L 1076.538225 -746.262595 L 1075.386309 -746.792228 L 1074.234392 -747.311127 L 1073.082476 -747.819264 L 1071.930559 -748.316615 L 1070.778643 -748.803154 L 1069.626726 -749.278857 L 1068.47481 -749.7437 L 1067.322893 -750.19766 L 1066.170976 -750.640714 L 1065.01906 -751.072839 L 1063.867143 -751.494014 L 1062.715227 -751.904217 L 1061.56331 -752.303429 L 1060.411394 -752.691628 L 1059.259477 -753.068795 L 1058.10756 -753.434912 L 1056.955644 -753.789959 L 1055.803727 -754.133919 L 1054.651811 -754.466774 L 1053.499894 -754.788508 L 1052.347978 -755.099104 L 1051.196061 -755.398547 L 1050.044145 -755.686821 L 1048.892228 -755.963912 L 1047.740311 -756.229806 L 1046.588395 -756.484489 L 1045.436478 -756.727949 L 1044.284562 -756.960173 L 1043.132645 -757.181149 L 1041.980729 -757.390866 L 1040.828812 -757.589314 L 1039.676895 -757.776483 L 1038.524979 -757.952362 L 1037.373062 -758.116944 L 1036.221146 -758.270219 L 1035.069229 -758.412181 L 1033.917313 -758.542821 L 1032.765396 -758.662133 L 1031.61348 -758.770111 L 1030.461563 -758.86675 L 1029.309646 -758.952045 L 1028.15773 -759.025991 L 1027.005813 -759.088584 L 1025.853897 -759.139823 L 1024.70198 -759.179702 z
" transform="translate(0 838)" style="fill: #4b0082; fill-opacity: 0.2"/>
    </g>
   </g>
   <g id="matplotlib.axis_3">
    <g id="xtick_10">
     <g id="line2d_51">
      <g>
       <path d="M 0 0 L 0 -14 " transform="translate(1021.234653 750.1)" style="stroke: #000000; stroke-width: 3.2"/>
      </g>
     </g>
     <g id="text_16">
      <text style="font-size: 28px; font-family: 'DejaVu Sans', sans-serif; text-anchor: middle" x="1021.234653" y="786.175625" transform="rotate(-0 1021.234653 786.175625)">0</text>
     </g>
    </g>
    <g id="xtick_11">
     <g id="line2d_52">
      <g>
       <path d="M 0 0 L 0 -14 " transform="translate(1159.927723 750.1)" style="stroke: #000000; stroke-width: 3.2"/>
      </g>
     </g>
     <g id="text_17">
      <text style="font-size: 28px; font-family: 'DejaVu Sans', sans-serif; text-anchor: middle" x="1159.927723" y="786.175625" transform="rotate(-0 1159.927723 786.175625)">200</text>
     </g>
    </g>
    <g id="xtick_12">
     <g id="line2d_53">
      <g>
       <path d="M 0 0 L 0 -14 " transform="translate(1298.620792 750.1)" style="stroke: #000000; stroke-width: 3.2"/>
      </g>
     </g>
     <g id="text_18">
      <text style="font-size: 28px; font-family: 'DejaVu Sans', sans-serif; text-anchor: middle" x="1298.620792" y="786.175625" transform="rotate(-0 1298.620792 786.175625)">400</text>
     </g>
    </g>
    <g id="xtick_13">
     <g id="line2d_54">
      <g>
       <path d="M 0 0 L 0 -14 " transform="translate(1437.313861 750.1)" style="stroke: #000000; stroke-width: 3.2"/>
      </g>
     </g>
     <g id="text_19">
      <text style="font-size: 28px; font-family: 'DejaVu Sans', sans-serif; text-anchor: middle" x="1437.313861" y="786.175625" transform="rotate(-0 1437.313861 786.175625)">600</text>
     </g>
    </g>
    <g id="xtick_14">
     <g id="line2d_55">
      <g>
       <path d="M 0 0 L 0 -14 " transform="translate(1576.006931 750.1)" style="stroke: #000000; stroke-width: 3.2"/>
      </g>
     </g>
     <g id="text_20">
      <text style="font-size: 28px; font-family: 'DejaVu Sans', sans-serif; text-anchor: middle" x="1576.006931" y="786.175625" transform="rotate(-0 1576.006931 786.175625)">800</text>
     </g>
    </g>
    <g id="xtick_15">
     <g id="text_21">
      <text style="font-size: 28px; font-family: 'DejaVu Sans', sans-serif; text-anchor: middle" x="1714.7" y="786.175625" transform="rotate(-0 1714.7 786.175625)">1000</text>
     </g>
    </g>
    <g id="text_22">
     <text style="font-size: 28px; font-family: 'DejaVu Sans', sans-serif; text-anchor: middle" x="1364.5" y="830.074375" transform="rotate(-0 1364.5 830.074375)">Delay time (ms)</text>
    </g>
   </g>
   <g id="matplotlib.axis_4">
    <g id="ytick_22">
     <g id="text_23">
      <text style="font-size: 28px; font-family: 'DejaVu Sans', sans-serif; text-anchor: end" x="1000.3" y="760.737813" transform="rotate(-0 1000.3 760.737813)">0.0</text>
     </g>
    </g>
    <g id="ytick_23">
     <g id="line2d_56">
      <g>
       <path d="M 0 0 L 14 0 " transform="translate(1014.3 613.511765)" style="stroke: #000000; stroke-width: 3.2"/>
      </g>
     </g>
     <g id="text_24">
      <text style="font-size: 28px; font-family: 'DejaVu Sans', sans-serif; text-anchor: end" x="1000.3" y="624.149577" transform="rotate(-0 1000.3 624.149577)">0.2</text>
     </g>
    </g>
    <g id="ytick_24">
     <g id="line2d_57">
      <g>
       <path d="M 0 0 L 14 0 " transform="translate(1014.3 476.923529)" style="stroke: #000000; stroke-width: 3.2"/>
      </g>
     </g>
     <g id="text_25">
      <text style="font-size: 28px; font-family: 'DejaVu Sans', sans-serif; text-anchor: end" x="1000.3" y="487.561342" transform="rotate(-0 1000.3 487.561342)">0.4</text>
     </g>
    </g>
    <g id="ytick_25">
     <g id="line2d_58">
      <g>
       <path d="M 0 0 L 14 0 " transform="translate(1014.3 340.335294)" style="stroke: #000000; stroke-width: 3.2"/>
      </g>
     </g>
     <g id="text_26">
      <text style="font-size: 28px; font-family: 'DejaVu Sans', sans-serif; text-anchor: end" x="1000.3" y="350.973107" transform="rotate(-0 1000.3 350.973107)">0.6</text>
     </g>
    </g>
    <g id="ytick_26">
     <g id="line2d_59">
      <g>
       <path d="M 0 0 L 14 0 " transform="translate(1014.3 203.747059)" style="stroke: #000000; stroke-width: 3.2"/>
      </g>
     </g>
     <g id="text_27">
      <text style="font-size: 28px; font-family: 'DejaVu Sans', sans-serif; text-anchor: end" x="1000.3" y="214.384871" transform="rotate(-0 1000.3 214.384871)">0.8</text>
     </g>
    </g>
    <g id="ytick_27">
     <g id="line2d_60">
      <g>
       <path d="M 0 0 L 14 0 " transform="translate(1014.3 67.158824)" style="stroke: #000000; stroke-width: 3.2"/>
      </g>
     </g>
     <g id="text_28">
      <text style="font-size: 28px; font-family: 'DejaVu Sans', sans-serif; text-anchor: end" x="1000.3" y="77.796636" transform="rotate(-0 1000.3 77.796636)">1.0</text>
     </g>
    </g>
    <g id="ytick_28">
     <g id="line2d_61">
      <g>
       <path d="M 0 0 L 8 0 " transform="translate(1014.3 715.952941)" style="stroke: #000000; stroke-width: 2.4"/>
      </g>
     </g>
    </g>
    <g id="ytick_29">
     <g id="line2d_62">
      <g>
       <path d="M 0 0 L 8 0 " transform="translate(1014.3 681.805882)" style="stroke: #000000; stroke-width: 2.4"/>
      </g>
     </g>
    </g>
    <g id="ytick_30">
     <g id="line2d_63">
      <g>
       <path d="M 0 0 L 8 0 " transform="translate(1014.3 647.658824)" style="stroke: #000000; stroke-width: 2.4"/>
      </g>
     </g>
    </g>
    <g id="ytick_31">
     <g id="line2d_64">
      <g>
       <path d="M 0 0 L 8 0 " transform="translate(1014.3 579.364706)" style="stroke: #000000; stroke-width: 2.4"/>
      </g>
     </g>
    </g>
    <g id="ytick_32">
     <g id="line2d_65">
      <g>
       <path d="M 0 0 L 8 0 " transform="translate(1014.3 545.217647)" style="stroke: #000000; stroke-width: 2.4"/>
      </g>
     </g>
    </g>
    <g id="ytick_33">
     <g id="line2d_66">
      <g>
       <path d="M 0 0 L 8 0 " transform="translate(1014.3 511.070588)" style="stroke: #000000; stroke-width: 2.4"/>
      </g>
     </g>
    </g>
    <g id="ytick_34">
     <g id="line2d_67">
      <g>
       <path d="M 0 0 L 8 0 " transform="translate(1014.3 442.776471)" style="stroke: #000000; stroke-width: 2.4"/>
      </g>
     </g>
    </g>
    <g id="ytick_35">
     <g id="line2d_68">
      <g>
       <path d="M 0 0 L 8 0 " transform="translate(1014.3 408.629412)" style="stroke: #000000; stroke-width: 2.4"/>
      </g>
     </g>
    </g>
    <g id="ytick_36">
     <g id="line2d_69">
      <g>
       <path d="M 0 0 L 8 0 " transform="translate(1014.3 374.482353)" style="stroke: #000000; stroke-width: 2.4"/>
      </g>
     </g>
    </g>
    <g id="ytick_37">
     <g id="line2d_70">
      <g>
       <path d="M 0 0 L 8 0 " transform="translate(1014.3 306.188235)" style="stroke: #000000; stroke-width: 2.4"/>
      </g>
     </g>
    </g>
    <g id="ytick_38">
     <g id="line2d_71">
      <g>
       <path d="M 0 0 L 8 0 " transform="translate(1014.3 272.041176)" style="stroke: #000000; stroke-width: 2.4"/>
      </g>
     </g>
    </g>
    <g id="ytick_39">
     <g id="line2d_72">
      <g>
       <path d="M 0 0 L 8 0 " transform="translate(1014.3 237.894118)" style="stroke: #000000; stroke-width: 2.4"/>
      </g>
     </g>
    </g>
    <g id="ytick_40">
     <g id="line2d_73">
      <g>
       <path d="M 0 0 L 8 0 " transform="translate(1014.3 169.6)" style="stroke: #000000; stroke-width: 2.4"/>
      </g>
     </g>
    </g>
    <g id="ytick_41">
     <g id="line2d_74">
      <g>
       <path d="M 0 0 L 8 0 " transform="translate(1014.3 135.452941)" style="stroke: #000000; stroke-width: 2.4"/>
      </g>
     </g>
    </g>
    <g id="ytick_42">
     <g id="line2d_75">
      <g>
       <path d="M 0 0 L 8 0 " transform="translate(1014.3 101.305882)" style="stroke: #000000; stroke-width: 2.4"/>
      </g>
     </g>
    </g>
    <g id="text_29">
     <text style="font-size: 28px; font-family: 'DejaVu Sans', sans-serif; text-anchor: middle" x="933.948125" y="401.8" transform="rotate(-90 933.948125 401.8)">Ramsey fringe contrast</text>
    </g>
   </g>
   <g id="line2d_76">
    <path d="M 1024.70198 68.236732 L 1029.309646 68.473334 L 1033.917313 68.898632 L 1038.524979 69.512271 L 1043.132645 70.313743 L 1047.740311 71.302383 L 1052.347978 72.477371 L 1056.955644 73.837734 L 1062.715227 75.797142 L 1068.47481 78.041901 L 1074.234392 80.569122 L 1079.993975 83.375558 L 1085.753558 86.457615 L 1091.513141 89.811356 L 1097.272724 93.432513 L 1103.032306 97.316492 L 1108.791889 101.458387 L 1114.551472 105.852986 L 1120.311055 110.494787 L 1127.222554 116.38309 L 1134.134053 122.608511 L 1141.045553 129.160018 L 1147.957052 136.026081 L 1154.868552 143.194712 L 1161.780051 150.653495 L 1169.843467 159.705023 L 1177.906883 169.113095 L 1185.970299 178.856197 L 1195.185631 190.37316 L 1204.400964 202.265452 L 1213.616296 214.499033 L 1223.983545 228.62689 L 1235.502711 244.720003 L 1248.173793 262.825024 L 1263.148708 284.646643 L 1281.579373 311.931142 L 1339.175201 397.527486 L 1354.150117 419.253622 L 1367.973115 438.927698 L 1380.644197 456.576516 L 1392.163363 472.256434 L 1403.682529 487.553804 L 1414.049778 500.969141 L 1424.417027 514.030372 L 1434.784276 526.720404 L 1445.151525 539.024572 L 1454.366857 549.627685 L 1463.58219 559.909077 L 1472.797522 569.863055 L 1482.012855 579.485279 L 1491.228187 588.77271 L 1500.44352 597.723559 L 1509.658852 606.337219 L 1518.874185 614.614206 L 1528.089517 622.556096 L 1537.30485 630.165452 L 1545.368266 636.553574 L 1553.431682 642.692624 L 1561.495097 648.585937 L 1569.558513 654.237272 L 1577.621929 659.650781 L 1586.837262 665.552226 L 1596.052594 671.156172 L 1605.267927 676.470332 L 1614.483259 681.502838 L 1623.698592 686.26217 L 1632.913924 690.757105 L 1642.129257 694.996651 L 1651.344589 698.989996 L 1660.559922 702.746456 L 1669.775254 706.275425 L 1678.990587 709.58633 L 1689.357836 713.062165 L 1699.725085 716.287258 L 1710.092334 719.274795 L 1714.7 720.529741 L 1714.7 720.529741 " clip-path="url(#p5ecd4a34b8)" style="fill: none; stroke: #6495ed; stroke-width: 6; stroke-linecap: square"/>
   </g>
   <g id="line2d_77">
    <path d="M 1024.70198 69.261348 L 1029.309646 69.498855 L 1033.917313 69.925778 L 1038.524979 70.54176 L 1043.132645 71.346287 L 1047.740311 72.338689 L 1052.347978 73.518137 L 1056.955644 74.88365 L 1062.715227 76.850452 L 1068.47481 79.103643 L 1074.234392 81.640309 L 1079.993975 84.457174 L 1085.753558 87.550611 L 1091.513141 90.916648 L 1097.272724 94.550979 L 1103.032306 98.448969 L 1108.791889 102.605669 L 1114.551472 107.015823 L 1120.311055 111.673879 L 1127.222554 117.582541 L 1134.134053 123.829169 L 1141.045553 130.402636 L 1147.957052 137.291317 L 1154.868552 144.483124 L 1161.780051 151.965539 L 1169.843467 161.045078 L 1177.906883 170.481478 L 1185.970299 180.253056 L 1195.185631 191.802532 L 1204.400964 203.727066 L 1214.768213 217.547773 L 1225.135462 231.750389 L 1236.654627 247.918563 L 1249.32571 266.095941 L 1264.300625 287.98869 L 1283.883206 317.057289 L 1334.567535 392.53556 L 1350.694367 416.044015 L 1364.517366 435.814791 L 1377.188448 453.562186 L 1388.707613 469.338735 L 1400.226779 484.738336 L 1410.594028 498.24963 L 1420.961277 511.409823 L 1431.328526 524.201137 L 1441.695775 536.608255 L 1450.911108 547.303782 L 1460.12644 557.67801 L 1469.341773 567.724862 L 1478.557105 577.439636 L 1487.772438 586.818962 L 1496.98777 595.860738 L 1506.203103 604.564076 L 1515.418435 612.929235 L 1524.633768 620.957557 L 1533.8491 628.651399 L 1541.912516 635.111705 L 1549.975932 641.321202 L 1558.039348 647.28313 L 1566.102764 653.001169 L 1574.16618 658.479401 L 1582.229596 663.722276 L 1591.444928 669.432091 L 1600.660261 674.848367 L 1609.875593 679.979154 L 1619.090925 684.832881 L 1628.306258 689.418288 L 1637.52159 693.744373 L 1646.736923 697.82033 L 1655.952255 701.655501 L 1665.167588 705.25932 L 1674.38292 708.64127 L 1684.750169 712.19257 L 1695.117418 715.488516 L 1705.484668 718.542422 L 1714.7 721.064432 L 1714.7 721.064432 " clip-path="url(#p5ecd4a34b8)" style="fill: none; stroke: #c71585; stroke-width: 6; stroke-linecap: square"/>
   </g>
   <g id="line2d_78">
    <path d="M 1024.70198 78.825534 L 1029.309646 79.076344 L 1033.917313 79.527165 L 1038.524979 80.177592 L 1043.132645 81.027045 L 1047.740311 82.074765 L 1052.347978 83.319816 L 1056.955644 84.761088 L 1061.56331 86.397299 L 1066.170976 88.226994 L 1071.930559 90.78371 L 1077.690142 93.636659 L 1083.449725 96.781905 L 1089.209308 100.215124 L 1094.96889 103.93161 L 1100.728473 107.926288 L 1106.488056 112.193727 L 1112.247639 116.728149 L 1118.007222 121.523444 L 1123.766804 126.573186 L 1130.678304 132.959243 L 1137.589803 139.689812 L 1144.501303 146.75215 L 1151.412802 154.132994 L 1158.324301 161.818603 L 1166.387717 171.151397 L 1174.451133 180.856506 L 1182.514549 190.910111 L 1191.729881 202.795409 L 1200.945214 215.067007 L 1210.160546 227.6873 L 1220.527796 242.254635 L 1232.046961 258.835704 L 1244.718043 277.469336 L 1259.692959 299.893375 L 1280.427457 331.380558 L 1319.59262 390.942268 L 1335.719452 415.038168 L 1349.54245 435.317974 L 1362.213532 453.528093 L 1373.732698 469.716494 L 1385.251864 485.5151 L 1395.619113 499.37135 L 1405.986362 512.860565 L 1416.353611 525.962865 L 1425.568943 537.270659 L 1434.784276 548.249015 L 1443.999608 558.889411 L 1453.214941 569.184951 L 1462.430273 579.130304 L 1471.645606 588.721648 L 1480.860938 597.956605 L 1488.924354 605.744021 L 1496.98777 613.257935 L 1505.051186 620.499215 L 1513.114602 627.469411 L 1521.178018 634.170713 L 1529.241434 640.605908 L 1537.30485 646.77834 L 1545.368266 652.691864 L 1553.431682 658.350805 L 1561.495097 663.759917 L 1569.558513 668.92434 L 1577.621929 673.849558 L 1585.685345 678.541361 L 1593.748761 683.005804 L 1602.964094 687.837697 L 1612.179426 692.390528 L 1621.394759 696.67424 L 1630.610091 700.698969 L 1639.825424 704.474987 L 1649.040756 708.01264 L 1658.256089 711.322299 L 1667.471421 714.414308 L 1677.83867 717.645445 L 1688.205919 720.628571 L 1698.573168 723.377889 L 1708.940417 725.9073 L 1714.7 727.222507 L 1714.7 727.222507 " clip-path="url(#p5ecd4a34b8)" style="fill: none; stroke: #4b0082; stroke-width: 6; stroke-linecap: square"/>
   </g>
   <g id="line2d_79">
    <path d="M 1021.234653 498.859982 L 1714.7 498.859982 " clip-path="url(#p5ecd4a34b8)" style="fill: none; stroke-dasharray: 22.152,9.57; stroke-dashoffset: 0; stroke: #000000; stroke-width: 6"/>
   </g>
   <g id="LineCollection_7">
    <path d="M 1076.711881 103.013235 L 1076.711881 73.646765 " clip-path="url(#p5ecd4a34b8)" style="fill: none; stroke: #4b0082; stroke-width: 3"/>
    <path d="M 1090.581188 158.331471 L 1090.581188 83.207941 " clip-path="url(#p5ecd4a34b8)" style="fill: none; stroke: #4b0082; stroke-width: 3"/>
   </g>
   <g id="line2d_80">
    <g clip-path="url(#p5ecd4a34b8)">
     <path d="M 6 0 L -6 -0 " transform="translate(1076.711881 103.013235)" style="fill: #4b0082; stroke: #4b0082; stroke-width: 4"/>
     <path d="M 6 0 L -6 -0 " transform="translate(1090.581188 158.331471)" style="fill: #4b0082; stroke: #4b0082; stroke-width: 4"/>
    </g>
   </g>
   <g id="line2d_81">
    <g clip-path="url(#p5ecd4a34b8)">
     <path d="M 6 0 L -6 -0 " transform="translate(1076.711881 73.646765)" style="fill: #4b0082; stroke: #4b0082; stroke-width: 4"/>
     <path d="M 6 0 L -6 -0 " transform="translate(1090.581188 83.207941)" style="fill: #4b0082; stroke: #4b0082; stroke-width: 4"/>
    </g>
   </g>
   <g id="LineCollection_8">
    <path d="M 1024.70198 66.817353 L 1024.70198 66.817353 " clip-path="url(#p5ecd4a34b8)" style="fill: none; stroke: #6495ed; stroke-width: 3"/>
    <path d="M 1090.581188 99.94 L 1090.581188 93.110588 " clip-path="url(#p5ecd4a34b8)" style="fill: none; stroke: #6495ed; stroke-width: 3"/>
    <path d="M 1159.927723 177.112353 L 1159.927723 92.427647 " clip-path="url(#p5ecd4a34b8)" style="fill: none; stroke: #6495ed; stroke-width: 3"/>
    <path d="M 1229.274257 313.017647 L 1229.274257 185.990588 " clip-path="url(#p5ecd4a34b8)" style="fill: none; stroke: #6495ed; stroke-width: 3"/>
    <path d="M 1298.620792 414.912471 L 1298.620792 304.276 " clip-path="url(#p5ecd4a34b8)" style="fill: none; stroke: #6495ed; stroke-width: 3"/>
    <path d="M 1367.967327 473.235647 L 1367.967327 366.833412 " clip-path="url(#p5ecd4a34b8)" style="fill: none; stroke: #6495ed; stroke-width: 3"/>
   </g>
   <g id="line2d_82">
    <g clip-path="url(#p5ecd4a34b8)">
     <path d="M 6 0 L -6 -0 " transform="translate(1024.70198 66.817353)" style="fill: #6495ed; stroke: #6495ed; stroke-width: 4"/>
     <path d="M 6 0 L -6 -0 " transform="translate(1090.581188 99.94)" style="fill: #6495ed; stroke: #6495ed; stroke-width: 4"/>
     <path d="M 6 0 L -6 -0 " transform="translate(1159.927723 177.112353)" style="fill: #6495ed; stroke: #6495ed; stroke-width: 4"/>
     <path d="M 6 0 L -6 -0 " transform="translate(1229.274257 313.017647)" style="fill: #6495ed; stroke: #6495ed; stroke-width: 4"/>
     <path d="M 6 0 L -6 -0 " transform="translate(1298.620792 414.912471)" style="fill: #6495ed; stroke: #6495ed; stroke-width: 4"/>
     <path d="M 6 0 L -6 -0 " transform="translate(1367.967327 473.235647)" style="fill: #6495ed; stroke: #6495ed; stroke-width: 4"/>
    </g>
   </g>
   <g id="line2d_83">
    <g clip-path="url(#p5ecd4a34b8)">
     <path d="M 6 0 L -6 -0 " transform="translate(1024.70198 66.817353)" style="fill: #6495ed; stroke: #6495ed; stroke-width: 4"/>
     <path d="M 6 0 L -6 -0 " transform="translate(1090.581188 93.110588)" style="fill: #6495ed; stroke: #6495ed; stroke-width: 4"/>
     <path d="M 6 0 L -6 -0 " transform="translate(1159.927723 92.427647)" style="fill: #6495ed; stroke: #6495ed; stroke-width: 4"/>
     <path d="M 6 0 L -6 -0 " transform="translate(1229.274257 185.990588)" style="fill: #6495ed; stroke: #6495ed; stroke-width: 4"/>
     <path d="M 6 0 L -6 -0 " transform="translate(1298.620792 304.276)" style="fill: #6495ed; stroke: #6495ed; stroke-width: 4"/>
     <path d="M 6 0 L -6 -0 " transform="translate(1367.967327 366.833412)" style="fill: #6495ed; stroke: #6495ed; stroke-width: 4"/>
    </g>
   </g>
   <g id="LineCollection_9">
    <path d="M 1024.70198 68.251529 L 1024.70198 68.251529 " clip-path="url(#p5ecd4a34b8)" style="fill: none; stroke: #c71585; stroke-width: 3"/>
    <path d="M 1090.581188 89.695882 L 1090.581188 63.744118 " clip-path="url(#p5ecd4a34b8)" style="fill: none; stroke: #c71585; stroke-width: 3"/>
    <path d="M 1159.927723 201.015294 L 1159.927723 79.451765 " clip-path="url(#p5ecd4a34b8)" style="fill: none; stroke: #c71585; stroke-width: 3"/>
    <path d="M 1229.274257 351.535529 L 1229.274257 195.824941 " clip-path="url(#p5ecd4a34b8)" style="fill: none; stroke: #c71585; stroke-width: 3"/>
    <path d="M 1298.620792 392.512 L 1298.620792 267.124 " clip-path="url(#p5ecd4a34b8)" style="fill: none; stroke: #c71585; stroke-width: 3"/>
    <path d="M 1367.967327 488.601824 L 1367.967327 409.517235 " clip-path="url(#p5ecd4a34b8)" style="fill: none; stroke: #c71585; stroke-width: 3"/>
   </g>
   <g id="line2d_84">
    <g clip-path="url(#p5ecd4a34b8)">
     <path d="M 6 0 L -6 -0 " transform="translate(1024.70198 68.251529)" style="fill: #c71585; stroke: #c71585; stroke-width: 4"/>
     <path d="M 6 0 L -6 -0 " transform="translate(1090.581188 89.695882)" style="fill: #c71585; stroke: #c71585; stroke-width: 4"/>
     <path d="M 6 0 L -6 -0 " transform="translate(1159.927723 201.015294)" style="fill: #c71585; stroke: #c71585; stroke-width: 4"/>
     <path d="M 6 0 L -6 -0 " transform="translate(1229.274257 351.535529)" style="fill: #c71585; stroke: #c71585; stroke-width: 4"/>
     <path d="M 6 0 L -6 -0 " transform="translate(1298.620792 392.512)" style="fill: #c71585; stroke: #c71585; stroke-width: 4"/>
     <path d="M 6 0 L -6 -0 " transform="translate(1367.967327 488.601824)" style="fill: #c71585; stroke: #c71585; stroke-width: 4"/>
    </g>
   </g>
   <g id="line2d_85">
    <g clip-path="url(#p5ecd4a34b8)">
     <path d="M 6 0 L -6 -0 " transform="translate(1024.70198 68.251529)" style="fill: #c71585; stroke: #c71585; stroke-width: 4"/>
     <path d="M 6 0 L -6 -0 " transform="translate(1090.581188 63.744118)" style="fill: #c71585; stroke: #c71585; stroke-width: 4"/>
     <path d="M 6 0 L -6 -0 " transform="translate(1159.927723 79.451765)" style="fill: #c71585; stroke: #c71585; stroke-width: 4"/>
     <path d="M 6 0 L -6 -0 " transform="translate(1229.274257 195.824941)" style="fill: #c71585; stroke: #c71585; stroke-width: 4"/>
     <path d="M 6 0 L -6 -0 " transform="translate(1298.620792 267.124)" style="fill: #c71585; stroke: #c71585; stroke-width: 4"/>
     <path d="M 6 0 L -6 -0 " transform="translate(1367.967327 409.517235)" style="fill: #c71585; stroke: #c71585; stroke-width: 4"/>
    </g>
   </g>
   <g id="LineCollection_10">
    <path d="M 1159.927723 237.006294 L 1159.927723 119.950176 " clip-path="url(#p5ecd4a34b8)" style="fill: none; stroke: #4b0082; stroke-width: 3"/>
    <path d="M 1229.274257 301.612529 L 1229.274257 215.835118 " clip-path="url(#p5ecd4a34b8)" style="fill: none; stroke: #4b0082; stroke-width: 3"/>
    <path d="M 1298.620792 412.249 L 1298.620792 326.198412 " clip-path="url(#p5ecd4a34b8)" style="fill: none; stroke: #4b0082; stroke-width: 3"/>
    <path d="M 1367.967327 486.143235 L 1367.967327 416.756412 " clip-path="url(#p5ecd4a34b8)" style="fill: none; stroke: #4b0082; stroke-width: 3"/>
   </g>
   <g id="line2d_86">
    <g clip-path="url(#p5ecd4a34b8)">
     <path d="M 6 0 L -6 -0 " transform="translate(1159.927723 237.006294)" style="fill: #4b0082; stroke: #4b0082; stroke-width: 4"/>
     <path d="M 6 0 L -6 -0 " transform="translate(1229.274257 301.612529)" style="fill: #4b0082; stroke: #4b0082; stroke-width: 4"/>
     <path d="M 6 0 L -6 -0 " transform="translate(1298.620792 412.249)" style="fill: #4b0082; stroke: #4b0082; stroke-width: 4"/>
     <path d="M 6 0 L -6 -0 " transform="translate(1367.967327 486.143235)" style="fill: #4b0082; stroke: #4b0082; stroke-width: 4"/>
    </g>
   </g>
   <g id="line2d_87">
    <g clip-path="url(#p5ecd4a34b8)">
     <path d="M 6 0 L -6 -0 " transform="translate(1159.927723 119.950176)" style="fill: #4b0082; stroke: #4b0082; stroke-width: 4"/>
     <path d="M 6 0 L -6 -0 " transform="translate(1229.274257 215.835118)" style="fill: #4b0082; stroke: #4b0082; stroke-width: 4"/>
     <path d="M 6 0 L -6 -0 " transform="translate(1298.620792 326.198412)" style="fill: #4b0082; stroke: #4b0082; stroke-width: 4"/>
     <path d="M 6 0 L -6 -0 " transform="translate(1367.967327 416.756412)" style="fill: #4b0082; stroke: #4b0082; stroke-width: 4"/>
    </g>
   </g>
   <g id="line2d_88">
    <g clip-path="url(#p5ecd4a34b8)">
     <path d="M -0 11.313708 L 6.788225 0 L 0 -11.313708 L -6.788225 -0 z
" transform="translate(1076.711881 88.33)" style="fill: #4b0082; stroke: #4b0082; stroke-width: 4; stroke-linejoin: miter"/>
     <path d="M -0 11.313708 L 6.788225 0 L 0 -11.313708 L -6.788225 -0 z
" transform="translate(1090.581188 120.769706)" style="fill: #4b0082; stroke: #4b0082; stroke-width: 4; stroke-linejoin: miter"/>
    </g>
   </g>
   <g id="line2d_89">
    <g clip-path="url(#p5ecd4a34b8)">
     <path d="M -0 11.313708 L 6.788225 0 L 0 -11.313708 L -6.788225 -0 z
" transform="translate(1024.70198 66.817353)" style="fill: #6495ed; stroke: #6495ed; stroke-width: 4; stroke-linejoin: miter"/>
     <path d="M -0 11.313708 L 6.788225 0 L 0 -11.313708 L -6.788225 -0 z
" transform="translate(1090.581188 96.525294)" style="fill: #6495ed; stroke: #6495ed; stroke-width: 4; stroke-linejoin: miter"/>
     <path d="M -0 11.313708 L 6.788225 0 L 0 -11.313708 L -6.788225 -0 z
" transform="translate(1159.927723 134.77)" style="fill: #6495ed; stroke: #6495ed; stroke-width: 4; stroke-linejoin: miter"/>
     <path d="M -0 11.313708 L 6.788225 0 L 0 -11.313708 L -6.788225 -0 z
" transform="translate(1229.274257 249.504118)" style="fill: #6495ed; stroke: #6495ed; stroke-width: 4; stroke-linejoin: miter"/>
     <path d="M -0 11.313708 L 6.788225 0 L 0 -11.313708 L -6.788225 -0 z
" transform="translate(1298.620792 359.594235)" style="fill: #6495ed; stroke: #6495ed; stroke-width: 4; stroke-linejoin: miter"/>
     <path d="M -0 11.313708 L 6.788225 0 L 0 -11.313708 L -6.788225 -0 z
" transform="translate(1367.967327 420.034529)" style="fill: #6495ed; stroke: #6495ed; stroke-width: 4; stroke-linejoin: miter"/>
    </g>
   </g>
   <g id="line2d_90">
    <g clip-path="url(#p5ecd4a34b8)">
     <path d="M -0 11.313708 L 6.788225 0 L 0 -11.313708 L -6.788225 -0 z
" transform="translate(1024.70198 68.251529)" style="fill: #c71585; stroke: #c71585; stroke-width: 4; stroke-linejoin: miter"/>
     <path d="M -0 11.313708 L 6.788225 0 L 0 -11.313708 L -6.788225 -0 z
" transform="translate(1090.581188 76.72)" style="fill: #c71585; stroke: #c71585; stroke-width: 4; stroke-linejoin: miter"/>
     <path d="M -0 11.313708 L 6.788225 0 L 0 -11.313708 L -6.788225 -0 z
" transform="translate(1159.927723 140.233529)" style="fill: #c71585; stroke: #c71585; stroke-width: 4; stroke-linejoin: miter"/>
     <path d="M -0 11.313708 L 6.788225 0 L 0 -11.313708 L -6.788225 -0 z
" transform="translate(1229.274257 273.680235)" style="fill: #c71585; stroke: #c71585; stroke-width: 4; stroke-linejoin: miter"/>
     <path d="M -0 11.313708 L 6.788225 0 L 0 -11.313708 L -6.788225 -0 z
" transform="translate(1298.620792 329.818)" style="fill: #c71585; stroke: #c71585; stroke-width: 4; stroke-linejoin: miter"/>
     <path d="M -0 11.313708 L 6.788225 0 L 0 -11.313708 L -6.788225 -0 z
" transform="translate(1367.967327 449.059529)" style="fill: #c71585; stroke: #c71585; stroke-width: 4; stroke-linejoin: miter"/>
    </g>
   </g>
   <g id="line2d_91">
    <g clip-path="url(#p5ecd4a34b8)">
     <path d="M -0 11.313708 L 6.788225 0 L 0 -11.313708 L -6.788225 -0 z
" transform="translate(1159.927723 178.478235)" style="fill: #4b0082; stroke: #4b0082; stroke-width: 4; stroke-linejoin: miter"/>
     <path d="M -0 11.313708 L 6.788225 0 L 0 -11.313708 L -6.788225 -0 z
" transform="translate(1229.274257 258.723824)" style="fill: #4b0082; stroke: #4b0082; stroke-width: 4; stroke-linejoin: miter"/>
     <path d="M -0 11.313708 L 6.788225 0 L 0 -11.313708 L -6.788225 -0 z
" transform="translate(1298.620792 369.223706)" style="fill: #4b0082; stroke: #4b0082; stroke-width: 4; stroke-linejoin: miter"/>
     <path d="M -0 11.313708 L 6.788225 0 L 0 -11.313708 L -6.788225 -0 z
" transform="translate(1367.967327 451.449824)" style="fill: #4b0082; stroke: #4b0082; stroke-width: 4; stroke-linejoin: miter"/>
    </g>
   </g>
   <g id="patch_9">
    <path d="M 1014.3 750.1 L 1014.3 53.5 " style="fill: none; stroke: #000000; stroke-width: 3.2; stroke-linejoin: miter; stroke-linecap: square"/>
   </g>
   <g id="patch_10">
    <path d="M 1714.7 750.1 L 1714.7 53.5 " style="fill: none; stroke: #000000; stroke-width: 3.2; stroke-linejoin: miter; stroke-linecap: square"/>
   </g>
   <g id="patch_11">
    <path d="M 1014.3 750.1 L 1714.7 750.1 " style="fill: none; stroke: #000000; stroke-width: 3.2; stroke-linejoin: miter; stroke-linecap: square"/>
   </g>
   <g id="patch_12">
    <path d="M 1014.3 53.5 L 1714.7 53.5 " style="fill: none; stroke: #000000; stroke-width: 3.2; stroke-linejoin: miter; stroke-linecap: square"/>
   </g>
   <g id="legend_2">
    <g id="patch_13">
     <path d="M 1033.83 736.15 L 1256.899219 736.15 Q 1262.479219 736.15 1262.479219 730.57 L 1262.479219 610.504094 Q 1262.479219 604.924094 1256.899219 604.924094 L 1033.83 604.924094 Q 1028.25 604.924094 1028.25 610.504094 L 1028.25 730.57 Q 1028.25 736.15 1033.83 736.15 z
" style="fill: #ffffff; fill-opacity: 0.8; stroke-opacity: 0.8; stroke: #cccccc; stroke-width: 4; stroke-linejoin: miter"/>
    </g>
    <g id="LineCollection_11">
     <path d="M 1067.31 641.468734 L 1067.31 613.568734 " style="fill: none; stroke: #6495ed; stroke-width: 3"/>
    </g>
    <g id="line2d_92">
     <g>
      <path d="M 6 0 L -6 -0 " transform="translate(1067.31 641.468734)" style="fill: #6495ed; stroke: #6495ed; stroke-width: 4"/>
     </g>
    </g>
    <g id="line2d_93">
     <g>
      <path d="M 6 0 L -6 -0 " transform="translate(1067.31 613.568734)" style="fill: #6495ed; stroke: #6495ed; stroke-width: 4"/>
     </g>
    </g>
    <g id="line2d_94"/>
    <g id="line2d_95">
     <g>
      <path d="M -0 11.313708 L 6.788225 0 L 0 -11.313708 L -6.788225 -0 z
" transform="translate(1067.31 627.518734)" style="fill: #6495ed; stroke: #6495ed; stroke-width: 4; stroke-linejoin: miter"/>
     </g>
    </g>
    <g id="text_30">
     <text style="font-size: 27.9px; font-family: 'DejaVu Sans', sans-serif; text-anchor: start" x="1117.53" y="637.9837">0 Links</text>
    </g>
    <g id="LineCollection_12">
     <path d="M 1067.31 682.420703 L 1067.31 654.520703 " style="fill: none; stroke: #c71585; stroke-width: 3"/>
    </g>
    <g id="line2d_96">
     <g>
      <path d="M 6 0 L -6 -0 " transform="translate(1067.31 682.420703)" style="fill: #c71585; stroke: #c71585; stroke-width: 4"/>
     </g>
    </g>
    <g id="line2d_97">
     <g>
      <path d="M 6 0 L -6 -0 " transform="translate(1067.31 654.520703)" style="fill: #c71585; stroke: #c71585; stroke-width: 4"/>
     </g>
    </g>
    <g id="line2d_98"/>
    <g id="line2d_99">
     <g>
      <path d="M -0 11.313708 L 6.788225 0 L 0 -11.313708 L -6.788225 -0 z
" transform="translate(1067.31 668.470703)" style="fill: #c71585; stroke: #c71585; stroke-width: 4; stroke-linejoin: miter"/>
     </g>
    </g>
    <g id="text_31">
     <text style="font-size: 27.9px; font-family: 'DejaVu Sans', sans-serif; text-anchor: start" x="1117.53" y="678.9357">2 Links</text>
    </g>
    <g id="LineCollection_13">
     <path d="M 1067.31 723.372672 L 1067.31 695.472672 " style="fill: none; stroke: #4b0082; stroke-width: 3"/>
    </g>
    <g id="line2d_100">
     <g>
      <path d="M 6 0 L -6 -0 " transform="translate(1067.31 723.372672)" style="fill: #4b0082; stroke: #4b0082; stroke-width: 4"/>
     </g>
    </g>
    <g id="line2d_101">
     <g>
      <path d="M 6 0 L -6 -0 " transform="translate(1067.31 695.472672)" style="fill: #4b0082; stroke: #4b0082; stroke-width: 4"/>
     </g>
    </g>
    <g id="line2d_102"/>
    <g id="line2d_103">
     <g>
      <path d="M -0 11.313708 L 6.788225 0 L 0 -11.313708 L -6.788225 -0 z
" transform="translate(1067.31 709.422672)" style="fill: #4b0082; stroke: #4b0082; stroke-width: 4; stroke-linejoin: miter"/>
     </g>
    </g>
    <g id="text_32">
     <text style="font-size: 27.9px; font-family: 'DejaVu Sans', sans-serif; text-anchor: start" x="1117.53" y="719.8877">100 Links</text>
    </g>
   </g>
  </g>
 </g>
 <defs>
  <clipPath id="pd5bb736782">
   <rect x="141.8" y="57.9" width="701.1" height="697"/>
  </clipPath>
  <clipPath id="p5ecd4a34b8">
   <rect x="1014.3" y="53.5" width="700.4" height="696.6"/>
  </clipPath>
 </defs>
</svg>

<div class="lab" id="la" style="left:-1.5px;top:-2.5px;letter-spacing:1.5px;">a)</div>
<div class="lab" id="lb" style="left:877px;top:-2.5px;letter-spacing:1.2px;">b)</div>
</body></html>
